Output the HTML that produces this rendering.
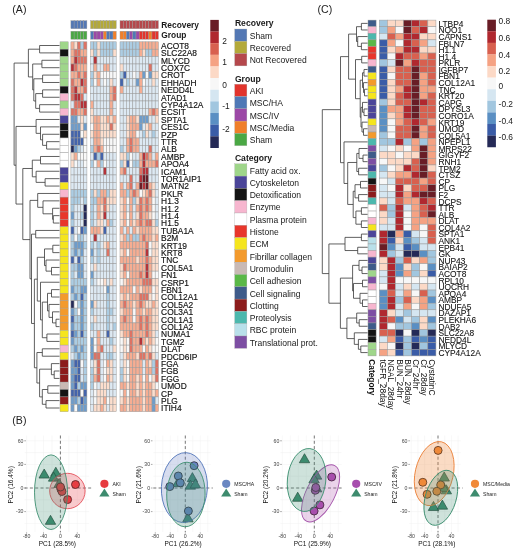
<!DOCTYPE html>
<html><head><meta charset="utf-8"><title>Figure</title>
<style>
html,body{margin:0;padding:0;background:#fff;}
body{width:517px;height:550px;overflow:hidden;}
svg{display:block;font-family:"Liberation Sans",sans-serif;filter:blur(0.5px);}
</style></head>
<body>
<svg width="517" height="550" viewBox="0 0 517 550" shape-rendering="auto">
<rect width="517" height="550" fill="#fff"/>
<rect x="70.90" y="20.7" width="3.2" height="8.0" fill="#5478b4" stroke="#9a9a9a" stroke-width="0.4"/>
<rect x="70.90" y="31.2" width="3.2" height="8.0" fill="#4aa844" stroke="#9a9a9a" stroke-width="0.4"/>
<rect x="74.10" y="20.7" width="3.2" height="8.0" fill="#5478b4" stroke="#9a9a9a" stroke-width="0.4"/>
<rect x="74.10" y="31.2" width="3.2" height="8.0" fill="#4aa844" stroke="#9a9a9a" stroke-width="0.4"/>
<rect x="77.30" y="20.7" width="3.2" height="8.0" fill="#5478b4" stroke="#9a9a9a" stroke-width="0.4"/>
<rect x="77.30" y="31.2" width="3.2" height="8.0" fill="#4aa844" stroke="#9a9a9a" stroke-width="0.4"/>
<rect x="80.50" y="20.7" width="3.2" height="8.0" fill="#5478b4" stroke="#9a9a9a" stroke-width="0.4"/>
<rect x="80.50" y="31.2" width="3.2" height="8.0" fill="#4aa844" stroke="#9a9a9a" stroke-width="0.4"/>
<rect x="83.70" y="20.7" width="3.2" height="8.0" fill="#5478b4" stroke="#9a9a9a" stroke-width="0.4"/>
<rect x="83.70" y="31.2" width="3.2" height="8.0" fill="#4aa844" stroke="#9a9a9a" stroke-width="0.4"/>
<rect x="90.60" y="20.7" width="3.2" height="8.0" fill="#b3a93a" stroke="#9a9a9a" stroke-width="0.4"/>
<rect x="90.60" y="31.2" width="3.2" height="8.0" fill="#4f78b6" stroke="#9a9a9a" stroke-width="0.4"/>
<rect x="93.80" y="20.7" width="3.2" height="8.0" fill="#b3a93a" stroke="#9a9a9a" stroke-width="0.4"/>
<rect x="93.80" y="31.2" width="3.2" height="8.0" fill="#9c48a6" stroke="#9a9a9a" stroke-width="0.4"/>
<rect x="97.00" y="20.7" width="3.2" height="8.0" fill="#b3a93a" stroke="#9a9a9a" stroke-width="0.4"/>
<rect x="97.00" y="31.2" width="3.2" height="8.0" fill="#9c48a6" stroke="#9a9a9a" stroke-width="0.4"/>
<rect x="100.20" y="20.7" width="3.2" height="8.0" fill="#b3a93a" stroke="#9a9a9a" stroke-width="0.4"/>
<rect x="100.20" y="31.2" width="3.2" height="8.0" fill="#9c48a6" stroke="#9a9a9a" stroke-width="0.4"/>
<rect x="103.40" y="20.7" width="3.2" height="8.0" fill="#b3a93a" stroke="#9a9a9a" stroke-width="0.4"/>
<rect x="103.40" y="31.2" width="3.2" height="8.0" fill="#f07f2a" stroke="#9a9a9a" stroke-width="0.4"/>
<rect x="106.60" y="20.7" width="3.2" height="8.0" fill="#b3a93a" stroke="#9a9a9a" stroke-width="0.4"/>
<rect x="106.60" y="31.2" width="3.2" height="8.0" fill="#4f78b6" stroke="#9a9a9a" stroke-width="0.4"/>
<rect x="109.80" y="20.7" width="3.2" height="8.0" fill="#b3a93a" stroke="#9a9a9a" stroke-width="0.4"/>
<rect x="109.80" y="31.2" width="3.2" height="8.0" fill="#4f78b6" stroke="#9a9a9a" stroke-width="0.4"/>
<rect x="113.00" y="20.7" width="3.2" height="8.0" fill="#b3a93a" stroke="#9a9a9a" stroke-width="0.4"/>
<rect x="113.00" y="31.2" width="3.2" height="8.0" fill="#f07f2a" stroke="#9a9a9a" stroke-width="0.4"/>
<rect x="120.00" y="20.7" width="3.2" height="8.0" fill="#b5484c" stroke="#9a9a9a" stroke-width="0.4"/>
<rect x="120.00" y="31.2" width="3.2" height="8.0" fill="#f07f2a" stroke="#9a9a9a" stroke-width="0.4"/>
<rect x="123.20" y="20.7" width="3.2" height="8.0" fill="#b5484c" stroke="#9a9a9a" stroke-width="0.4"/>
<rect x="123.20" y="31.2" width="3.2" height="8.0" fill="#f07f2a" stroke="#9a9a9a" stroke-width="0.4"/>
<rect x="126.40" y="20.7" width="3.2" height="8.0" fill="#b5484c" stroke="#9a9a9a" stroke-width="0.4"/>
<rect x="126.40" y="31.2" width="3.2" height="8.0" fill="#4f78b6" stroke="#9a9a9a" stroke-width="0.4"/>
<rect x="129.60" y="20.7" width="3.2" height="8.0" fill="#b5484c" stroke="#9a9a9a" stroke-width="0.4"/>
<rect x="129.60" y="31.2" width="3.2" height="8.0" fill="#9c48a6" stroke="#9a9a9a" stroke-width="0.4"/>
<rect x="132.80" y="20.7" width="3.2" height="8.0" fill="#b5484c" stroke="#9a9a9a" stroke-width="0.4"/>
<rect x="132.80" y="31.2" width="3.2" height="8.0" fill="#4f78b6" stroke="#9a9a9a" stroke-width="0.4"/>
<rect x="136.00" y="20.7" width="3.2" height="8.0" fill="#b5484c" stroke="#9a9a9a" stroke-width="0.4"/>
<rect x="136.00" y="31.2" width="3.2" height="8.0" fill="#9c48a6" stroke="#9a9a9a" stroke-width="0.4"/>
<rect x="139.20" y="20.7" width="3.2" height="8.0" fill="#b5484c" stroke="#9a9a9a" stroke-width="0.4"/>
<rect x="139.20" y="31.2" width="3.2" height="8.0" fill="#e2342c" stroke="#9a9a9a" stroke-width="0.4"/>
<rect x="142.40" y="20.7" width="3.2" height="8.0" fill="#b5484c" stroke="#9a9a9a" stroke-width="0.4"/>
<rect x="142.40" y="31.2" width="3.2" height="8.0" fill="#e2342c" stroke="#9a9a9a" stroke-width="0.4"/>
<rect x="145.60" y="20.7" width="3.2" height="8.0" fill="#b5484c" stroke="#9a9a9a" stroke-width="0.4"/>
<rect x="145.60" y="31.2" width="3.2" height="8.0" fill="#e2342c" stroke="#9a9a9a" stroke-width="0.4"/>
<rect x="148.80" y="20.7" width="3.2" height="8.0" fill="#b5484c" stroke="#9a9a9a" stroke-width="0.4"/>
<rect x="148.80" y="31.2" width="3.2" height="8.0" fill="#f07f2a" stroke="#9a9a9a" stroke-width="0.4"/>
<rect x="152.00" y="20.7" width="3.2" height="8.0" fill="#b5484c" stroke="#9a9a9a" stroke-width="0.4"/>
<rect x="152.00" y="31.2" width="3.2" height="8.0" fill="#e2342c" stroke="#9a9a9a" stroke-width="0.4"/>
<rect x="155.20" y="20.7" width="3.2" height="8.0" fill="#b5484c" stroke="#9a9a9a" stroke-width="0.4"/>
<rect x="155.20" y="31.2" width="3.2" height="8.0" fill="#e2342c" stroke="#9a9a9a" stroke-width="0.4"/>
<rect x="70.90" y="41.80" width="3.2" height="7.398" fill="#f6ad92" stroke="#9a9a9a" stroke-width="0.5"/>
<rect x="74.10" y="41.80" width="3.2" height="7.398" fill="#fcdecd" stroke="#9a9a9a" stroke-width="0.5"/>
<rect x="77.30" y="41.80" width="3.2" height="7.398" fill="#dd7364" stroke="#9a9a9a" stroke-width="0.5"/>
<rect x="80.50" y="41.80" width="3.2" height="7.398" fill="#accde3" stroke="#9a9a9a" stroke-width="0.5"/>
<rect x="83.70" y="41.80" width="3.2" height="7.398" fill="#dd7364" stroke="#9a9a9a" stroke-width="0.5"/>
<rect x="90.60" y="41.80" width="3.2" height="7.398" fill="#accde3" stroke="#9a9a9a" stroke-width="0.5"/>
<rect x="93.80" y="41.80" width="3.2" height="7.398" fill="#accde3" stroke="#9a9a9a" stroke-width="0.5"/>
<rect x="97.00" y="41.80" width="3.2" height="7.398" fill="#fcdecd" stroke="#9a9a9a" stroke-width="0.5"/>
<rect x="100.20" y="41.80" width="3.2" height="7.398" fill="#accde3" stroke="#9a9a9a" stroke-width="0.5"/>
<rect x="103.40" y="41.80" width="3.2" height="7.398" fill="#accde3" stroke="#9a9a9a" stroke-width="0.5"/>
<rect x="106.60" y="41.80" width="3.2" height="7.398" fill="#accde3" stroke="#9a9a9a" stroke-width="0.5"/>
<rect x="109.80" y="41.80" width="3.2" height="7.398" fill="#accde3" stroke="#9a9a9a" stroke-width="0.5"/>
<rect x="113.00" y="41.80" width="3.2" height="7.398" fill="#accde3" stroke="#9a9a9a" stroke-width="0.5"/>
<rect x="120.00" y="41.80" width="3.2" height="7.398" fill="#accde3" stroke="#9a9a9a" stroke-width="0.5"/>
<rect x="123.20" y="41.80" width="3.2" height="7.398" fill="#accde3" stroke="#9a9a9a" stroke-width="0.5"/>
<rect x="126.40" y="41.80" width="3.2" height="7.398" fill="#accde3" stroke="#9a9a9a" stroke-width="0.5"/>
<rect x="129.60" y="41.80" width="3.2" height="7.398" fill="#accde3" stroke="#9a9a9a" stroke-width="0.5"/>
<rect x="132.80" y="41.80" width="3.2" height="7.398" fill="#accde3" stroke="#9a9a9a" stroke-width="0.5"/>
<rect x="136.00" y="41.80" width="3.2" height="7.398" fill="#accde3" stroke="#9a9a9a" stroke-width="0.5"/>
<rect x="139.20" y="41.80" width="3.2" height="7.398" fill="#f6ad92" stroke="#9a9a9a" stroke-width="0.5"/>
<rect x="142.40" y="41.80" width="3.2" height="7.398" fill="#f6ad92" stroke="#9a9a9a" stroke-width="0.5"/>
<rect x="145.60" y="41.80" width="3.2" height="7.398" fill="#f6ad92" stroke="#9a9a9a" stroke-width="0.5"/>
<rect x="148.80" y="41.80" width="3.2" height="7.398" fill="#f6ad92" stroke="#9a9a9a" stroke-width="0.5"/>
<rect x="152.00" y="41.80" width="3.2" height="7.398" fill="#f6ad92" stroke="#9a9a9a" stroke-width="0.5"/>
<rect x="155.20" y="41.80" width="3.2" height="7.398" fill="#f6ad92" stroke="#9a9a9a" stroke-width="0.5"/>
<rect x="60.0" y="41.80" width="8.2" height="7.398" fill="#9fd68a" stroke="#9a9a9a" stroke-width="0.4"/>
<rect x="70.90" y="49.20" width="3.2" height="7.398" fill="#f6ad92" stroke="#9a9a9a" stroke-width="0.5"/>
<rect x="74.10" y="49.20" width="3.2" height="7.398" fill="#dd7364" stroke="#9a9a9a" stroke-width="0.5"/>
<rect x="77.30" y="49.20" width="3.2" height="7.398" fill="#dd7364" stroke="#9a9a9a" stroke-width="0.5"/>
<rect x="80.50" y="49.20" width="3.2" height="7.398" fill="#f6ad92" stroke="#9a9a9a" stroke-width="0.5"/>
<rect x="83.70" y="49.20" width="3.2" height="7.398" fill="#f6ad92" stroke="#9a9a9a" stroke-width="0.5"/>
<rect x="90.60" y="49.20" width="3.2" height="7.398" fill="#fcdecd" stroke="#9a9a9a" stroke-width="0.5"/>
<rect x="93.80" y="49.20" width="3.2" height="7.398" fill="#accde3" stroke="#9a9a9a" stroke-width="0.5"/>
<rect x="97.00" y="49.20" width="3.2" height="7.398" fill="#fcdecd" stroke="#9a9a9a" stroke-width="0.5"/>
<rect x="100.20" y="49.20" width="3.2" height="7.398" fill="#accde3" stroke="#9a9a9a" stroke-width="0.5"/>
<rect x="103.40" y="49.20" width="3.2" height="7.398" fill="#accde3" stroke="#9a9a9a" stroke-width="0.5"/>
<rect x="106.60" y="49.20" width="3.2" height="7.398" fill="#accde3" stroke="#9a9a9a" stroke-width="0.5"/>
<rect x="109.80" y="49.20" width="3.2" height="7.398" fill="#accde3" stroke="#9a9a9a" stroke-width="0.5"/>
<rect x="113.00" y="49.20" width="3.2" height="7.398" fill="#fcdecd" stroke="#9a9a9a" stroke-width="0.5"/>
<rect x="120.00" y="49.20" width="3.2" height="7.398" fill="#accde3" stroke="#9a9a9a" stroke-width="0.5"/>
<rect x="123.20" y="49.20" width="3.2" height="7.398" fill="#accde3" stroke="#9a9a9a" stroke-width="0.5"/>
<rect x="126.40" y="49.20" width="3.2" height="7.398" fill="#accde3" stroke="#9a9a9a" stroke-width="0.5"/>
<rect x="129.60" y="49.20" width="3.2" height="7.398" fill="#accde3" stroke="#9a9a9a" stroke-width="0.5"/>
<rect x="132.80" y="49.20" width="3.2" height="7.398" fill="#accde3" stroke="#9a9a9a" stroke-width="0.5"/>
<rect x="136.00" y="49.20" width="3.2" height="7.398" fill="#accde3" stroke="#9a9a9a" stroke-width="0.5"/>
<rect x="139.20" y="49.20" width="3.2" height="7.398" fill="#f6ad92" stroke="#9a9a9a" stroke-width="0.5"/>
<rect x="142.40" y="49.20" width="3.2" height="7.398" fill="#fcdecd" stroke="#9a9a9a" stroke-width="0.5"/>
<rect x="145.60" y="49.20" width="3.2" height="7.398" fill="#accde3" stroke="#9a9a9a" stroke-width="0.5"/>
<rect x="148.80" y="49.20" width="3.2" height="7.398" fill="#accde3" stroke="#9a9a9a" stroke-width="0.5"/>
<rect x="152.00" y="49.20" width="3.2" height="7.398" fill="#f6ad92" stroke="#9a9a9a" stroke-width="0.5"/>
<rect x="155.20" y="49.20" width="3.2" height="7.398" fill="#f6ad92" stroke="#9a9a9a" stroke-width="0.5"/>
<rect x="60.0" y="49.20" width="8.2" height="7.398" fill="#141414" stroke="#9a9a9a" stroke-width="0.4"/>
<rect x="70.90" y="56.60" width="3.2" height="7.398" fill="#f6ad92" stroke="#9a9a9a" stroke-width="0.5"/>
<rect x="74.10" y="56.60" width="3.2" height="7.398" fill="#b43339" stroke="#9a9a9a" stroke-width="0.5"/>
<rect x="77.30" y="56.60" width="3.2" height="7.398" fill="#dd7364" stroke="#9a9a9a" stroke-width="0.5"/>
<rect x="80.50" y="56.60" width="3.2" height="7.398" fill="#dd7364" stroke="#9a9a9a" stroke-width="0.5"/>
<rect x="83.70" y="56.60" width="3.2" height="7.398" fill="#dd7364" stroke="#9a9a9a" stroke-width="0.5"/>
<rect x="90.60" y="56.60" width="3.2" height="7.398" fill="#dde9f3" stroke="#9a9a9a" stroke-width="0.5"/>
<rect x="93.80" y="56.60" width="3.2" height="7.398" fill="#b43339" stroke="#9a9a9a" stroke-width="0.5"/>
<rect x="97.00" y="56.60" width="3.2" height="7.398" fill="#dde9f3" stroke="#9a9a9a" stroke-width="0.5"/>
<rect x="100.20" y="56.60" width="3.2" height="7.398" fill="#dde9f3" stroke="#9a9a9a" stroke-width="0.5"/>
<rect x="103.40" y="56.60" width="3.2" height="7.398" fill="#dde9f3" stroke="#9a9a9a" stroke-width="0.5"/>
<rect x="106.60" y="56.60" width="3.2" height="7.398" fill="#dde9f3" stroke="#9a9a9a" stroke-width="0.5"/>
<rect x="109.80" y="56.60" width="3.2" height="7.398" fill="#dde9f3" stroke="#9a9a9a" stroke-width="0.5"/>
<rect x="113.00" y="56.60" width="3.2" height="7.398" fill="#dde9f3" stroke="#9a9a9a" stroke-width="0.5"/>
<rect x="120.00" y="56.60" width="3.2" height="7.398" fill="#dde9f3" stroke="#9a9a9a" stroke-width="0.5"/>
<rect x="123.20" y="56.60" width="3.2" height="7.398" fill="#dde9f3" stroke="#9a9a9a" stroke-width="0.5"/>
<rect x="126.40" y="56.60" width="3.2" height="7.398" fill="#dde9f3" stroke="#9a9a9a" stroke-width="0.5"/>
<rect x="129.60" y="56.60" width="3.2" height="7.398" fill="#dde9f3" stroke="#9a9a9a" stroke-width="0.5"/>
<rect x="132.80" y="56.60" width="3.2" height="7.398" fill="#dde9f3" stroke="#9a9a9a" stroke-width="0.5"/>
<rect x="136.00" y="56.60" width="3.2" height="7.398" fill="#dde9f3" stroke="#9a9a9a" stroke-width="0.5"/>
<rect x="139.20" y="56.60" width="3.2" height="7.398" fill="#dde9f3" stroke="#9a9a9a" stroke-width="0.5"/>
<rect x="142.40" y="56.60" width="3.2" height="7.398" fill="#dde9f3" stroke="#9a9a9a" stroke-width="0.5"/>
<rect x="145.60" y="56.60" width="3.2" height="7.398" fill="#dde9f3" stroke="#9a9a9a" stroke-width="0.5"/>
<rect x="148.80" y="56.60" width="3.2" height="7.398" fill="#dde9f3" stroke="#9a9a9a" stroke-width="0.5"/>
<rect x="152.00" y="56.60" width="3.2" height="7.398" fill="#dde9f3" stroke="#9a9a9a" stroke-width="0.5"/>
<rect x="155.20" y="56.60" width="3.2" height="7.398" fill="#dde9f3" stroke="#9a9a9a" stroke-width="0.5"/>
<rect x="60.0" y="56.60" width="8.2" height="7.398" fill="#9fd68a" stroke="#9a9a9a" stroke-width="0.4"/>
<rect x="70.90" y="63.99" width="3.2" height="7.398" fill="#b43339" stroke="#9a9a9a" stroke-width="0.5"/>
<rect x="74.10" y="63.99" width="3.2" height="7.398" fill="#dd7364" stroke="#9a9a9a" stroke-width="0.5"/>
<rect x="77.30" y="63.99" width="3.2" height="7.398" fill="#f6ad92" stroke="#9a9a9a" stroke-width="0.5"/>
<rect x="80.50" y="63.99" width="3.2" height="7.398" fill="#f6ad92" stroke="#9a9a9a" stroke-width="0.5"/>
<rect x="83.70" y="63.99" width="3.2" height="7.398" fill="#f6ad92" stroke="#9a9a9a" stroke-width="0.5"/>
<rect x="90.60" y="63.99" width="3.2" height="7.398" fill="#dde9f3" stroke="#9a9a9a" stroke-width="0.5"/>
<rect x="93.80" y="63.99" width="3.2" height="7.398" fill="#f6ad92" stroke="#9a9a9a" stroke-width="0.5"/>
<rect x="97.00" y="63.99" width="3.2" height="7.398" fill="#dde9f3" stroke="#9a9a9a" stroke-width="0.5"/>
<rect x="100.20" y="63.99" width="3.2" height="7.398" fill="#dde9f3" stroke="#9a9a9a" stroke-width="0.5"/>
<rect x="103.40" y="63.99" width="3.2" height="7.398" fill="#f6ad92" stroke="#9a9a9a" stroke-width="0.5"/>
<rect x="106.60" y="63.99" width="3.2" height="7.398" fill="#f6ad92" stroke="#9a9a9a" stroke-width="0.5"/>
<rect x="109.80" y="63.99" width="3.2" height="7.398" fill="#dde9f3" stroke="#9a9a9a" stroke-width="0.5"/>
<rect x="113.00" y="63.99" width="3.2" height="7.398" fill="#dde9f3" stroke="#9a9a9a" stroke-width="0.5"/>
<rect x="120.00" y="63.99" width="3.2" height="7.398" fill="#fcdecd" stroke="#9a9a9a" stroke-width="0.5"/>
<rect x="123.20" y="63.99" width="3.2" height="7.398" fill="#dde9f3" stroke="#9a9a9a" stroke-width="0.5"/>
<rect x="126.40" y="63.99" width="3.2" height="7.398" fill="#dde9f3" stroke="#9a9a9a" stroke-width="0.5"/>
<rect x="129.60" y="63.99" width="3.2" height="7.398" fill="#dde9f3" stroke="#9a9a9a" stroke-width="0.5"/>
<rect x="132.80" y="63.99" width="3.2" height="7.398" fill="#dde9f3" stroke="#9a9a9a" stroke-width="0.5"/>
<rect x="136.00" y="63.99" width="3.2" height="7.398" fill="#dde9f3" stroke="#9a9a9a" stroke-width="0.5"/>
<rect x="139.20" y="63.99" width="3.2" height="7.398" fill="#dde9f3" stroke="#9a9a9a" stroke-width="0.5"/>
<rect x="142.40" y="63.99" width="3.2" height="7.398" fill="#dde9f3" stroke="#9a9a9a" stroke-width="0.5"/>
<rect x="145.60" y="63.99" width="3.2" height="7.398" fill="#dde9f3" stroke="#9a9a9a" stroke-width="0.5"/>
<rect x="148.80" y="63.99" width="3.2" height="7.398" fill="#dd7364" stroke="#9a9a9a" stroke-width="0.5"/>
<rect x="152.00" y="63.99" width="3.2" height="7.398" fill="#dde9f3" stroke="#9a9a9a" stroke-width="0.5"/>
<rect x="155.20" y="63.99" width="3.2" height="7.398" fill="#dde9f3" stroke="#9a9a9a" stroke-width="0.5"/>
<rect x="60.0" y="63.99" width="8.2" height="7.398" fill="#9fd68a" stroke="#9a9a9a" stroke-width="0.4"/>
<rect x="70.90" y="71.39" width="3.2" height="7.398" fill="#f6ad92" stroke="#9a9a9a" stroke-width="0.5"/>
<rect x="74.10" y="71.39" width="3.2" height="7.398" fill="#f6ad92" stroke="#9a9a9a" stroke-width="0.5"/>
<rect x="77.30" y="71.39" width="3.2" height="7.398" fill="#dd7364" stroke="#9a9a9a" stroke-width="0.5"/>
<rect x="80.50" y="71.39" width="3.2" height="7.398" fill="#f6ad92" stroke="#9a9a9a" stroke-width="0.5"/>
<rect x="83.70" y="71.39" width="3.2" height="7.398" fill="#dd7364" stroke="#9a9a9a" stroke-width="0.5"/>
<rect x="90.60" y="71.39" width="3.2" height="7.398" fill="#accde3" stroke="#9a9a9a" stroke-width="0.5"/>
<rect x="93.80" y="71.39" width="3.2" height="7.398" fill="#fcdecd" stroke="#9a9a9a" stroke-width="0.5"/>
<rect x="97.00" y="71.39" width="3.2" height="7.398" fill="#f6ad92" stroke="#9a9a9a" stroke-width="0.5"/>
<rect x="100.20" y="71.39" width="3.2" height="7.398" fill="#f8f8f8" stroke="#9a9a9a" stroke-width="0.5"/>
<rect x="103.40" y="71.39" width="3.2" height="7.398" fill="#f8f8f8" stroke="#9a9a9a" stroke-width="0.5"/>
<rect x="106.60" y="71.39" width="3.2" height="7.398" fill="#f8f8f8" stroke="#9a9a9a" stroke-width="0.5"/>
<rect x="109.80" y="71.39" width="3.2" height="7.398" fill="#f8f8f8" stroke="#9a9a9a" stroke-width="0.5"/>
<rect x="113.00" y="71.39" width="3.2" height="7.398" fill="#f8f8f8" stroke="#9a9a9a" stroke-width="0.5"/>
<rect x="120.00" y="71.39" width="3.2" height="7.398" fill="#accde3" stroke="#9a9a9a" stroke-width="0.5"/>
<rect x="123.20" y="71.39" width="3.2" height="7.398" fill="#4464ab" stroke="#9a9a9a" stroke-width="0.5"/>
<rect x="126.40" y="71.39" width="3.2" height="7.398" fill="#dde9f3" stroke="#9a9a9a" stroke-width="0.5"/>
<rect x="129.60" y="71.39" width="3.2" height="7.398" fill="#dde9f3" stroke="#9a9a9a" stroke-width="0.5"/>
<rect x="132.80" y="71.39" width="3.2" height="7.398" fill="#f8f8f8" stroke="#9a9a9a" stroke-width="0.5"/>
<rect x="136.00" y="71.39" width="3.2" height="7.398" fill="#dde9f3" stroke="#9a9a9a" stroke-width="0.5"/>
<rect x="139.20" y="71.39" width="3.2" height="7.398" fill="#f6ad92" stroke="#9a9a9a" stroke-width="0.5"/>
<rect x="142.40" y="71.39" width="3.2" height="7.398" fill="#6e9cca" stroke="#9a9a9a" stroke-width="0.5"/>
<rect x="145.60" y="71.39" width="3.2" height="7.398" fill="#f8f8f8" stroke="#9a9a9a" stroke-width="0.5"/>
<rect x="148.80" y="71.39" width="3.2" height="7.398" fill="#6e9cca" stroke="#9a9a9a" stroke-width="0.5"/>
<rect x="152.00" y="71.39" width="3.2" height="7.398" fill="#fcdecd" stroke="#9a9a9a" stroke-width="0.5"/>
<rect x="155.20" y="71.39" width="3.2" height="7.398" fill="#fcdecd" stroke="#9a9a9a" stroke-width="0.5"/>
<rect x="60.0" y="71.39" width="8.2" height="7.398" fill="#9fd68a" stroke="#9a9a9a" stroke-width="0.4"/>
<rect x="70.90" y="78.79" width="3.2" height="7.398" fill="#dd7364" stroke="#9a9a9a" stroke-width="0.5"/>
<rect x="74.10" y="78.79" width="3.2" height="7.398" fill="#f6ad92" stroke="#9a9a9a" stroke-width="0.5"/>
<rect x="77.30" y="78.79" width="3.2" height="7.398" fill="#f6ad92" stroke="#9a9a9a" stroke-width="0.5"/>
<rect x="80.50" y="78.79" width="3.2" height="7.398" fill="#b43339" stroke="#9a9a9a" stroke-width="0.5"/>
<rect x="83.70" y="78.79" width="3.2" height="7.398" fill="#dd7364" stroke="#9a9a9a" stroke-width="0.5"/>
<rect x="90.60" y="78.79" width="3.2" height="7.398" fill="#accde3" stroke="#9a9a9a" stroke-width="0.5"/>
<rect x="93.80" y="78.79" width="3.2" height="7.398" fill="#f8f8f8" stroke="#9a9a9a" stroke-width="0.5"/>
<rect x="97.00" y="78.79" width="3.2" height="7.398" fill="#f6ad92" stroke="#9a9a9a" stroke-width="0.5"/>
<rect x="100.20" y="78.79" width="3.2" height="7.398" fill="#dde9f3" stroke="#9a9a9a" stroke-width="0.5"/>
<rect x="103.40" y="78.79" width="3.2" height="7.398" fill="#f8f8f8" stroke="#9a9a9a" stroke-width="0.5"/>
<rect x="106.60" y="78.79" width="3.2" height="7.398" fill="#dde9f3" stroke="#9a9a9a" stroke-width="0.5"/>
<rect x="109.80" y="78.79" width="3.2" height="7.398" fill="#fcdecd" stroke="#9a9a9a" stroke-width="0.5"/>
<rect x="113.00" y="78.79" width="3.2" height="7.398" fill="#dde9f3" stroke="#9a9a9a" stroke-width="0.5"/>
<rect x="120.00" y="78.79" width="3.2" height="7.398" fill="#4464ab" stroke="#9a9a9a" stroke-width="0.5"/>
<rect x="123.20" y="78.79" width="3.2" height="7.398" fill="#dde9f3" stroke="#9a9a9a" stroke-width="0.5"/>
<rect x="126.40" y="78.79" width="3.2" height="7.398" fill="#accde3" stroke="#9a9a9a" stroke-width="0.5"/>
<rect x="129.60" y="78.79" width="3.2" height="7.398" fill="#dde9f3" stroke="#9a9a9a" stroke-width="0.5"/>
<rect x="132.80" y="78.79" width="3.2" height="7.398" fill="#dde9f3" stroke="#9a9a9a" stroke-width="0.5"/>
<rect x="136.00" y="78.79" width="3.2" height="7.398" fill="#6e9cca" stroke="#9a9a9a" stroke-width="0.5"/>
<rect x="139.20" y="78.79" width="3.2" height="7.398" fill="#f6ad92" stroke="#9a9a9a" stroke-width="0.5"/>
<rect x="142.40" y="78.79" width="3.2" height="7.398" fill="#f8f8f8" stroke="#9a9a9a" stroke-width="0.5"/>
<rect x="145.60" y="78.79" width="3.2" height="7.398" fill="#dde9f3" stroke="#9a9a9a" stroke-width="0.5"/>
<rect x="148.80" y="78.79" width="3.2" height="7.398" fill="#dde9f3" stroke="#9a9a9a" stroke-width="0.5"/>
<rect x="152.00" y="78.79" width="3.2" height="7.398" fill="#fcdecd" stroke="#9a9a9a" stroke-width="0.5"/>
<rect x="155.20" y="78.79" width="3.2" height="7.398" fill="#dde9f3" stroke="#9a9a9a" stroke-width="0.5"/>
<rect x="60.0" y="78.79" width="8.2" height="7.398" fill="#9fd68a" stroke="#9a9a9a" stroke-width="0.4"/>
<rect x="70.90" y="86.19" width="3.2" height="7.398" fill="#dd7364" stroke="#9a9a9a" stroke-width="0.5"/>
<rect x="74.10" y="86.19" width="3.2" height="7.398" fill="#b43339" stroke="#9a9a9a" stroke-width="0.5"/>
<rect x="77.30" y="86.19" width="3.2" height="7.398" fill="#f6ad92" stroke="#9a9a9a" stroke-width="0.5"/>
<rect x="80.50" y="86.19" width="3.2" height="7.398" fill="#f6ad92" stroke="#9a9a9a" stroke-width="0.5"/>
<rect x="83.70" y="86.19" width="3.2" height="7.398" fill="#dd7364" stroke="#9a9a9a" stroke-width="0.5"/>
<rect x="90.60" y="86.19" width="3.2" height="7.398" fill="#dde9f3" stroke="#9a9a9a" stroke-width="0.5"/>
<rect x="93.80" y="86.19" width="3.2" height="7.398" fill="#dde9f3" stroke="#9a9a9a" stroke-width="0.5"/>
<rect x="97.00" y="86.19" width="3.2" height="7.398" fill="#dde9f3" stroke="#9a9a9a" stroke-width="0.5"/>
<rect x="100.20" y="86.19" width="3.2" height="7.398" fill="#dde9f3" stroke="#9a9a9a" stroke-width="0.5"/>
<rect x="103.40" y="86.19" width="3.2" height="7.398" fill="#dde9f3" stroke="#9a9a9a" stroke-width="0.5"/>
<rect x="106.60" y="86.19" width="3.2" height="7.398" fill="#dde9f3" stroke="#9a9a9a" stroke-width="0.5"/>
<rect x="109.80" y="86.19" width="3.2" height="7.398" fill="#f6ad92" stroke="#9a9a9a" stroke-width="0.5"/>
<rect x="113.00" y="86.19" width="3.2" height="7.398" fill="#dd7364" stroke="#9a9a9a" stroke-width="0.5"/>
<rect x="120.00" y="86.19" width="3.2" height="7.398" fill="#f6ad92" stroke="#9a9a9a" stroke-width="0.5"/>
<rect x="123.20" y="86.19" width="3.2" height="7.398" fill="#dde9f3" stroke="#9a9a9a" stroke-width="0.5"/>
<rect x="126.40" y="86.19" width="3.2" height="7.398" fill="#dde9f3" stroke="#9a9a9a" stroke-width="0.5"/>
<rect x="129.60" y="86.19" width="3.2" height="7.398" fill="#dde9f3" stroke="#9a9a9a" stroke-width="0.5"/>
<rect x="132.80" y="86.19" width="3.2" height="7.398" fill="#dde9f3" stroke="#9a9a9a" stroke-width="0.5"/>
<rect x="136.00" y="86.19" width="3.2" height="7.398" fill="#dde9f3" stroke="#9a9a9a" stroke-width="0.5"/>
<rect x="139.20" y="86.19" width="3.2" height="7.398" fill="#f6ad92" stroke="#9a9a9a" stroke-width="0.5"/>
<rect x="142.40" y="86.19" width="3.2" height="7.398" fill="#dde9f3" stroke="#9a9a9a" stroke-width="0.5"/>
<rect x="145.60" y="86.19" width="3.2" height="7.398" fill="#dde9f3" stroke="#9a9a9a" stroke-width="0.5"/>
<rect x="148.80" y="86.19" width="3.2" height="7.398" fill="#dde9f3" stroke="#9a9a9a" stroke-width="0.5"/>
<rect x="152.00" y="86.19" width="3.2" height="7.398" fill="#dde9f3" stroke="#9a9a9a" stroke-width="0.5"/>
<rect x="155.20" y="86.19" width="3.2" height="7.398" fill="#dde9f3" stroke="#9a9a9a" stroke-width="0.5"/>
<rect x="60.0" y="86.19" width="8.2" height="7.398" fill="#141414" stroke="#9a9a9a" stroke-width="0.4"/>
<rect x="70.90" y="93.59" width="3.2" height="7.398" fill="#dd7364" stroke="#9a9a9a" stroke-width="0.5"/>
<rect x="74.10" y="93.59" width="3.2" height="7.398" fill="#b43339" stroke="#9a9a9a" stroke-width="0.5"/>
<rect x="77.30" y="93.59" width="3.2" height="7.398" fill="#b43339" stroke="#9a9a9a" stroke-width="0.5"/>
<rect x="80.50" y="93.59" width="3.2" height="7.398" fill="#dd7364" stroke="#9a9a9a" stroke-width="0.5"/>
<rect x="83.70" y="93.59" width="3.2" height="7.398" fill="#dde9f3" stroke="#9a9a9a" stroke-width="0.5"/>
<rect x="90.60" y="93.59" width="3.2" height="7.398" fill="#dde9f3" stroke="#9a9a9a" stroke-width="0.5"/>
<rect x="93.80" y="93.59" width="3.2" height="7.398" fill="#dde9f3" stroke="#9a9a9a" stroke-width="0.5"/>
<rect x="97.00" y="93.59" width="3.2" height="7.398" fill="#dde9f3" stroke="#9a9a9a" stroke-width="0.5"/>
<rect x="100.20" y="93.59" width="3.2" height="7.398" fill="#dde9f3" stroke="#9a9a9a" stroke-width="0.5"/>
<rect x="103.40" y="93.59" width="3.2" height="7.398" fill="#dde9f3" stroke="#9a9a9a" stroke-width="0.5"/>
<rect x="106.60" y="93.59" width="3.2" height="7.398" fill="#dde9f3" stroke="#9a9a9a" stroke-width="0.5"/>
<rect x="109.80" y="93.59" width="3.2" height="7.398" fill="#f6ad92" stroke="#9a9a9a" stroke-width="0.5"/>
<rect x="113.00" y="93.59" width="3.2" height="7.398" fill="#dd7364" stroke="#9a9a9a" stroke-width="0.5"/>
<rect x="120.00" y="93.59" width="3.2" height="7.398" fill="#dde9f3" stroke="#9a9a9a" stroke-width="0.5"/>
<rect x="123.20" y="93.59" width="3.2" height="7.398" fill="#dde9f3" stroke="#9a9a9a" stroke-width="0.5"/>
<rect x="126.40" y="93.59" width="3.2" height="7.398" fill="#dde9f3" stroke="#9a9a9a" stroke-width="0.5"/>
<rect x="129.60" y="93.59" width="3.2" height="7.398" fill="#dde9f3" stroke="#9a9a9a" stroke-width="0.5"/>
<rect x="132.80" y="93.59" width="3.2" height="7.398" fill="#dde9f3" stroke="#9a9a9a" stroke-width="0.5"/>
<rect x="136.00" y="93.59" width="3.2" height="7.398" fill="#dde9f3" stroke="#9a9a9a" stroke-width="0.5"/>
<rect x="139.20" y="93.59" width="3.2" height="7.398" fill="#dde9f3" stroke="#9a9a9a" stroke-width="0.5"/>
<rect x="142.40" y="93.59" width="3.2" height="7.398" fill="#dde9f3" stroke="#9a9a9a" stroke-width="0.5"/>
<rect x="145.60" y="93.59" width="3.2" height="7.398" fill="#dde9f3" stroke="#9a9a9a" stroke-width="0.5"/>
<rect x="148.80" y="93.59" width="3.2" height="7.398" fill="#dde9f3" stroke="#9a9a9a" stroke-width="0.5"/>
<rect x="152.00" y="93.59" width="3.2" height="7.398" fill="#dde9f3" stroke="#9a9a9a" stroke-width="0.5"/>
<rect x="155.20" y="93.59" width="3.2" height="7.398" fill="#dde9f3" stroke="#9a9a9a" stroke-width="0.5"/>
<rect x="60.0" y="93.59" width="8.2" height="7.398" fill="#f7b6cf" stroke="#9a9a9a" stroke-width="0.4"/>
<rect x="70.90" y="100.98" width="3.2" height="7.398" fill="#dde9f3" stroke="#9a9a9a" stroke-width="0.5"/>
<rect x="74.10" y="100.98" width="3.2" height="7.398" fill="#dd7364" stroke="#9a9a9a" stroke-width="0.5"/>
<rect x="77.30" y="100.98" width="3.2" height="7.398" fill="#dd7364" stroke="#9a9a9a" stroke-width="0.5"/>
<rect x="80.50" y="100.98" width="3.2" height="7.398" fill="#b43339" stroke="#9a9a9a" stroke-width="0.5"/>
<rect x="83.70" y="100.98" width="3.2" height="7.398" fill="#b43339" stroke="#9a9a9a" stroke-width="0.5"/>
<rect x="90.60" y="100.98" width="3.2" height="7.398" fill="#f6ad92" stroke="#9a9a9a" stroke-width="0.5"/>
<rect x="93.80" y="100.98" width="3.2" height="7.398" fill="#dde9f3" stroke="#9a9a9a" stroke-width="0.5"/>
<rect x="97.00" y="100.98" width="3.2" height="7.398" fill="#dde9f3" stroke="#9a9a9a" stroke-width="0.5"/>
<rect x="100.20" y="100.98" width="3.2" height="7.398" fill="#dde9f3" stroke="#9a9a9a" stroke-width="0.5"/>
<rect x="103.40" y="100.98" width="3.2" height="7.398" fill="#dde9f3" stroke="#9a9a9a" stroke-width="0.5"/>
<rect x="106.60" y="100.98" width="3.2" height="7.398" fill="#dde9f3" stroke="#9a9a9a" stroke-width="0.5"/>
<rect x="109.80" y="100.98" width="3.2" height="7.398" fill="#f6ad92" stroke="#9a9a9a" stroke-width="0.5"/>
<rect x="113.00" y="100.98" width="3.2" height="7.398" fill="#dde9f3" stroke="#9a9a9a" stroke-width="0.5"/>
<rect x="120.00" y="100.98" width="3.2" height="7.398" fill="#dde9f3" stroke="#9a9a9a" stroke-width="0.5"/>
<rect x="123.20" y="100.98" width="3.2" height="7.398" fill="#dde9f3" stroke="#9a9a9a" stroke-width="0.5"/>
<rect x="126.40" y="100.98" width="3.2" height="7.398" fill="#dde9f3" stroke="#9a9a9a" stroke-width="0.5"/>
<rect x="129.60" y="100.98" width="3.2" height="7.398" fill="#dde9f3" stroke="#9a9a9a" stroke-width="0.5"/>
<rect x="132.80" y="100.98" width="3.2" height="7.398" fill="#dde9f3" stroke="#9a9a9a" stroke-width="0.5"/>
<rect x="136.00" y="100.98" width="3.2" height="7.398" fill="#dde9f3" stroke="#9a9a9a" stroke-width="0.5"/>
<rect x="139.20" y="100.98" width="3.2" height="7.398" fill="#dde9f3" stroke="#9a9a9a" stroke-width="0.5"/>
<rect x="142.40" y="100.98" width="3.2" height="7.398" fill="#dde9f3" stroke="#9a9a9a" stroke-width="0.5"/>
<rect x="145.60" y="100.98" width="3.2" height="7.398" fill="#dde9f3" stroke="#9a9a9a" stroke-width="0.5"/>
<rect x="148.80" y="100.98" width="3.2" height="7.398" fill="#dde9f3" stroke="#9a9a9a" stroke-width="0.5"/>
<rect x="152.00" y="100.98" width="3.2" height="7.398" fill="#dde9f3" stroke="#9a9a9a" stroke-width="0.5"/>
<rect x="155.20" y="100.98" width="3.2" height="7.398" fill="#dde9f3" stroke="#9a9a9a" stroke-width="0.5"/>
<rect x="60.0" y="100.98" width="8.2" height="7.398" fill="#9fd68a" stroke="#9a9a9a" stroke-width="0.4"/>
<rect x="70.90" y="108.38" width="3.2" height="7.398" fill="#dd7364" stroke="#9a9a9a" stroke-width="0.5"/>
<rect x="74.10" y="108.38" width="3.2" height="7.398" fill="#dd7364" stroke="#9a9a9a" stroke-width="0.5"/>
<rect x="77.30" y="108.38" width="3.2" height="7.398" fill="#f6ad92" stroke="#9a9a9a" stroke-width="0.5"/>
<rect x="80.50" y="108.38" width="3.2" height="7.398" fill="#f6ad92" stroke="#9a9a9a" stroke-width="0.5"/>
<rect x="83.70" y="108.38" width="3.2" height="7.398" fill="#dd7364" stroke="#9a9a9a" stroke-width="0.5"/>
<rect x="90.60" y="108.38" width="3.2" height="7.398" fill="#fcdecd" stroke="#9a9a9a" stroke-width="0.5"/>
<rect x="93.80" y="108.38" width="3.2" height="7.398" fill="#dde9f3" stroke="#9a9a9a" stroke-width="0.5"/>
<rect x="97.00" y="108.38" width="3.2" height="7.398" fill="#dde9f3" stroke="#9a9a9a" stroke-width="0.5"/>
<rect x="100.20" y="108.38" width="3.2" height="7.398" fill="#dde9f3" stroke="#9a9a9a" stroke-width="0.5"/>
<rect x="103.40" y="108.38" width="3.2" height="7.398" fill="#dde9f3" stroke="#9a9a9a" stroke-width="0.5"/>
<rect x="106.60" y="108.38" width="3.2" height="7.398" fill="#dde9f3" stroke="#9a9a9a" stroke-width="0.5"/>
<rect x="109.80" y="108.38" width="3.2" height="7.398" fill="#f6ad92" stroke="#9a9a9a" stroke-width="0.5"/>
<rect x="113.00" y="108.38" width="3.2" height="7.398" fill="#dde9f3" stroke="#9a9a9a" stroke-width="0.5"/>
<rect x="120.00" y="108.38" width="3.2" height="7.398" fill="#dde9f3" stroke="#9a9a9a" stroke-width="0.5"/>
<rect x="123.20" y="108.38" width="3.2" height="7.398" fill="#dde9f3" stroke="#9a9a9a" stroke-width="0.5"/>
<rect x="126.40" y="108.38" width="3.2" height="7.398" fill="#dde9f3" stroke="#9a9a9a" stroke-width="0.5"/>
<rect x="129.60" y="108.38" width="3.2" height="7.398" fill="#dde9f3" stroke="#9a9a9a" stroke-width="0.5"/>
<rect x="132.80" y="108.38" width="3.2" height="7.398" fill="#dde9f3" stroke="#9a9a9a" stroke-width="0.5"/>
<rect x="136.00" y="108.38" width="3.2" height="7.398" fill="#dde9f3" stroke="#9a9a9a" stroke-width="0.5"/>
<rect x="139.20" y="108.38" width="3.2" height="7.398" fill="#dde9f3" stroke="#9a9a9a" stroke-width="0.5"/>
<rect x="142.40" y="108.38" width="3.2" height="7.398" fill="#dde9f3" stroke="#9a9a9a" stroke-width="0.5"/>
<rect x="145.60" y="108.38" width="3.2" height="7.398" fill="#dde9f3" stroke="#9a9a9a" stroke-width="0.5"/>
<rect x="148.80" y="108.38" width="3.2" height="7.398" fill="#f6ad92" stroke="#9a9a9a" stroke-width="0.5"/>
<rect x="152.00" y="108.38" width="3.2" height="7.398" fill="#dd7364" stroke="#9a9a9a" stroke-width="0.5"/>
<rect x="155.20" y="108.38" width="3.2" height="7.398" fill="#f6ad92" stroke="#9a9a9a" stroke-width="0.5"/>
<rect x="60.0" y="108.38" width="8.2" height="7.398" fill="#f7b6cf" stroke="#9a9a9a" stroke-width="0.4"/>
<rect x="70.90" y="115.78" width="3.2" height="7.398" fill="#6e9cca" stroke="#9a9a9a" stroke-width="0.5"/>
<rect x="74.10" y="115.78" width="3.2" height="7.398" fill="#6e9cca" stroke="#9a9a9a" stroke-width="0.5"/>
<rect x="77.30" y="115.78" width="3.2" height="7.398" fill="#dde9f3" stroke="#9a9a9a" stroke-width="0.5"/>
<rect x="80.50" y="115.78" width="3.2" height="7.398" fill="#fcdecd" stroke="#9a9a9a" stroke-width="0.5"/>
<rect x="83.70" y="115.78" width="3.2" height="7.398" fill="#dde9f3" stroke="#9a9a9a" stroke-width="0.5"/>
<rect x="90.60" y="115.78" width="3.2" height="7.398" fill="#fcdecd" stroke="#9a9a9a" stroke-width="0.5"/>
<rect x="93.80" y="115.78" width="3.2" height="7.398" fill="#f6ad92" stroke="#9a9a9a" stroke-width="0.5"/>
<rect x="97.00" y="115.78" width="3.2" height="7.398" fill="#f6ad92" stroke="#9a9a9a" stroke-width="0.5"/>
<rect x="100.20" y="115.78" width="3.2" height="7.398" fill="#fcdecd" stroke="#9a9a9a" stroke-width="0.5"/>
<rect x="103.40" y="115.78" width="3.2" height="7.398" fill="#fcdecd" stroke="#9a9a9a" stroke-width="0.5"/>
<rect x="106.60" y="115.78" width="3.2" height="7.398" fill="#f6ad92" stroke="#9a9a9a" stroke-width="0.5"/>
<rect x="109.80" y="115.78" width="3.2" height="7.398" fill="#fcdecd" stroke="#9a9a9a" stroke-width="0.5"/>
<rect x="113.00" y="115.78" width="3.2" height="7.398" fill="#f6ad92" stroke="#9a9a9a" stroke-width="0.5"/>
<rect x="120.00" y="115.78" width="3.2" height="7.398" fill="#dde9f3" stroke="#9a9a9a" stroke-width="0.5"/>
<rect x="123.20" y="115.78" width="3.2" height="7.398" fill="#dde9f3" stroke="#9a9a9a" stroke-width="0.5"/>
<rect x="126.40" y="115.78" width="3.2" height="7.398" fill="#fcdecd" stroke="#9a9a9a" stroke-width="0.5"/>
<rect x="129.60" y="115.78" width="3.2" height="7.398" fill="#f6ad92" stroke="#9a9a9a" stroke-width="0.5"/>
<rect x="132.80" y="115.78" width="3.2" height="7.398" fill="#f6ad92" stroke="#9a9a9a" stroke-width="0.5"/>
<rect x="136.00" y="115.78" width="3.2" height="7.398" fill="#fcdecd" stroke="#9a9a9a" stroke-width="0.5"/>
<rect x="139.20" y="115.78" width="3.2" height="7.398" fill="#6e9cca" stroke="#9a9a9a" stroke-width="0.5"/>
<rect x="142.40" y="115.78" width="3.2" height="7.398" fill="#6e9cca" stroke="#9a9a9a" stroke-width="0.5"/>
<rect x="145.60" y="115.78" width="3.2" height="7.398" fill="#6e9cca" stroke="#9a9a9a" stroke-width="0.5"/>
<rect x="148.80" y="115.78" width="3.2" height="7.398" fill="#dde9f3" stroke="#9a9a9a" stroke-width="0.5"/>
<rect x="152.00" y="115.78" width="3.2" height="7.398" fill="#dde9f3" stroke="#9a9a9a" stroke-width="0.5"/>
<rect x="155.20" y="115.78" width="3.2" height="7.398" fill="#fcdecd" stroke="#9a9a9a" stroke-width="0.5"/>
<rect x="60.0" y="115.78" width="8.2" height="7.398" fill="#4b4599" stroke="#9a9a9a" stroke-width="0.4"/>
<rect x="70.90" y="123.18" width="3.2" height="7.398" fill="#6e9cca" stroke="#9a9a9a" stroke-width="0.5"/>
<rect x="74.10" y="123.18" width="3.2" height="7.398" fill="#6e9cca" stroke="#9a9a9a" stroke-width="0.5"/>
<rect x="77.30" y="123.18" width="3.2" height="7.398" fill="#6e9cca" stroke="#9a9a9a" stroke-width="0.5"/>
<rect x="80.50" y="123.18" width="3.2" height="7.398" fill="#fcdecd" stroke="#9a9a9a" stroke-width="0.5"/>
<rect x="83.70" y="123.18" width="3.2" height="7.398" fill="#6e9cca" stroke="#9a9a9a" stroke-width="0.5"/>
<rect x="90.60" y="123.18" width="3.2" height="7.398" fill="#f8f8f8" stroke="#9a9a9a" stroke-width="0.5"/>
<rect x="93.80" y="123.18" width="3.2" height="7.398" fill="#f6ad92" stroke="#9a9a9a" stroke-width="0.5"/>
<rect x="97.00" y="123.18" width="3.2" height="7.398" fill="#f6ad92" stroke="#9a9a9a" stroke-width="0.5"/>
<rect x="100.20" y="123.18" width="3.2" height="7.398" fill="#fcdecd" stroke="#9a9a9a" stroke-width="0.5"/>
<rect x="103.40" y="123.18" width="3.2" height="7.398" fill="#fcdecd" stroke="#9a9a9a" stroke-width="0.5"/>
<rect x="106.60" y="123.18" width="3.2" height="7.398" fill="#fcdecd" stroke="#9a9a9a" stroke-width="0.5"/>
<rect x="109.80" y="123.18" width="3.2" height="7.398" fill="#dd7364" stroke="#9a9a9a" stroke-width="0.5"/>
<rect x="113.00" y="123.18" width="3.2" height="7.398" fill="#fcdecd" stroke="#9a9a9a" stroke-width="0.5"/>
<rect x="120.00" y="123.18" width="3.2" height="7.398" fill="#dde9f3" stroke="#9a9a9a" stroke-width="0.5"/>
<rect x="123.20" y="123.18" width="3.2" height="7.398" fill="#dde9f3" stroke="#9a9a9a" stroke-width="0.5"/>
<rect x="126.40" y="123.18" width="3.2" height="7.398" fill="#fcdecd" stroke="#9a9a9a" stroke-width="0.5"/>
<rect x="129.60" y="123.18" width="3.2" height="7.398" fill="#f6ad92" stroke="#9a9a9a" stroke-width="0.5"/>
<rect x="132.80" y="123.18" width="3.2" height="7.398" fill="#f6ad92" stroke="#9a9a9a" stroke-width="0.5"/>
<rect x="136.00" y="123.18" width="3.2" height="7.398" fill="#f6ad92" stroke="#9a9a9a" stroke-width="0.5"/>
<rect x="139.20" y="123.18" width="3.2" height="7.398" fill="#6e9cca" stroke="#9a9a9a" stroke-width="0.5"/>
<rect x="142.40" y="123.18" width="3.2" height="7.398" fill="#dde9f3" stroke="#9a9a9a" stroke-width="0.5"/>
<rect x="145.60" y="123.18" width="3.2" height="7.398" fill="#fcdecd" stroke="#9a9a9a" stroke-width="0.5"/>
<rect x="148.80" y="123.18" width="3.2" height="7.398" fill="#f6ad92" stroke="#9a9a9a" stroke-width="0.5"/>
<rect x="152.00" y="123.18" width="3.2" height="7.398" fill="#dde9f3" stroke="#9a9a9a" stroke-width="0.5"/>
<rect x="155.20" y="123.18" width="3.2" height="7.398" fill="#dde9f3" stroke="#9a9a9a" stroke-width="0.5"/>
<rect x="60.0" y="123.18" width="8.2" height="7.398" fill="#141414" stroke="#9a9a9a" stroke-width="0.4"/>
<rect x="70.90" y="130.58" width="3.2" height="7.398" fill="#4464ab" stroke="#9a9a9a" stroke-width="0.5"/>
<rect x="74.10" y="130.58" width="3.2" height="7.398" fill="#4464ab" stroke="#9a9a9a" stroke-width="0.5"/>
<rect x="77.30" y="130.58" width="3.2" height="7.398" fill="#4464ab" stroke="#9a9a9a" stroke-width="0.5"/>
<rect x="80.50" y="130.58" width="3.2" height="7.398" fill="#f8f8f8" stroke="#9a9a9a" stroke-width="0.5"/>
<rect x="83.70" y="130.58" width="3.2" height="7.398" fill="#fcdecd" stroke="#9a9a9a" stroke-width="0.5"/>
<rect x="90.60" y="130.58" width="3.2" height="7.398" fill="#fcdecd" stroke="#9a9a9a" stroke-width="0.5"/>
<rect x="93.80" y="130.58" width="3.2" height="7.398" fill="#f6ad92" stroke="#9a9a9a" stroke-width="0.5"/>
<rect x="97.00" y="130.58" width="3.2" height="7.398" fill="#f6ad92" stroke="#9a9a9a" stroke-width="0.5"/>
<rect x="100.20" y="130.58" width="3.2" height="7.398" fill="#fcdecd" stroke="#9a9a9a" stroke-width="0.5"/>
<rect x="103.40" y="130.58" width="3.2" height="7.398" fill="#fcdecd" stroke="#9a9a9a" stroke-width="0.5"/>
<rect x="106.60" y="130.58" width="3.2" height="7.398" fill="#fcdecd" stroke="#9a9a9a" stroke-width="0.5"/>
<rect x="109.80" y="130.58" width="3.2" height="7.398" fill="#fcdecd" stroke="#9a9a9a" stroke-width="0.5"/>
<rect x="113.00" y="130.58" width="3.2" height="7.398" fill="#fcdecd" stroke="#9a9a9a" stroke-width="0.5"/>
<rect x="120.00" y="130.58" width="3.2" height="7.398" fill="#dde9f3" stroke="#9a9a9a" stroke-width="0.5"/>
<rect x="123.20" y="130.58" width="3.2" height="7.398" fill="#dde9f3" stroke="#9a9a9a" stroke-width="0.5"/>
<rect x="126.40" y="130.58" width="3.2" height="7.398" fill="#fcdecd" stroke="#9a9a9a" stroke-width="0.5"/>
<rect x="129.60" y="130.58" width="3.2" height="7.398" fill="#f6ad92" stroke="#9a9a9a" stroke-width="0.5"/>
<rect x="132.80" y="130.58" width="3.2" height="7.398" fill="#f6ad92" stroke="#9a9a9a" stroke-width="0.5"/>
<rect x="136.00" y="130.58" width="3.2" height="7.398" fill="#f8f8f8" stroke="#9a9a9a" stroke-width="0.5"/>
<rect x="139.20" y="130.58" width="3.2" height="7.398" fill="#dde9f3" stroke="#9a9a9a" stroke-width="0.5"/>
<rect x="142.40" y="130.58" width="3.2" height="7.398" fill="#accde3" stroke="#9a9a9a" stroke-width="0.5"/>
<rect x="145.60" y="130.58" width="3.2" height="7.398" fill="#fcdecd" stroke="#9a9a9a" stroke-width="0.5"/>
<rect x="148.80" y="130.58" width="3.2" height="7.398" fill="#dde9f3" stroke="#9a9a9a" stroke-width="0.5"/>
<rect x="152.00" y="130.58" width="3.2" height="7.398" fill="#accde3" stroke="#9a9a9a" stroke-width="0.5"/>
<rect x="155.20" y="130.58" width="3.2" height="7.398" fill="#dde9f3" stroke="#9a9a9a" stroke-width="0.5"/>
<rect x="60.0" y="130.58" width="8.2" height="7.398" fill="#141414" stroke="#9a9a9a" stroke-width="0.4"/>
<rect x="70.90" y="137.97" width="3.2" height="7.398" fill="#4464ab" stroke="#9a9a9a" stroke-width="0.5"/>
<rect x="74.10" y="137.97" width="3.2" height="7.398" fill="#4464ab" stroke="#9a9a9a" stroke-width="0.5"/>
<rect x="77.30" y="137.97" width="3.2" height="7.398" fill="#4464ab" stroke="#9a9a9a" stroke-width="0.5"/>
<rect x="80.50" y="137.97" width="3.2" height="7.398" fill="#4464ab" stroke="#9a9a9a" stroke-width="0.5"/>
<rect x="83.70" y="137.97" width="3.2" height="7.398" fill="#f8f8f8" stroke="#9a9a9a" stroke-width="0.5"/>
<rect x="90.60" y="137.97" width="3.2" height="7.398" fill="#dde9f3" stroke="#9a9a9a" stroke-width="0.5"/>
<rect x="93.80" y="137.97" width="3.2" height="7.398" fill="#f6ad92" stroke="#9a9a9a" stroke-width="0.5"/>
<rect x="97.00" y="137.97" width="3.2" height="7.398" fill="#f6ad92" stroke="#9a9a9a" stroke-width="0.5"/>
<rect x="100.20" y="137.97" width="3.2" height="7.398" fill="#fcdecd" stroke="#9a9a9a" stroke-width="0.5"/>
<rect x="103.40" y="137.97" width="3.2" height="7.398" fill="#f8f8f8" stroke="#9a9a9a" stroke-width="0.5"/>
<rect x="106.60" y="137.97" width="3.2" height="7.398" fill="#f8f8f8" stroke="#9a9a9a" stroke-width="0.5"/>
<rect x="109.80" y="137.97" width="3.2" height="7.398" fill="#f8f8f8" stroke="#9a9a9a" stroke-width="0.5"/>
<rect x="113.00" y="137.97" width="3.2" height="7.398" fill="#f8f8f8" stroke="#9a9a9a" stroke-width="0.5"/>
<rect x="120.00" y="137.97" width="3.2" height="7.398" fill="#dde9f3" stroke="#9a9a9a" stroke-width="0.5"/>
<rect x="123.20" y="137.97" width="3.2" height="7.398" fill="#dde9f3" stroke="#9a9a9a" stroke-width="0.5"/>
<rect x="126.40" y="137.97" width="3.2" height="7.398" fill="#f6ad92" stroke="#9a9a9a" stroke-width="0.5"/>
<rect x="129.60" y="137.97" width="3.2" height="7.398" fill="#dd7364" stroke="#9a9a9a" stroke-width="0.5"/>
<rect x="132.80" y="137.97" width="3.2" height="7.398" fill="#f6ad92" stroke="#9a9a9a" stroke-width="0.5"/>
<rect x="136.00" y="137.97" width="3.2" height="7.398" fill="#f6ad92" stroke="#9a9a9a" stroke-width="0.5"/>
<rect x="139.20" y="137.97" width="3.2" height="7.398" fill="#dde9f3" stroke="#9a9a9a" stroke-width="0.5"/>
<rect x="142.40" y="137.97" width="3.2" height="7.398" fill="#dde9f3" stroke="#9a9a9a" stroke-width="0.5"/>
<rect x="145.60" y="137.97" width="3.2" height="7.398" fill="#dde9f3" stroke="#9a9a9a" stroke-width="0.5"/>
<rect x="148.80" y="137.97" width="3.2" height="7.398" fill="#dde9f3" stroke="#9a9a9a" stroke-width="0.5"/>
<rect x="152.00" y="137.97" width="3.2" height="7.398" fill="#dde9f3" stroke="#9a9a9a" stroke-width="0.5"/>
<rect x="155.20" y="137.97" width="3.2" height="7.398" fill="#dde9f3" stroke="#9a9a9a" stroke-width="0.5"/>
<rect x="60.0" y="137.97" width="8.2" height="7.398" fill="#ffffff" stroke="#9a9a9a" stroke-width="0.4"/>
<rect x="70.90" y="145.37" width="3.2" height="7.398" fill="#252a57" stroke="#9a9a9a" stroke-width="0.5"/>
<rect x="74.10" y="145.37" width="3.2" height="7.398" fill="#6e9cca" stroke="#9a9a9a" stroke-width="0.5"/>
<rect x="77.30" y="145.37" width="3.2" height="7.398" fill="#accde3" stroke="#9a9a9a" stroke-width="0.5"/>
<rect x="80.50" y="145.37" width="3.2" height="7.398" fill="#dde9f3" stroke="#9a9a9a" stroke-width="0.5"/>
<rect x="83.70" y="145.37" width="3.2" height="7.398" fill="#f8f8f8" stroke="#9a9a9a" stroke-width="0.5"/>
<rect x="90.60" y="145.37" width="3.2" height="7.398" fill="#accde3" stroke="#9a9a9a" stroke-width="0.5"/>
<rect x="93.80" y="145.37" width="3.2" height="7.398" fill="#f6ad92" stroke="#9a9a9a" stroke-width="0.5"/>
<rect x="97.00" y="145.37" width="3.2" height="7.398" fill="#dd7364" stroke="#9a9a9a" stroke-width="0.5"/>
<rect x="100.20" y="145.37" width="3.2" height="7.398" fill="#f6ad92" stroke="#9a9a9a" stroke-width="0.5"/>
<rect x="103.40" y="145.37" width="3.2" height="7.398" fill="#f8f8f8" stroke="#9a9a9a" stroke-width="0.5"/>
<rect x="106.60" y="145.37" width="3.2" height="7.398" fill="#f8f8f8" stroke="#9a9a9a" stroke-width="0.5"/>
<rect x="109.80" y="145.37" width="3.2" height="7.398" fill="#f8f8f8" stroke="#9a9a9a" stroke-width="0.5"/>
<rect x="113.00" y="145.37" width="3.2" height="7.398" fill="#f8f8f8" stroke="#9a9a9a" stroke-width="0.5"/>
<rect x="120.00" y="145.37" width="3.2" height="7.398" fill="#accde3" stroke="#9a9a9a" stroke-width="0.5"/>
<rect x="123.20" y="145.37" width="3.2" height="7.398" fill="#dde9f3" stroke="#9a9a9a" stroke-width="0.5"/>
<rect x="126.40" y="145.37" width="3.2" height="7.398" fill="#f6ad92" stroke="#9a9a9a" stroke-width="0.5"/>
<rect x="129.60" y="145.37" width="3.2" height="7.398" fill="#dd7364" stroke="#9a9a9a" stroke-width="0.5"/>
<rect x="132.80" y="145.37" width="3.2" height="7.398" fill="#f6ad92" stroke="#9a9a9a" stroke-width="0.5"/>
<rect x="136.00" y="145.37" width="3.2" height="7.398" fill="#f6ad92" stroke="#9a9a9a" stroke-width="0.5"/>
<rect x="139.20" y="145.37" width="3.2" height="7.398" fill="#dde9f3" stroke="#9a9a9a" stroke-width="0.5"/>
<rect x="142.40" y="145.37" width="3.2" height="7.398" fill="#dde9f3" stroke="#9a9a9a" stroke-width="0.5"/>
<rect x="145.60" y="145.37" width="3.2" height="7.398" fill="#dde9f3" stroke="#9a9a9a" stroke-width="0.5"/>
<rect x="148.80" y="145.37" width="3.2" height="7.398" fill="#dd7364" stroke="#9a9a9a" stroke-width="0.5"/>
<rect x="152.00" y="145.37" width="3.2" height="7.398" fill="#dde9f3" stroke="#9a9a9a" stroke-width="0.5"/>
<rect x="155.20" y="145.37" width="3.2" height="7.398" fill="#dde9f3" stroke="#9a9a9a" stroke-width="0.5"/>
<rect x="60.0" y="145.37" width="8.2" height="7.398" fill="#ffffff" stroke="#9a9a9a" stroke-width="0.4"/>
<rect x="70.90" y="152.77" width="3.2" height="7.398" fill="#fcdecd" stroke="#9a9a9a" stroke-width="0.5"/>
<rect x="74.10" y="152.77" width="3.2" height="7.398" fill="#f6ad92" stroke="#9a9a9a" stroke-width="0.5"/>
<rect x="77.30" y="152.77" width="3.2" height="7.398" fill="#f8f8f8" stroke="#9a9a9a" stroke-width="0.5"/>
<rect x="80.50" y="152.77" width="3.2" height="7.398" fill="#f8f8f8" stroke="#9a9a9a" stroke-width="0.5"/>
<rect x="83.70" y="152.77" width="3.2" height="7.398" fill="#f8f8f8" stroke="#9a9a9a" stroke-width="0.5"/>
<rect x="90.60" y="152.77" width="3.2" height="7.398" fill="#dde9f3" stroke="#9a9a9a" stroke-width="0.5"/>
<rect x="93.80" y="152.77" width="3.2" height="7.398" fill="#4464ab" stroke="#9a9a9a" stroke-width="0.5"/>
<rect x="97.00" y="152.77" width="3.2" height="7.398" fill="#accde3" stroke="#9a9a9a" stroke-width="0.5"/>
<rect x="100.20" y="152.77" width="3.2" height="7.398" fill="#4464ab" stroke="#9a9a9a" stroke-width="0.5"/>
<rect x="103.40" y="152.77" width="3.2" height="7.398" fill="#dde9f3" stroke="#9a9a9a" stroke-width="0.5"/>
<rect x="106.60" y="152.77" width="3.2" height="7.398" fill="#dde9f3" stroke="#9a9a9a" stroke-width="0.5"/>
<rect x="109.80" y="152.77" width="3.2" height="7.398" fill="#dde9f3" stroke="#9a9a9a" stroke-width="0.5"/>
<rect x="113.00" y="152.77" width="3.2" height="7.398" fill="#dde9f3" stroke="#9a9a9a" stroke-width="0.5"/>
<rect x="120.00" y="152.77" width="3.2" height="7.398" fill="#fcdecd" stroke="#9a9a9a" stroke-width="0.5"/>
<rect x="123.20" y="152.77" width="3.2" height="7.398" fill="#fcdecd" stroke="#9a9a9a" stroke-width="0.5"/>
<rect x="126.40" y="152.77" width="3.2" height="7.398" fill="#accde3" stroke="#9a9a9a" stroke-width="0.5"/>
<rect x="129.60" y="152.77" width="3.2" height="7.398" fill="#f8f8f8" stroke="#9a9a9a" stroke-width="0.5"/>
<rect x="132.80" y="152.77" width="3.2" height="7.398" fill="#dde9f3" stroke="#9a9a9a" stroke-width="0.5"/>
<rect x="136.00" y="152.77" width="3.2" height="7.398" fill="#dde9f3" stroke="#9a9a9a" stroke-width="0.5"/>
<rect x="139.20" y="152.77" width="3.2" height="7.398" fill="#f6ad92" stroke="#9a9a9a" stroke-width="0.5"/>
<rect x="142.40" y="152.77" width="3.2" height="7.398" fill="#b43339" stroke="#9a9a9a" stroke-width="0.5"/>
<rect x="145.60" y="152.77" width="3.2" height="7.398" fill="#dd7364" stroke="#9a9a9a" stroke-width="0.5"/>
<rect x="148.80" y="152.77" width="3.2" height="7.398" fill="#f6ad92" stroke="#9a9a9a" stroke-width="0.5"/>
<rect x="152.00" y="152.77" width="3.2" height="7.398" fill="#dde9f3" stroke="#9a9a9a" stroke-width="0.5"/>
<rect x="155.20" y="152.77" width="3.2" height="7.398" fill="#f6ad92" stroke="#9a9a9a" stroke-width="0.5"/>
<rect x="60.0" y="152.77" width="8.2" height="7.398" fill="#ffffff" stroke="#9a9a9a" stroke-width="0.4"/>
<rect x="70.90" y="160.17" width="3.2" height="7.398" fill="#fcdecd" stroke="#9a9a9a" stroke-width="0.5"/>
<rect x="74.10" y="160.17" width="3.2" height="7.398" fill="#f8f8f8" stroke="#9a9a9a" stroke-width="0.5"/>
<rect x="77.30" y="160.17" width="3.2" height="7.398" fill="#dde9f3" stroke="#9a9a9a" stroke-width="0.5"/>
<rect x="80.50" y="160.17" width="3.2" height="7.398" fill="#dde9f3" stroke="#9a9a9a" stroke-width="0.5"/>
<rect x="83.70" y="160.17" width="3.2" height="7.398" fill="#f8f8f8" stroke="#9a9a9a" stroke-width="0.5"/>
<rect x="90.60" y="160.17" width="3.2" height="7.398" fill="#accde3" stroke="#9a9a9a" stroke-width="0.5"/>
<rect x="93.80" y="160.17" width="3.2" height="7.398" fill="#f8f8f8" stroke="#9a9a9a" stroke-width="0.5"/>
<rect x="97.00" y="160.17" width="3.2" height="7.398" fill="#f6ad92" stroke="#9a9a9a" stroke-width="0.5"/>
<rect x="100.20" y="160.17" width="3.2" height="7.398" fill="#accde3" stroke="#9a9a9a" stroke-width="0.5"/>
<rect x="103.40" y="160.17" width="3.2" height="7.398" fill="#f8f8f8" stroke="#9a9a9a" stroke-width="0.5"/>
<rect x="106.60" y="160.17" width="3.2" height="7.398" fill="#dde9f3" stroke="#9a9a9a" stroke-width="0.5"/>
<rect x="109.80" y="160.17" width="3.2" height="7.398" fill="#dde9f3" stroke="#9a9a9a" stroke-width="0.5"/>
<rect x="113.00" y="160.17" width="3.2" height="7.398" fill="#dde9f3" stroke="#9a9a9a" stroke-width="0.5"/>
<rect x="120.00" y="160.17" width="3.2" height="7.398" fill="#accde3" stroke="#9a9a9a" stroke-width="0.5"/>
<rect x="123.20" y="160.17" width="3.2" height="7.398" fill="#fcdecd" stroke="#9a9a9a" stroke-width="0.5"/>
<rect x="126.40" y="160.17" width="3.2" height="7.398" fill="#4464ab" stroke="#9a9a9a" stroke-width="0.5"/>
<rect x="129.60" y="160.17" width="3.2" height="7.398" fill="#f8f8f8" stroke="#9a9a9a" stroke-width="0.5"/>
<rect x="132.80" y="160.17" width="3.2" height="7.398" fill="#accde3" stroke="#9a9a9a" stroke-width="0.5"/>
<rect x="136.00" y="160.17" width="3.2" height="7.398" fill="#accde3" stroke="#9a9a9a" stroke-width="0.5"/>
<rect x="139.20" y="160.17" width="3.2" height="7.398" fill="#f6ad92" stroke="#9a9a9a" stroke-width="0.5"/>
<rect x="142.40" y="160.17" width="3.2" height="7.398" fill="#b43339" stroke="#9a9a9a" stroke-width="0.5"/>
<rect x="145.60" y="160.17" width="3.2" height="7.398" fill="#f6ad92" stroke="#9a9a9a" stroke-width="0.5"/>
<rect x="148.80" y="160.17" width="3.2" height="7.398" fill="#f6ad92" stroke="#9a9a9a" stroke-width="0.5"/>
<rect x="152.00" y="160.17" width="3.2" height="7.398" fill="#f6ad92" stroke="#9a9a9a" stroke-width="0.5"/>
<rect x="155.20" y="160.17" width="3.2" height="7.398" fill="#dd7364" stroke="#9a9a9a" stroke-width="0.5"/>
<rect x="60.0" y="160.17" width="8.2" height="7.398" fill="#ffffff" stroke="#9a9a9a" stroke-width="0.4"/>
<rect x="70.90" y="167.57" width="3.2" height="7.398" fill="#dde9f3" stroke="#9a9a9a" stroke-width="0.5"/>
<rect x="74.10" y="167.57" width="3.2" height="7.398" fill="#dde9f3" stroke="#9a9a9a" stroke-width="0.5"/>
<rect x="77.30" y="167.57" width="3.2" height="7.398" fill="#dde9f3" stroke="#9a9a9a" stroke-width="0.5"/>
<rect x="80.50" y="167.57" width="3.2" height="7.398" fill="#dde9f3" stroke="#9a9a9a" stroke-width="0.5"/>
<rect x="83.70" y="167.57" width="3.2" height="7.398" fill="#dde9f3" stroke="#9a9a9a" stroke-width="0.5"/>
<rect x="90.60" y="167.57" width="3.2" height="7.398" fill="#dde9f3" stroke="#9a9a9a" stroke-width="0.5"/>
<rect x="93.80" y="167.57" width="3.2" height="7.398" fill="#dde9f3" stroke="#9a9a9a" stroke-width="0.5"/>
<rect x="97.00" y="167.57" width="3.2" height="7.398" fill="#dde9f3" stroke="#9a9a9a" stroke-width="0.5"/>
<rect x="100.20" y="167.57" width="3.2" height="7.398" fill="#dde9f3" stroke="#9a9a9a" stroke-width="0.5"/>
<rect x="103.40" y="167.57" width="3.2" height="7.398" fill="#b43339" stroke="#9a9a9a" stroke-width="0.5"/>
<rect x="106.60" y="167.57" width="3.2" height="7.398" fill="#dde9f3" stroke="#9a9a9a" stroke-width="0.5"/>
<rect x="109.80" y="167.57" width="3.2" height="7.398" fill="#dde9f3" stroke="#9a9a9a" stroke-width="0.5"/>
<rect x="113.00" y="167.57" width="3.2" height="7.398" fill="#dde9f3" stroke="#9a9a9a" stroke-width="0.5"/>
<rect x="120.00" y="167.57" width="3.2" height="7.398" fill="#f6ad92" stroke="#9a9a9a" stroke-width="0.5"/>
<rect x="123.20" y="167.57" width="3.2" height="7.398" fill="#dd7364" stroke="#9a9a9a" stroke-width="0.5"/>
<rect x="126.40" y="167.57" width="3.2" height="7.398" fill="#dde9f3" stroke="#9a9a9a" stroke-width="0.5"/>
<rect x="129.60" y="167.57" width="3.2" height="7.398" fill="#dde9f3" stroke="#9a9a9a" stroke-width="0.5"/>
<rect x="132.80" y="167.57" width="3.2" height="7.398" fill="#dde9f3" stroke="#9a9a9a" stroke-width="0.5"/>
<rect x="136.00" y="167.57" width="3.2" height="7.398" fill="#dde9f3" stroke="#9a9a9a" stroke-width="0.5"/>
<rect x="139.20" y="167.57" width="3.2" height="7.398" fill="#dd7364" stroke="#9a9a9a" stroke-width="0.5"/>
<rect x="142.40" y="167.57" width="3.2" height="7.398" fill="#b43339" stroke="#9a9a9a" stroke-width="0.5"/>
<rect x="145.60" y="167.57" width="3.2" height="7.398" fill="#b43339" stroke="#9a9a9a" stroke-width="0.5"/>
<rect x="148.80" y="167.57" width="3.2" height="7.398" fill="#dde9f3" stroke="#9a9a9a" stroke-width="0.5"/>
<rect x="152.00" y="167.57" width="3.2" height="7.398" fill="#dde9f3" stroke="#9a9a9a" stroke-width="0.5"/>
<rect x="155.20" y="167.57" width="3.2" height="7.398" fill="#dde9f3" stroke="#9a9a9a" stroke-width="0.5"/>
<rect x="60.0" y="167.57" width="8.2" height="7.398" fill="#4b4599" stroke="#9a9a9a" stroke-width="0.4"/>
<rect x="70.90" y="174.96" width="3.2" height="7.398" fill="#dde9f3" stroke="#9a9a9a" stroke-width="0.5"/>
<rect x="74.10" y="174.96" width="3.2" height="7.398" fill="#dde9f3" stroke="#9a9a9a" stroke-width="0.5"/>
<rect x="77.30" y="174.96" width="3.2" height="7.398" fill="#dde9f3" stroke="#9a9a9a" stroke-width="0.5"/>
<rect x="80.50" y="174.96" width="3.2" height="7.398" fill="#dde9f3" stroke="#9a9a9a" stroke-width="0.5"/>
<rect x="83.70" y="174.96" width="3.2" height="7.398" fill="#dde9f3" stroke="#9a9a9a" stroke-width="0.5"/>
<rect x="90.60" y="174.96" width="3.2" height="7.398" fill="#dde9f3" stroke="#9a9a9a" stroke-width="0.5"/>
<rect x="93.80" y="174.96" width="3.2" height="7.398" fill="#dde9f3" stroke="#9a9a9a" stroke-width="0.5"/>
<rect x="97.00" y="174.96" width="3.2" height="7.398" fill="#dde9f3" stroke="#9a9a9a" stroke-width="0.5"/>
<rect x="100.20" y="174.96" width="3.2" height="7.398" fill="#dde9f3" stroke="#9a9a9a" stroke-width="0.5"/>
<rect x="103.40" y="174.96" width="3.2" height="7.398" fill="#dde9f3" stroke="#9a9a9a" stroke-width="0.5"/>
<rect x="106.60" y="174.96" width="3.2" height="7.398" fill="#dde9f3" stroke="#9a9a9a" stroke-width="0.5"/>
<rect x="109.80" y="174.96" width="3.2" height="7.398" fill="#dde9f3" stroke="#9a9a9a" stroke-width="0.5"/>
<rect x="113.00" y="174.96" width="3.2" height="7.398" fill="#dde9f3" stroke="#9a9a9a" stroke-width="0.5"/>
<rect x="120.00" y="174.96" width="3.2" height="7.398" fill="#dde9f3" stroke="#9a9a9a" stroke-width="0.5"/>
<rect x="123.20" y="174.96" width="3.2" height="7.398" fill="#dde9f3" stroke="#9a9a9a" stroke-width="0.5"/>
<rect x="126.40" y="174.96" width="3.2" height="7.398" fill="#dde9f3" stroke="#9a9a9a" stroke-width="0.5"/>
<rect x="129.60" y="174.96" width="3.2" height="7.398" fill="#dd7364" stroke="#9a9a9a" stroke-width="0.5"/>
<rect x="132.80" y="174.96" width="3.2" height="7.398" fill="#dde9f3" stroke="#9a9a9a" stroke-width="0.5"/>
<rect x="136.00" y="174.96" width="3.2" height="7.398" fill="#dde9f3" stroke="#9a9a9a" stroke-width="0.5"/>
<rect x="139.20" y="174.96" width="3.2" height="7.398" fill="#b43339" stroke="#9a9a9a" stroke-width="0.5"/>
<rect x="142.40" y="174.96" width="3.2" height="7.398" fill="#691d26" stroke="#9a9a9a" stroke-width="0.5"/>
<rect x="145.60" y="174.96" width="3.2" height="7.398" fill="#691d26" stroke="#9a9a9a" stroke-width="0.5"/>
<rect x="148.80" y="174.96" width="3.2" height="7.398" fill="#dde9f3" stroke="#9a9a9a" stroke-width="0.5"/>
<rect x="152.00" y="174.96" width="3.2" height="7.398" fill="#dde9f3" stroke="#9a9a9a" stroke-width="0.5"/>
<rect x="155.20" y="174.96" width="3.2" height="7.398" fill="#dde9f3" stroke="#9a9a9a" stroke-width="0.5"/>
<rect x="60.0" y="174.96" width="8.2" height="7.398" fill="#4b4599" stroke="#9a9a9a" stroke-width="0.4"/>
<rect x="70.90" y="182.36" width="3.2" height="7.398" fill="#dde9f3" stroke="#9a9a9a" stroke-width="0.5"/>
<rect x="74.10" y="182.36" width="3.2" height="7.398" fill="#dde9f3" stroke="#9a9a9a" stroke-width="0.5"/>
<rect x="77.30" y="182.36" width="3.2" height="7.398" fill="#dde9f3" stroke="#9a9a9a" stroke-width="0.5"/>
<rect x="80.50" y="182.36" width="3.2" height="7.398" fill="#dde9f3" stroke="#9a9a9a" stroke-width="0.5"/>
<rect x="83.70" y="182.36" width="3.2" height="7.398" fill="#dde9f3" stroke="#9a9a9a" stroke-width="0.5"/>
<rect x="90.60" y="182.36" width="3.2" height="7.398" fill="#dde9f3" stroke="#9a9a9a" stroke-width="0.5"/>
<rect x="93.80" y="182.36" width="3.2" height="7.398" fill="#dde9f3" stroke="#9a9a9a" stroke-width="0.5"/>
<rect x="97.00" y="182.36" width="3.2" height="7.398" fill="#dde9f3" stroke="#9a9a9a" stroke-width="0.5"/>
<rect x="100.20" y="182.36" width="3.2" height="7.398" fill="#dde9f3" stroke="#9a9a9a" stroke-width="0.5"/>
<rect x="103.40" y="182.36" width="3.2" height="7.398" fill="#dde9f3" stroke="#9a9a9a" stroke-width="0.5"/>
<rect x="106.60" y="182.36" width="3.2" height="7.398" fill="#dde9f3" stroke="#9a9a9a" stroke-width="0.5"/>
<rect x="109.80" y="182.36" width="3.2" height="7.398" fill="#dde9f3" stroke="#9a9a9a" stroke-width="0.5"/>
<rect x="113.00" y="182.36" width="3.2" height="7.398" fill="#dde9f3" stroke="#9a9a9a" stroke-width="0.5"/>
<rect x="120.00" y="182.36" width="3.2" height="7.398" fill="#f6ad92" stroke="#9a9a9a" stroke-width="0.5"/>
<rect x="123.20" y="182.36" width="3.2" height="7.398" fill="#dde9f3" stroke="#9a9a9a" stroke-width="0.5"/>
<rect x="126.40" y="182.36" width="3.2" height="7.398" fill="#f6ad92" stroke="#9a9a9a" stroke-width="0.5"/>
<rect x="129.60" y="182.36" width="3.2" height="7.398" fill="#dd7364" stroke="#9a9a9a" stroke-width="0.5"/>
<rect x="132.80" y="182.36" width="3.2" height="7.398" fill="#dde9f3" stroke="#9a9a9a" stroke-width="0.5"/>
<rect x="136.00" y="182.36" width="3.2" height="7.398" fill="#f6ad92" stroke="#9a9a9a" stroke-width="0.5"/>
<rect x="139.20" y="182.36" width="3.2" height="7.398" fill="#691d26" stroke="#9a9a9a" stroke-width="0.5"/>
<rect x="142.40" y="182.36" width="3.2" height="7.398" fill="#b43339" stroke="#9a9a9a" stroke-width="0.5"/>
<rect x="145.60" y="182.36" width="3.2" height="7.398" fill="#691d26" stroke="#9a9a9a" stroke-width="0.5"/>
<rect x="148.80" y="182.36" width="3.2" height="7.398" fill="#f6ad92" stroke="#9a9a9a" stroke-width="0.5"/>
<rect x="152.00" y="182.36" width="3.2" height="7.398" fill="#fcdecd" stroke="#9a9a9a" stroke-width="0.5"/>
<rect x="155.20" y="182.36" width="3.2" height="7.398" fill="#dde9f3" stroke="#9a9a9a" stroke-width="0.5"/>
<rect x="60.0" y="182.36" width="8.2" height="7.398" fill="#f5e51d" stroke="#9a9a9a" stroke-width="0.4"/>
<rect x="70.90" y="189.76" width="3.2" height="7.398" fill="#accde3" stroke="#9a9a9a" stroke-width="0.5"/>
<rect x="74.10" y="189.76" width="3.2" height="7.398" fill="#accde3" stroke="#9a9a9a" stroke-width="0.5"/>
<rect x="77.30" y="189.76" width="3.2" height="7.398" fill="#accde3" stroke="#9a9a9a" stroke-width="0.5"/>
<rect x="80.50" y="189.76" width="3.2" height="7.398" fill="#accde3" stroke="#9a9a9a" stroke-width="0.5"/>
<rect x="83.70" y="189.76" width="3.2" height="7.398" fill="#accde3" stroke="#9a9a9a" stroke-width="0.5"/>
<rect x="90.60" y="189.76" width="3.2" height="7.398" fill="#accde3" stroke="#9a9a9a" stroke-width="0.5"/>
<rect x="93.80" y="189.76" width="3.2" height="7.398" fill="#fcdecd" stroke="#9a9a9a" stroke-width="0.5"/>
<rect x="97.00" y="189.76" width="3.2" height="7.398" fill="#accde3" stroke="#9a9a9a" stroke-width="0.5"/>
<rect x="100.20" y="189.76" width="3.2" height="7.398" fill="#f6ad92" stroke="#9a9a9a" stroke-width="0.5"/>
<rect x="103.40" y="189.76" width="3.2" height="7.398" fill="#f6ad92" stroke="#9a9a9a" stroke-width="0.5"/>
<rect x="106.60" y="189.76" width="3.2" height="7.398" fill="#accde3" stroke="#9a9a9a" stroke-width="0.5"/>
<rect x="109.80" y="189.76" width="3.2" height="7.398" fill="#fcdecd" stroke="#9a9a9a" stroke-width="0.5"/>
<rect x="113.00" y="189.76" width="3.2" height="7.398" fill="#fcdecd" stroke="#9a9a9a" stroke-width="0.5"/>
<rect x="120.00" y="189.76" width="3.2" height="7.398" fill="#f6ad92" stroke="#9a9a9a" stroke-width="0.5"/>
<rect x="123.20" y="189.76" width="3.2" height="7.398" fill="#f6ad92" stroke="#9a9a9a" stroke-width="0.5"/>
<rect x="126.40" y="189.76" width="3.2" height="7.398" fill="#accde3" stroke="#9a9a9a" stroke-width="0.5"/>
<rect x="129.60" y="189.76" width="3.2" height="7.398" fill="#f6ad92" stroke="#9a9a9a" stroke-width="0.5"/>
<rect x="132.80" y="189.76" width="3.2" height="7.398" fill="#dd7364" stroke="#9a9a9a" stroke-width="0.5"/>
<rect x="136.00" y="189.76" width="3.2" height="7.398" fill="#f6ad92" stroke="#9a9a9a" stroke-width="0.5"/>
<rect x="139.20" y="189.76" width="3.2" height="7.398" fill="#f8f8f8" stroke="#9a9a9a" stroke-width="0.5"/>
<rect x="142.40" y="189.76" width="3.2" height="7.398" fill="#fcdecd" stroke="#9a9a9a" stroke-width="0.5"/>
<rect x="145.60" y="189.76" width="3.2" height="7.398" fill="#f6ad92" stroke="#9a9a9a" stroke-width="0.5"/>
<rect x="148.80" y="189.76" width="3.2" height="7.398" fill="#dd7364" stroke="#9a9a9a" stroke-width="0.5"/>
<rect x="152.00" y="189.76" width="3.2" height="7.398" fill="#fcdecd" stroke="#9a9a9a" stroke-width="0.5"/>
<rect x="155.20" y="189.76" width="3.2" height="7.398" fill="#dde9f3" stroke="#9a9a9a" stroke-width="0.5"/>
<rect x="60.0" y="189.76" width="8.2" height="7.398" fill="#f7b6cf" stroke="#9a9a9a" stroke-width="0.4"/>
<rect x="70.90" y="197.16" width="3.2" height="7.398" fill="#accde3" stroke="#9a9a9a" stroke-width="0.5"/>
<rect x="74.10" y="197.16" width="3.2" height="7.398" fill="#accde3" stroke="#9a9a9a" stroke-width="0.5"/>
<rect x="77.30" y="197.16" width="3.2" height="7.398" fill="#accde3" stroke="#9a9a9a" stroke-width="0.5"/>
<rect x="80.50" y="197.16" width="3.2" height="7.398" fill="#dde9f3" stroke="#9a9a9a" stroke-width="0.5"/>
<rect x="83.70" y="197.16" width="3.2" height="7.398" fill="#accde3" stroke="#9a9a9a" stroke-width="0.5"/>
<rect x="90.60" y="197.16" width="3.2" height="7.398" fill="#accde3" stroke="#9a9a9a" stroke-width="0.5"/>
<rect x="93.80" y="197.16" width="3.2" height="7.398" fill="#accde3" stroke="#9a9a9a" stroke-width="0.5"/>
<rect x="97.00" y="197.16" width="3.2" height="7.398" fill="#f6ad92" stroke="#9a9a9a" stroke-width="0.5"/>
<rect x="100.20" y="197.16" width="3.2" height="7.398" fill="#f6ad92" stroke="#9a9a9a" stroke-width="0.5"/>
<rect x="103.40" y="197.16" width="3.2" height="7.398" fill="#dd7364" stroke="#9a9a9a" stroke-width="0.5"/>
<rect x="106.60" y="197.16" width="3.2" height="7.398" fill="#fcdecd" stroke="#9a9a9a" stroke-width="0.5"/>
<rect x="109.80" y="197.16" width="3.2" height="7.398" fill="#fcdecd" stroke="#9a9a9a" stroke-width="0.5"/>
<rect x="113.00" y="197.16" width="3.2" height="7.398" fill="#fcdecd" stroke="#9a9a9a" stroke-width="0.5"/>
<rect x="120.00" y="197.16" width="3.2" height="7.398" fill="#fcdecd" stroke="#9a9a9a" stroke-width="0.5"/>
<rect x="123.20" y="197.16" width="3.2" height="7.398" fill="#f6ad92" stroke="#9a9a9a" stroke-width="0.5"/>
<rect x="126.40" y="197.16" width="3.2" height="7.398" fill="#f8f8f8" stroke="#9a9a9a" stroke-width="0.5"/>
<rect x="129.60" y="197.16" width="3.2" height="7.398" fill="#f6ad92" stroke="#9a9a9a" stroke-width="0.5"/>
<rect x="132.80" y="197.16" width="3.2" height="7.398" fill="#accde3" stroke="#9a9a9a" stroke-width="0.5"/>
<rect x="136.00" y="197.16" width="3.2" height="7.398" fill="#fcdecd" stroke="#9a9a9a" stroke-width="0.5"/>
<rect x="139.20" y="197.16" width="3.2" height="7.398" fill="#dd7364" stroke="#9a9a9a" stroke-width="0.5"/>
<rect x="142.40" y="197.16" width="3.2" height="7.398" fill="#f6ad92" stroke="#9a9a9a" stroke-width="0.5"/>
<rect x="145.60" y="197.16" width="3.2" height="7.398" fill="#dd7364" stroke="#9a9a9a" stroke-width="0.5"/>
<rect x="148.80" y="197.16" width="3.2" height="7.398" fill="#f6ad92" stroke="#9a9a9a" stroke-width="0.5"/>
<rect x="152.00" y="197.16" width="3.2" height="7.398" fill="#f8f8f8" stroke="#9a9a9a" stroke-width="0.5"/>
<rect x="155.20" y="197.16" width="3.2" height="7.398" fill="#dde9f3" stroke="#9a9a9a" stroke-width="0.5"/>
<rect x="60.0" y="197.16" width="8.2" height="7.398" fill="#e8362b" stroke="#9a9a9a" stroke-width="0.4"/>
<rect x="70.90" y="204.56" width="3.2" height="7.398" fill="#accde3" stroke="#9a9a9a" stroke-width="0.5"/>
<rect x="74.10" y="204.56" width="3.2" height="7.398" fill="#dde9f3" stroke="#9a9a9a" stroke-width="0.5"/>
<rect x="77.30" y="204.56" width="3.2" height="7.398" fill="#dde9f3" stroke="#9a9a9a" stroke-width="0.5"/>
<rect x="80.50" y="204.56" width="3.2" height="7.398" fill="#dde9f3" stroke="#9a9a9a" stroke-width="0.5"/>
<rect x="83.70" y="204.56" width="3.2" height="7.398" fill="#252a57" stroke="#9a9a9a" stroke-width="0.5"/>
<rect x="90.60" y="204.56" width="3.2" height="7.398" fill="#accde3" stroke="#9a9a9a" stroke-width="0.5"/>
<rect x="93.80" y="204.56" width="3.2" height="7.398" fill="#dde9f3" stroke="#9a9a9a" stroke-width="0.5"/>
<rect x="97.00" y="204.56" width="3.2" height="7.398" fill="#f6ad92" stroke="#9a9a9a" stroke-width="0.5"/>
<rect x="100.20" y="204.56" width="3.2" height="7.398" fill="#fcdecd" stroke="#9a9a9a" stroke-width="0.5"/>
<rect x="103.40" y="204.56" width="3.2" height="7.398" fill="#dd7364" stroke="#9a9a9a" stroke-width="0.5"/>
<rect x="106.60" y="204.56" width="3.2" height="7.398" fill="#fcdecd" stroke="#9a9a9a" stroke-width="0.5"/>
<rect x="109.80" y="204.56" width="3.2" height="7.398" fill="#dde9f3" stroke="#9a9a9a" stroke-width="0.5"/>
<rect x="113.00" y="204.56" width="3.2" height="7.398" fill="#dde9f3" stroke="#9a9a9a" stroke-width="0.5"/>
<rect x="120.00" y="204.56" width="3.2" height="7.398" fill="#fcdecd" stroke="#9a9a9a" stroke-width="0.5"/>
<rect x="123.20" y="204.56" width="3.2" height="7.398" fill="#f6ad92" stroke="#9a9a9a" stroke-width="0.5"/>
<rect x="126.40" y="204.56" width="3.2" height="7.398" fill="#dde9f3" stroke="#9a9a9a" stroke-width="0.5"/>
<rect x="129.60" y="204.56" width="3.2" height="7.398" fill="#f6ad92" stroke="#9a9a9a" stroke-width="0.5"/>
<rect x="132.80" y="204.56" width="3.2" height="7.398" fill="#dde9f3" stroke="#9a9a9a" stroke-width="0.5"/>
<rect x="136.00" y="204.56" width="3.2" height="7.398" fill="#f6ad92" stroke="#9a9a9a" stroke-width="0.5"/>
<rect x="139.20" y="204.56" width="3.2" height="7.398" fill="#dd7364" stroke="#9a9a9a" stroke-width="0.5"/>
<rect x="142.40" y="204.56" width="3.2" height="7.398" fill="#f6ad92" stroke="#9a9a9a" stroke-width="0.5"/>
<rect x="145.60" y="204.56" width="3.2" height="7.398" fill="#dd7364" stroke="#9a9a9a" stroke-width="0.5"/>
<rect x="148.80" y="204.56" width="3.2" height="7.398" fill="#f6ad92" stroke="#9a9a9a" stroke-width="0.5"/>
<rect x="152.00" y="204.56" width="3.2" height="7.398" fill="#f8f8f8" stroke="#9a9a9a" stroke-width="0.5"/>
<rect x="155.20" y="204.56" width="3.2" height="7.398" fill="#dde9f3" stroke="#9a9a9a" stroke-width="0.5"/>
<rect x="60.0" y="204.56" width="8.2" height="7.398" fill="#e8362b" stroke="#9a9a9a" stroke-width="0.4"/>
<rect x="70.90" y="211.95" width="3.2" height="7.398" fill="#6e9cca" stroke="#9a9a9a" stroke-width="0.5"/>
<rect x="74.10" y="211.95" width="3.2" height="7.398" fill="#dde9f3" stroke="#9a9a9a" stroke-width="0.5"/>
<rect x="77.30" y="211.95" width="3.2" height="7.398" fill="#dde9f3" stroke="#9a9a9a" stroke-width="0.5"/>
<rect x="80.50" y="211.95" width="3.2" height="7.398" fill="#accde3" stroke="#9a9a9a" stroke-width="0.5"/>
<rect x="83.70" y="211.95" width="3.2" height="7.398" fill="#252a57" stroke="#9a9a9a" stroke-width="0.5"/>
<rect x="90.60" y="211.95" width="3.2" height="7.398" fill="#accde3" stroke="#9a9a9a" stroke-width="0.5"/>
<rect x="93.80" y="211.95" width="3.2" height="7.398" fill="#dde9f3" stroke="#9a9a9a" stroke-width="0.5"/>
<rect x="97.00" y="211.95" width="3.2" height="7.398" fill="#f6ad92" stroke="#9a9a9a" stroke-width="0.5"/>
<rect x="100.20" y="211.95" width="3.2" height="7.398" fill="#fcdecd" stroke="#9a9a9a" stroke-width="0.5"/>
<rect x="103.40" y="211.95" width="3.2" height="7.398" fill="#b43339" stroke="#9a9a9a" stroke-width="0.5"/>
<rect x="106.60" y="211.95" width="3.2" height="7.398" fill="#dde9f3" stroke="#9a9a9a" stroke-width="0.5"/>
<rect x="109.80" y="211.95" width="3.2" height="7.398" fill="#dde9f3" stroke="#9a9a9a" stroke-width="0.5"/>
<rect x="113.00" y="211.95" width="3.2" height="7.398" fill="#dde9f3" stroke="#9a9a9a" stroke-width="0.5"/>
<rect x="120.00" y="211.95" width="3.2" height="7.398" fill="#fcdecd" stroke="#9a9a9a" stroke-width="0.5"/>
<rect x="123.20" y="211.95" width="3.2" height="7.398" fill="#f6ad92" stroke="#9a9a9a" stroke-width="0.5"/>
<rect x="126.40" y="211.95" width="3.2" height="7.398" fill="#f8f8f8" stroke="#9a9a9a" stroke-width="0.5"/>
<rect x="129.60" y="211.95" width="3.2" height="7.398" fill="#f6ad92" stroke="#9a9a9a" stroke-width="0.5"/>
<rect x="132.80" y="211.95" width="3.2" height="7.398" fill="#dde9f3" stroke="#9a9a9a" stroke-width="0.5"/>
<rect x="136.00" y="211.95" width="3.2" height="7.398" fill="#fcdecd" stroke="#9a9a9a" stroke-width="0.5"/>
<rect x="139.20" y="211.95" width="3.2" height="7.398" fill="#dd7364" stroke="#9a9a9a" stroke-width="0.5"/>
<rect x="142.40" y="211.95" width="3.2" height="7.398" fill="#f6ad92" stroke="#9a9a9a" stroke-width="0.5"/>
<rect x="145.60" y="211.95" width="3.2" height="7.398" fill="#f6ad92" stroke="#9a9a9a" stroke-width="0.5"/>
<rect x="148.80" y="211.95" width="3.2" height="7.398" fill="#fcdecd" stroke="#9a9a9a" stroke-width="0.5"/>
<rect x="152.00" y="211.95" width="3.2" height="7.398" fill="#f8f8f8" stroke="#9a9a9a" stroke-width="0.5"/>
<rect x="155.20" y="211.95" width="3.2" height="7.398" fill="#dde9f3" stroke="#9a9a9a" stroke-width="0.5"/>
<rect x="60.0" y="211.95" width="8.2" height="7.398" fill="#e8362b" stroke="#9a9a9a" stroke-width="0.4"/>
<rect x="70.90" y="219.35" width="3.2" height="7.398" fill="#accde3" stroke="#9a9a9a" stroke-width="0.5"/>
<rect x="74.10" y="219.35" width="3.2" height="7.398" fill="#dde9f3" stroke="#9a9a9a" stroke-width="0.5"/>
<rect x="77.30" y="219.35" width="3.2" height="7.398" fill="#dde9f3" stroke="#9a9a9a" stroke-width="0.5"/>
<rect x="80.50" y="219.35" width="3.2" height="7.398" fill="#dde9f3" stroke="#9a9a9a" stroke-width="0.5"/>
<rect x="83.70" y="219.35" width="3.2" height="7.398" fill="#252a57" stroke="#9a9a9a" stroke-width="0.5"/>
<rect x="90.60" y="219.35" width="3.2" height="7.398" fill="#accde3" stroke="#9a9a9a" stroke-width="0.5"/>
<rect x="93.80" y="219.35" width="3.2" height="7.398" fill="#dde9f3" stroke="#9a9a9a" stroke-width="0.5"/>
<rect x="97.00" y="219.35" width="3.2" height="7.398" fill="#fcdecd" stroke="#9a9a9a" stroke-width="0.5"/>
<rect x="100.20" y="219.35" width="3.2" height="7.398" fill="#fcdecd" stroke="#9a9a9a" stroke-width="0.5"/>
<rect x="103.40" y="219.35" width="3.2" height="7.398" fill="#dde9f3" stroke="#9a9a9a" stroke-width="0.5"/>
<rect x="106.60" y="219.35" width="3.2" height="7.398" fill="#f6ad92" stroke="#9a9a9a" stroke-width="0.5"/>
<rect x="109.80" y="219.35" width="3.2" height="7.398" fill="#accde3" stroke="#9a9a9a" stroke-width="0.5"/>
<rect x="113.00" y="219.35" width="3.2" height="7.398" fill="#dde9f3" stroke="#9a9a9a" stroke-width="0.5"/>
<rect x="120.00" y="219.35" width="3.2" height="7.398" fill="#fcdecd" stroke="#9a9a9a" stroke-width="0.5"/>
<rect x="123.20" y="219.35" width="3.2" height="7.398" fill="#f6ad92" stroke="#9a9a9a" stroke-width="0.5"/>
<rect x="126.40" y="219.35" width="3.2" height="7.398" fill="#f8f8f8" stroke="#9a9a9a" stroke-width="0.5"/>
<rect x="129.60" y="219.35" width="3.2" height="7.398" fill="#f6ad92" stroke="#9a9a9a" stroke-width="0.5"/>
<rect x="132.80" y="219.35" width="3.2" height="7.398" fill="#fcdecd" stroke="#9a9a9a" stroke-width="0.5"/>
<rect x="136.00" y="219.35" width="3.2" height="7.398" fill="#f6ad92" stroke="#9a9a9a" stroke-width="0.5"/>
<rect x="139.20" y="219.35" width="3.2" height="7.398" fill="#dd7364" stroke="#9a9a9a" stroke-width="0.5"/>
<rect x="142.40" y="219.35" width="3.2" height="7.398" fill="#f6ad92" stroke="#9a9a9a" stroke-width="0.5"/>
<rect x="145.60" y="219.35" width="3.2" height="7.398" fill="#dd7364" stroke="#9a9a9a" stroke-width="0.5"/>
<rect x="148.80" y="219.35" width="3.2" height="7.398" fill="#dd7364" stroke="#9a9a9a" stroke-width="0.5"/>
<rect x="152.00" y="219.35" width="3.2" height="7.398" fill="#fcdecd" stroke="#9a9a9a" stroke-width="0.5"/>
<rect x="155.20" y="219.35" width="3.2" height="7.398" fill="#accde3" stroke="#9a9a9a" stroke-width="0.5"/>
<rect x="60.0" y="219.35" width="8.2" height="7.398" fill="#e8362b" stroke="#9a9a9a" stroke-width="0.4"/>
<rect x="70.90" y="226.75" width="3.2" height="7.398" fill="#4464ab" stroke="#9a9a9a" stroke-width="0.5"/>
<rect x="74.10" y="226.75" width="3.2" height="7.398" fill="#dde9f3" stroke="#9a9a9a" stroke-width="0.5"/>
<rect x="77.30" y="226.75" width="3.2" height="7.398" fill="#f8f8f8" stroke="#9a9a9a" stroke-width="0.5"/>
<rect x="80.50" y="226.75" width="3.2" height="7.398" fill="#4464ab" stroke="#9a9a9a" stroke-width="0.5"/>
<rect x="83.70" y="226.75" width="3.2" height="7.398" fill="#6e9cca" stroke="#9a9a9a" stroke-width="0.5"/>
<rect x="90.60" y="226.75" width="3.2" height="7.398" fill="#f6ad92" stroke="#9a9a9a" stroke-width="0.5"/>
<rect x="93.80" y="226.75" width="3.2" height="7.398" fill="#f6ad92" stroke="#9a9a9a" stroke-width="0.5"/>
<rect x="97.00" y="226.75" width="3.2" height="7.398" fill="#f6ad92" stroke="#9a9a9a" stroke-width="0.5"/>
<rect x="100.20" y="226.75" width="3.2" height="7.398" fill="#fcdecd" stroke="#9a9a9a" stroke-width="0.5"/>
<rect x="103.40" y="226.75" width="3.2" height="7.398" fill="#4464ab" stroke="#9a9a9a" stroke-width="0.5"/>
<rect x="106.60" y="226.75" width="3.2" height="7.398" fill="#dde9f3" stroke="#9a9a9a" stroke-width="0.5"/>
<rect x="109.80" y="226.75" width="3.2" height="7.398" fill="#dde9f3" stroke="#9a9a9a" stroke-width="0.5"/>
<rect x="113.00" y="226.75" width="3.2" height="7.398" fill="#dde9f3" stroke="#9a9a9a" stroke-width="0.5"/>
<rect x="120.00" y="226.75" width="3.2" height="7.398" fill="#f6ad92" stroke="#9a9a9a" stroke-width="0.5"/>
<rect x="123.20" y="226.75" width="3.2" height="7.398" fill="#dde9f3" stroke="#9a9a9a" stroke-width="0.5"/>
<rect x="126.40" y="226.75" width="3.2" height="7.398" fill="#f6ad92" stroke="#9a9a9a" stroke-width="0.5"/>
<rect x="129.60" y="226.75" width="3.2" height="7.398" fill="#dde9f3" stroke="#9a9a9a" stroke-width="0.5"/>
<rect x="132.80" y="226.75" width="3.2" height="7.398" fill="#f6ad92" stroke="#9a9a9a" stroke-width="0.5"/>
<rect x="136.00" y="226.75" width="3.2" height="7.398" fill="#fcdecd" stroke="#9a9a9a" stroke-width="0.5"/>
<rect x="139.20" y="226.75" width="3.2" height="7.398" fill="#f6ad92" stroke="#9a9a9a" stroke-width="0.5"/>
<rect x="142.40" y="226.75" width="3.2" height="7.398" fill="#f6ad92" stroke="#9a9a9a" stroke-width="0.5"/>
<rect x="145.60" y="226.75" width="3.2" height="7.398" fill="#f6ad92" stroke="#9a9a9a" stroke-width="0.5"/>
<rect x="148.80" y="226.75" width="3.2" height="7.398" fill="#f6ad92" stroke="#9a9a9a" stroke-width="0.5"/>
<rect x="152.00" y="226.75" width="3.2" height="7.398" fill="#fcdecd" stroke="#9a9a9a" stroke-width="0.5"/>
<rect x="155.20" y="226.75" width="3.2" height="7.398" fill="#fcdecd" stroke="#9a9a9a" stroke-width="0.5"/>
<rect x="60.0" y="226.75" width="8.2" height="7.398" fill="#f5e51d" stroke="#9a9a9a" stroke-width="0.4"/>
<rect x="70.90" y="234.15" width="3.2" height="7.398" fill="#accde3" stroke="#9a9a9a" stroke-width="0.5"/>
<rect x="74.10" y="234.15" width="3.2" height="7.398" fill="#f8f8f8" stroke="#9a9a9a" stroke-width="0.5"/>
<rect x="77.30" y="234.15" width="3.2" height="7.398" fill="#accde3" stroke="#9a9a9a" stroke-width="0.5"/>
<rect x="80.50" y="234.15" width="3.2" height="7.398" fill="#accde3" stroke="#9a9a9a" stroke-width="0.5"/>
<rect x="83.70" y="234.15" width="3.2" height="7.398" fill="#dde9f3" stroke="#9a9a9a" stroke-width="0.5"/>
<rect x="90.60" y="234.15" width="3.2" height="7.398" fill="#dde9f3" stroke="#9a9a9a" stroke-width="0.5"/>
<rect x="93.80" y="234.15" width="3.2" height="7.398" fill="#b43339" stroke="#9a9a9a" stroke-width="0.5"/>
<rect x="97.00" y="234.15" width="3.2" height="7.398" fill="#dde9f3" stroke="#9a9a9a" stroke-width="0.5"/>
<rect x="100.20" y="234.15" width="3.2" height="7.398" fill="#dde9f3" stroke="#9a9a9a" stroke-width="0.5"/>
<rect x="103.40" y="234.15" width="3.2" height="7.398" fill="#dde9f3" stroke="#9a9a9a" stroke-width="0.5"/>
<rect x="106.60" y="234.15" width="3.2" height="7.398" fill="#dde9f3" stroke="#9a9a9a" stroke-width="0.5"/>
<rect x="109.80" y="234.15" width="3.2" height="7.398" fill="#dde9f3" stroke="#9a9a9a" stroke-width="0.5"/>
<rect x="113.00" y="234.15" width="3.2" height="7.398" fill="#dde9f3" stroke="#9a9a9a" stroke-width="0.5"/>
<rect x="120.00" y="234.15" width="3.2" height="7.398" fill="#fcdecd" stroke="#9a9a9a" stroke-width="0.5"/>
<rect x="123.20" y="234.15" width="3.2" height="7.398" fill="#f6ad92" stroke="#9a9a9a" stroke-width="0.5"/>
<rect x="126.40" y="234.15" width="3.2" height="7.398" fill="#accde3" stroke="#9a9a9a" stroke-width="0.5"/>
<rect x="129.60" y="234.15" width="3.2" height="7.398" fill="#f6ad92" stroke="#9a9a9a" stroke-width="0.5"/>
<rect x="132.80" y="234.15" width="3.2" height="7.398" fill="#accde3" stroke="#9a9a9a" stroke-width="0.5"/>
<rect x="136.00" y="234.15" width="3.2" height="7.398" fill="#accde3" stroke="#9a9a9a" stroke-width="0.5"/>
<rect x="139.20" y="234.15" width="3.2" height="7.398" fill="#f6ad92" stroke="#9a9a9a" stroke-width="0.5"/>
<rect x="142.40" y="234.15" width="3.2" height="7.398" fill="#dd7364" stroke="#9a9a9a" stroke-width="0.5"/>
<rect x="145.60" y="234.15" width="3.2" height="7.398" fill="#f6ad92" stroke="#9a9a9a" stroke-width="0.5"/>
<rect x="148.80" y="234.15" width="3.2" height="7.398" fill="#f6ad92" stroke="#9a9a9a" stroke-width="0.5"/>
<rect x="152.00" y="234.15" width="3.2" height="7.398" fill="#fcdecd" stroke="#9a9a9a" stroke-width="0.5"/>
<rect x="155.20" y="234.15" width="3.2" height="7.398" fill="#f6ad92" stroke="#9a9a9a" stroke-width="0.5"/>
<rect x="60.0" y="234.15" width="8.2" height="7.398" fill="#f5e51d" stroke="#9a9a9a" stroke-width="0.4"/>
<rect x="70.90" y="241.55" width="3.2" height="7.398" fill="#accde3" stroke="#9a9a9a" stroke-width="0.5"/>
<rect x="74.10" y="241.55" width="3.2" height="7.398" fill="#6e9cca" stroke="#9a9a9a" stroke-width="0.5"/>
<rect x="77.30" y="241.55" width="3.2" height="7.398" fill="#6e9cca" stroke="#9a9a9a" stroke-width="0.5"/>
<rect x="80.50" y="241.55" width="3.2" height="7.398" fill="#6e9cca" stroke="#9a9a9a" stroke-width="0.5"/>
<rect x="83.70" y="241.55" width="3.2" height="7.398" fill="#accde3" stroke="#9a9a9a" stroke-width="0.5"/>
<rect x="90.60" y="241.55" width="3.2" height="7.398" fill="#accde3" stroke="#9a9a9a" stroke-width="0.5"/>
<rect x="93.80" y="241.55" width="3.2" height="7.398" fill="#dde9f3" stroke="#9a9a9a" stroke-width="0.5"/>
<rect x="97.00" y="241.55" width="3.2" height="7.398" fill="#accde3" stroke="#9a9a9a" stroke-width="0.5"/>
<rect x="100.20" y="241.55" width="3.2" height="7.398" fill="#dde9f3" stroke="#9a9a9a" stroke-width="0.5"/>
<rect x="103.40" y="241.55" width="3.2" height="7.398" fill="#fcdecd" stroke="#9a9a9a" stroke-width="0.5"/>
<rect x="106.60" y="241.55" width="3.2" height="7.398" fill="#f6ad92" stroke="#9a9a9a" stroke-width="0.5"/>
<rect x="109.80" y="241.55" width="3.2" height="7.398" fill="#dde9f3" stroke="#9a9a9a" stroke-width="0.5"/>
<rect x="113.00" y="241.55" width="3.2" height="7.398" fill="#dde9f3" stroke="#9a9a9a" stroke-width="0.5"/>
<rect x="120.00" y="241.55" width="3.2" height="7.398" fill="#f6ad92" stroke="#9a9a9a" stroke-width="0.5"/>
<rect x="123.20" y="241.55" width="3.2" height="7.398" fill="#f6ad92" stroke="#9a9a9a" stroke-width="0.5"/>
<rect x="126.40" y="241.55" width="3.2" height="7.398" fill="#f6ad92" stroke="#9a9a9a" stroke-width="0.5"/>
<rect x="129.60" y="241.55" width="3.2" height="7.398" fill="#f6ad92" stroke="#9a9a9a" stroke-width="0.5"/>
<rect x="132.80" y="241.55" width="3.2" height="7.398" fill="#f6ad92" stroke="#9a9a9a" stroke-width="0.5"/>
<rect x="136.00" y="241.55" width="3.2" height="7.398" fill="#f6ad92" stroke="#9a9a9a" stroke-width="0.5"/>
<rect x="139.20" y="241.55" width="3.2" height="7.398" fill="#f6ad92" stroke="#9a9a9a" stroke-width="0.5"/>
<rect x="142.40" y="241.55" width="3.2" height="7.398" fill="#f6ad92" stroke="#9a9a9a" stroke-width="0.5"/>
<rect x="145.60" y="241.55" width="3.2" height="7.398" fill="#dd7364" stroke="#9a9a9a" stroke-width="0.5"/>
<rect x="148.80" y="241.55" width="3.2" height="7.398" fill="#f8f8f8" stroke="#9a9a9a" stroke-width="0.5"/>
<rect x="152.00" y="241.55" width="3.2" height="7.398" fill="#fcdecd" stroke="#9a9a9a" stroke-width="0.5"/>
<rect x="155.20" y="241.55" width="3.2" height="7.398" fill="#fcdecd" stroke="#9a9a9a" stroke-width="0.5"/>
<rect x="60.0" y="241.55" width="8.2" height="7.398" fill="#f5e51d" stroke="#9a9a9a" stroke-width="0.4"/>
<rect x="70.90" y="248.94" width="3.2" height="7.398" fill="#accde3" stroke="#9a9a9a" stroke-width="0.5"/>
<rect x="74.10" y="248.94" width="3.2" height="7.398" fill="#6e9cca" stroke="#9a9a9a" stroke-width="0.5"/>
<rect x="77.30" y="248.94" width="3.2" height="7.398" fill="#accde3" stroke="#9a9a9a" stroke-width="0.5"/>
<rect x="80.50" y="248.94" width="3.2" height="7.398" fill="#6e9cca" stroke="#9a9a9a" stroke-width="0.5"/>
<rect x="83.70" y="248.94" width="3.2" height="7.398" fill="#dde9f3" stroke="#9a9a9a" stroke-width="0.5"/>
<rect x="90.60" y="248.94" width="3.2" height="7.398" fill="#6e9cca" stroke="#9a9a9a" stroke-width="0.5"/>
<rect x="93.80" y="248.94" width="3.2" height="7.398" fill="#dde9f3" stroke="#9a9a9a" stroke-width="0.5"/>
<rect x="97.00" y="248.94" width="3.2" height="7.398" fill="#accde3" stroke="#9a9a9a" stroke-width="0.5"/>
<rect x="100.20" y="248.94" width="3.2" height="7.398" fill="#dde9f3" stroke="#9a9a9a" stroke-width="0.5"/>
<rect x="103.40" y="248.94" width="3.2" height="7.398" fill="#dde9f3" stroke="#9a9a9a" stroke-width="0.5"/>
<rect x="106.60" y="248.94" width="3.2" height="7.398" fill="#dd7364" stroke="#9a9a9a" stroke-width="0.5"/>
<rect x="109.80" y="248.94" width="3.2" height="7.398" fill="#dde9f3" stroke="#9a9a9a" stroke-width="0.5"/>
<rect x="113.00" y="248.94" width="3.2" height="7.398" fill="#dde9f3" stroke="#9a9a9a" stroke-width="0.5"/>
<rect x="120.00" y="248.94" width="3.2" height="7.398" fill="#fcdecd" stroke="#9a9a9a" stroke-width="0.5"/>
<rect x="123.20" y="248.94" width="3.2" height="7.398" fill="#f6ad92" stroke="#9a9a9a" stroke-width="0.5"/>
<rect x="126.40" y="248.94" width="3.2" height="7.398" fill="#f8f8f8" stroke="#9a9a9a" stroke-width="0.5"/>
<rect x="129.60" y="248.94" width="3.2" height="7.398" fill="#f6ad92" stroke="#9a9a9a" stroke-width="0.5"/>
<rect x="132.80" y="248.94" width="3.2" height="7.398" fill="#f6ad92" stroke="#9a9a9a" stroke-width="0.5"/>
<rect x="136.00" y="248.94" width="3.2" height="7.398" fill="#f6ad92" stroke="#9a9a9a" stroke-width="0.5"/>
<rect x="139.20" y="248.94" width="3.2" height="7.398" fill="#f6ad92" stroke="#9a9a9a" stroke-width="0.5"/>
<rect x="142.40" y="248.94" width="3.2" height="7.398" fill="#f6ad92" stroke="#9a9a9a" stroke-width="0.5"/>
<rect x="145.60" y="248.94" width="3.2" height="7.398" fill="#b43339" stroke="#9a9a9a" stroke-width="0.5"/>
<rect x="148.80" y="248.94" width="3.2" height="7.398" fill="#f8f8f8" stroke="#9a9a9a" stroke-width="0.5"/>
<rect x="152.00" y="248.94" width="3.2" height="7.398" fill="#fcdecd" stroke="#9a9a9a" stroke-width="0.5"/>
<rect x="155.20" y="248.94" width="3.2" height="7.398" fill="#fcdecd" stroke="#9a9a9a" stroke-width="0.5"/>
<rect x="60.0" y="248.94" width="8.2" height="7.398" fill="#f5e51d" stroke="#9a9a9a" stroke-width="0.4"/>
<rect x="70.90" y="256.34" width="3.2" height="7.398" fill="#4464ab" stroke="#9a9a9a" stroke-width="0.5"/>
<rect x="74.10" y="256.34" width="3.2" height="7.398" fill="#dde9f3" stroke="#9a9a9a" stroke-width="0.5"/>
<rect x="77.30" y="256.34" width="3.2" height="7.398" fill="#4464ab" stroke="#9a9a9a" stroke-width="0.5"/>
<rect x="80.50" y="256.34" width="3.2" height="7.398" fill="#accde3" stroke="#9a9a9a" stroke-width="0.5"/>
<rect x="83.70" y="256.34" width="3.2" height="7.398" fill="#dde9f3" stroke="#9a9a9a" stroke-width="0.5"/>
<rect x="90.60" y="256.34" width="3.2" height="7.398" fill="#accde3" stroke="#9a9a9a" stroke-width="0.5"/>
<rect x="93.80" y="256.34" width="3.2" height="7.398" fill="#dde9f3" stroke="#9a9a9a" stroke-width="0.5"/>
<rect x="97.00" y="256.34" width="3.2" height="7.398" fill="#accde3" stroke="#9a9a9a" stroke-width="0.5"/>
<rect x="100.20" y="256.34" width="3.2" height="7.398" fill="#dde9f3" stroke="#9a9a9a" stroke-width="0.5"/>
<rect x="103.40" y="256.34" width="3.2" height="7.398" fill="#dde9f3" stroke="#9a9a9a" stroke-width="0.5"/>
<rect x="106.60" y="256.34" width="3.2" height="7.398" fill="#dde9f3" stroke="#9a9a9a" stroke-width="0.5"/>
<rect x="109.80" y="256.34" width="3.2" height="7.398" fill="#dde9f3" stroke="#9a9a9a" stroke-width="0.5"/>
<rect x="113.00" y="256.34" width="3.2" height="7.398" fill="#dde9f3" stroke="#9a9a9a" stroke-width="0.5"/>
<rect x="120.00" y="256.34" width="3.2" height="7.398" fill="#f6ad92" stroke="#9a9a9a" stroke-width="0.5"/>
<rect x="123.20" y="256.34" width="3.2" height="7.398" fill="#f6ad92" stroke="#9a9a9a" stroke-width="0.5"/>
<rect x="126.40" y="256.34" width="3.2" height="7.398" fill="#f6ad92" stroke="#9a9a9a" stroke-width="0.5"/>
<rect x="129.60" y="256.34" width="3.2" height="7.398" fill="#f6ad92" stroke="#9a9a9a" stroke-width="0.5"/>
<rect x="132.80" y="256.34" width="3.2" height="7.398" fill="#f6ad92" stroke="#9a9a9a" stroke-width="0.5"/>
<rect x="136.00" y="256.34" width="3.2" height="7.398" fill="#fcdecd" stroke="#9a9a9a" stroke-width="0.5"/>
<rect x="139.20" y="256.34" width="3.2" height="7.398" fill="#f6ad92" stroke="#9a9a9a" stroke-width="0.5"/>
<rect x="142.40" y="256.34" width="3.2" height="7.398" fill="#f6ad92" stroke="#9a9a9a" stroke-width="0.5"/>
<rect x="145.60" y="256.34" width="3.2" height="7.398" fill="#dd7364" stroke="#9a9a9a" stroke-width="0.5"/>
<rect x="148.80" y="256.34" width="3.2" height="7.398" fill="#f6ad92" stroke="#9a9a9a" stroke-width="0.5"/>
<rect x="152.00" y="256.34" width="3.2" height="7.398" fill="#fcdecd" stroke="#9a9a9a" stroke-width="0.5"/>
<rect x="155.20" y="256.34" width="3.2" height="7.398" fill="#fcdecd" stroke="#9a9a9a" stroke-width="0.5"/>
<rect x="60.0" y="256.34" width="8.2" height="7.398" fill="#f5e51d" stroke="#9a9a9a" stroke-width="0.4"/>
<rect x="70.90" y="263.74" width="3.2" height="7.398" fill="#accde3" stroke="#9a9a9a" stroke-width="0.5"/>
<rect x="74.10" y="263.74" width="3.2" height="7.398" fill="#accde3" stroke="#9a9a9a" stroke-width="0.5"/>
<rect x="77.30" y="263.74" width="3.2" height="7.398" fill="#6e9cca" stroke="#9a9a9a" stroke-width="0.5"/>
<rect x="80.50" y="263.74" width="3.2" height="7.398" fill="#6e9cca" stroke="#9a9a9a" stroke-width="0.5"/>
<rect x="83.70" y="263.74" width="3.2" height="7.398" fill="#dde9f3" stroke="#9a9a9a" stroke-width="0.5"/>
<rect x="90.60" y="263.74" width="3.2" height="7.398" fill="#dde9f3" stroke="#9a9a9a" stroke-width="0.5"/>
<rect x="93.80" y="263.74" width="3.2" height="7.398" fill="#fcdecd" stroke="#9a9a9a" stroke-width="0.5"/>
<rect x="97.00" y="263.74" width="3.2" height="7.398" fill="#dde9f3" stroke="#9a9a9a" stroke-width="0.5"/>
<rect x="100.20" y="263.74" width="3.2" height="7.398" fill="#dde9f3" stroke="#9a9a9a" stroke-width="0.5"/>
<rect x="103.40" y="263.74" width="3.2" height="7.398" fill="#dde9f3" stroke="#9a9a9a" stroke-width="0.5"/>
<rect x="106.60" y="263.74" width="3.2" height="7.398" fill="#dde9f3" stroke="#9a9a9a" stroke-width="0.5"/>
<rect x="109.80" y="263.74" width="3.2" height="7.398" fill="#dde9f3" stroke="#9a9a9a" stroke-width="0.5"/>
<rect x="113.00" y="263.74" width="3.2" height="7.398" fill="#dde9f3" stroke="#9a9a9a" stroke-width="0.5"/>
<rect x="120.00" y="263.74" width="3.2" height="7.398" fill="#fcdecd" stroke="#9a9a9a" stroke-width="0.5"/>
<rect x="123.20" y="263.74" width="3.2" height="7.398" fill="#dd7364" stroke="#9a9a9a" stroke-width="0.5"/>
<rect x="126.40" y="263.74" width="3.2" height="7.398" fill="#f6ad92" stroke="#9a9a9a" stroke-width="0.5"/>
<rect x="129.60" y="263.74" width="3.2" height="7.398" fill="#f6ad92" stroke="#9a9a9a" stroke-width="0.5"/>
<rect x="132.80" y="263.74" width="3.2" height="7.398" fill="#f6ad92" stroke="#9a9a9a" stroke-width="0.5"/>
<rect x="136.00" y="263.74" width="3.2" height="7.398" fill="#f6ad92" stroke="#9a9a9a" stroke-width="0.5"/>
<rect x="139.20" y="263.74" width="3.2" height="7.398" fill="#f6ad92" stroke="#9a9a9a" stroke-width="0.5"/>
<rect x="142.40" y="263.74" width="3.2" height="7.398" fill="#f6ad92" stroke="#9a9a9a" stroke-width="0.5"/>
<rect x="145.60" y="263.74" width="3.2" height="7.398" fill="#b43339" stroke="#9a9a9a" stroke-width="0.5"/>
<rect x="148.80" y="263.74" width="3.2" height="7.398" fill="#f6ad92" stroke="#9a9a9a" stroke-width="0.5"/>
<rect x="152.00" y="263.74" width="3.2" height="7.398" fill="#fcdecd" stroke="#9a9a9a" stroke-width="0.5"/>
<rect x="155.20" y="263.74" width="3.2" height="7.398" fill="#fcdecd" stroke="#9a9a9a" stroke-width="0.5"/>
<rect x="60.0" y="263.74" width="8.2" height="7.398" fill="#f5e51d" stroke="#9a9a9a" stroke-width="0.4"/>
<rect x="70.90" y="271.14" width="3.2" height="7.398" fill="#accde3" stroke="#9a9a9a" stroke-width="0.5"/>
<rect x="74.10" y="271.14" width="3.2" height="7.398" fill="#dde9f3" stroke="#9a9a9a" stroke-width="0.5"/>
<rect x="77.30" y="271.14" width="3.2" height="7.398" fill="#6e9cca" stroke="#9a9a9a" stroke-width="0.5"/>
<rect x="80.50" y="271.14" width="3.2" height="7.398" fill="#6e9cca" stroke="#9a9a9a" stroke-width="0.5"/>
<rect x="83.70" y="271.14" width="3.2" height="7.398" fill="#dde9f3" stroke="#9a9a9a" stroke-width="0.5"/>
<rect x="90.60" y="271.14" width="3.2" height="7.398" fill="#6e9cca" stroke="#9a9a9a" stroke-width="0.5"/>
<rect x="93.80" y="271.14" width="3.2" height="7.398" fill="#dde9f3" stroke="#9a9a9a" stroke-width="0.5"/>
<rect x="97.00" y="271.14" width="3.2" height="7.398" fill="#dde9f3" stroke="#9a9a9a" stroke-width="0.5"/>
<rect x="100.20" y="271.14" width="3.2" height="7.398" fill="#dde9f3" stroke="#9a9a9a" stroke-width="0.5"/>
<rect x="103.40" y="271.14" width="3.2" height="7.398" fill="#dde9f3" stroke="#9a9a9a" stroke-width="0.5"/>
<rect x="106.60" y="271.14" width="3.2" height="7.398" fill="#dde9f3" stroke="#9a9a9a" stroke-width="0.5"/>
<rect x="109.80" y="271.14" width="3.2" height="7.398" fill="#dde9f3" stroke="#9a9a9a" stroke-width="0.5"/>
<rect x="113.00" y="271.14" width="3.2" height="7.398" fill="#dde9f3" stroke="#9a9a9a" stroke-width="0.5"/>
<rect x="120.00" y="271.14" width="3.2" height="7.398" fill="#fcdecd" stroke="#9a9a9a" stroke-width="0.5"/>
<rect x="123.20" y="271.14" width="3.2" height="7.398" fill="#f6ad92" stroke="#9a9a9a" stroke-width="0.5"/>
<rect x="126.40" y="271.14" width="3.2" height="7.398" fill="#f8f8f8" stroke="#9a9a9a" stroke-width="0.5"/>
<rect x="129.60" y="271.14" width="3.2" height="7.398" fill="#f6ad92" stroke="#9a9a9a" stroke-width="0.5"/>
<rect x="132.80" y="271.14" width="3.2" height="7.398" fill="#f6ad92" stroke="#9a9a9a" stroke-width="0.5"/>
<rect x="136.00" y="271.14" width="3.2" height="7.398" fill="#f6ad92" stroke="#9a9a9a" stroke-width="0.5"/>
<rect x="139.20" y="271.14" width="3.2" height="7.398" fill="#dd7364" stroke="#9a9a9a" stroke-width="0.5"/>
<rect x="142.40" y="271.14" width="3.2" height="7.398" fill="#f6ad92" stroke="#9a9a9a" stroke-width="0.5"/>
<rect x="145.60" y="271.14" width="3.2" height="7.398" fill="#b43339" stroke="#9a9a9a" stroke-width="0.5"/>
<rect x="148.80" y="271.14" width="3.2" height="7.398" fill="#f6ad92" stroke="#9a9a9a" stroke-width="0.5"/>
<rect x="152.00" y="271.14" width="3.2" height="7.398" fill="#f8f8f8" stroke="#9a9a9a" stroke-width="0.5"/>
<rect x="155.20" y="271.14" width="3.2" height="7.398" fill="#f8f8f8" stroke="#9a9a9a" stroke-width="0.5"/>
<rect x="60.0" y="271.14" width="8.2" height="7.398" fill="#f5e51d" stroke="#9a9a9a" stroke-width="0.4"/>
<rect x="70.90" y="278.54" width="3.2" height="7.398" fill="#accde3" stroke="#9a9a9a" stroke-width="0.5"/>
<rect x="74.10" y="278.54" width="3.2" height="7.398" fill="#accde3" stroke="#9a9a9a" stroke-width="0.5"/>
<rect x="77.30" y="278.54" width="3.2" height="7.398" fill="#accde3" stroke="#9a9a9a" stroke-width="0.5"/>
<rect x="80.50" y="278.54" width="3.2" height="7.398" fill="#accde3" stroke="#9a9a9a" stroke-width="0.5"/>
<rect x="83.70" y="278.54" width="3.2" height="7.398" fill="#accde3" stroke="#9a9a9a" stroke-width="0.5"/>
<rect x="90.60" y="278.54" width="3.2" height="7.398" fill="#accde3" stroke="#9a9a9a" stroke-width="0.5"/>
<rect x="93.80" y="278.54" width="3.2" height="7.398" fill="#dde9f3" stroke="#9a9a9a" stroke-width="0.5"/>
<rect x="97.00" y="278.54" width="3.2" height="7.398" fill="#f8f8f8" stroke="#9a9a9a" stroke-width="0.5"/>
<rect x="100.20" y="278.54" width="3.2" height="7.398" fill="#f8f8f8" stroke="#9a9a9a" stroke-width="0.5"/>
<rect x="103.40" y="278.54" width="3.2" height="7.398" fill="#fcdecd" stroke="#9a9a9a" stroke-width="0.5"/>
<rect x="106.60" y="278.54" width="3.2" height="7.398" fill="#dde9f3" stroke="#9a9a9a" stroke-width="0.5"/>
<rect x="109.80" y="278.54" width="3.2" height="7.398" fill="#fcdecd" stroke="#9a9a9a" stroke-width="0.5"/>
<rect x="113.00" y="278.54" width="3.2" height="7.398" fill="#dde9f3" stroke="#9a9a9a" stroke-width="0.5"/>
<rect x="120.00" y="278.54" width="3.2" height="7.398" fill="#f8f8f8" stroke="#9a9a9a" stroke-width="0.5"/>
<rect x="123.20" y="278.54" width="3.2" height="7.398" fill="#fcdecd" stroke="#9a9a9a" stroke-width="0.5"/>
<rect x="126.40" y="278.54" width="3.2" height="7.398" fill="#f6ad92" stroke="#9a9a9a" stroke-width="0.5"/>
<rect x="129.60" y="278.54" width="3.2" height="7.398" fill="#f6ad92" stroke="#9a9a9a" stroke-width="0.5"/>
<rect x="132.80" y="278.54" width="3.2" height="7.398" fill="#f6ad92" stroke="#9a9a9a" stroke-width="0.5"/>
<rect x="136.00" y="278.54" width="3.2" height="7.398" fill="#f6ad92" stroke="#9a9a9a" stroke-width="0.5"/>
<rect x="139.20" y="278.54" width="3.2" height="7.398" fill="#f6ad92" stroke="#9a9a9a" stroke-width="0.5"/>
<rect x="142.40" y="278.54" width="3.2" height="7.398" fill="#dd7364" stroke="#9a9a9a" stroke-width="0.5"/>
<rect x="145.60" y="278.54" width="3.2" height="7.398" fill="#dd7364" stroke="#9a9a9a" stroke-width="0.5"/>
<rect x="148.80" y="278.54" width="3.2" height="7.398" fill="#dd7364" stroke="#9a9a9a" stroke-width="0.5"/>
<rect x="152.00" y="278.54" width="3.2" height="7.398" fill="#fcdecd" stroke="#9a9a9a" stroke-width="0.5"/>
<rect x="155.20" y="278.54" width="3.2" height="7.398" fill="#fcdecd" stroke="#9a9a9a" stroke-width="0.5"/>
<rect x="60.0" y="278.54" width="8.2" height="7.398" fill="#f5e51d" stroke="#9a9a9a" stroke-width="0.4"/>
<rect x="70.90" y="285.93" width="3.2" height="7.398" fill="#6e9cca" stroke="#9a9a9a" stroke-width="0.5"/>
<rect x="74.10" y="285.93" width="3.2" height="7.398" fill="#accde3" stroke="#9a9a9a" stroke-width="0.5"/>
<rect x="77.30" y="285.93" width="3.2" height="7.398" fill="#accde3" stroke="#9a9a9a" stroke-width="0.5"/>
<rect x="80.50" y="285.93" width="3.2" height="7.398" fill="#6e9cca" stroke="#9a9a9a" stroke-width="0.5"/>
<rect x="83.70" y="285.93" width="3.2" height="7.398" fill="#6e9cca" stroke="#9a9a9a" stroke-width="0.5"/>
<rect x="90.60" y="285.93" width="3.2" height="7.398" fill="#dde9f3" stroke="#9a9a9a" stroke-width="0.5"/>
<rect x="93.80" y="285.93" width="3.2" height="7.398" fill="#dde9f3" stroke="#9a9a9a" stroke-width="0.5"/>
<rect x="97.00" y="285.93" width="3.2" height="7.398" fill="#dde9f3" stroke="#9a9a9a" stroke-width="0.5"/>
<rect x="100.20" y="285.93" width="3.2" height="7.398" fill="#dde9f3" stroke="#9a9a9a" stroke-width="0.5"/>
<rect x="103.40" y="285.93" width="3.2" height="7.398" fill="#f8f8f8" stroke="#9a9a9a" stroke-width="0.5"/>
<rect x="106.60" y="285.93" width="3.2" height="7.398" fill="#6e9cca" stroke="#9a9a9a" stroke-width="0.5"/>
<rect x="109.80" y="285.93" width="3.2" height="7.398" fill="#dde9f3" stroke="#9a9a9a" stroke-width="0.5"/>
<rect x="113.00" y="285.93" width="3.2" height="7.398" fill="#dde9f3" stroke="#9a9a9a" stroke-width="0.5"/>
<rect x="120.00" y="285.93" width="3.2" height="7.398" fill="#f6ad92" stroke="#9a9a9a" stroke-width="0.5"/>
<rect x="123.20" y="285.93" width="3.2" height="7.398" fill="#f6ad92" stroke="#9a9a9a" stroke-width="0.5"/>
<rect x="126.40" y="285.93" width="3.2" height="7.398" fill="#f6ad92" stroke="#9a9a9a" stroke-width="0.5"/>
<rect x="129.60" y="285.93" width="3.2" height="7.398" fill="#f6ad92" stroke="#9a9a9a" stroke-width="0.5"/>
<rect x="132.80" y="285.93" width="3.2" height="7.398" fill="#f8f8f8" stroke="#9a9a9a" stroke-width="0.5"/>
<rect x="136.00" y="285.93" width="3.2" height="7.398" fill="#f6ad92" stroke="#9a9a9a" stroke-width="0.5"/>
<rect x="139.20" y="285.93" width="3.2" height="7.398" fill="#fcdecd" stroke="#9a9a9a" stroke-width="0.5"/>
<rect x="142.40" y="285.93" width="3.2" height="7.398" fill="#f6ad92" stroke="#9a9a9a" stroke-width="0.5"/>
<rect x="145.60" y="285.93" width="3.2" height="7.398" fill="#f6ad92" stroke="#9a9a9a" stroke-width="0.5"/>
<rect x="148.80" y="285.93" width="3.2" height="7.398" fill="#f6ad92" stroke="#9a9a9a" stroke-width="0.5"/>
<rect x="152.00" y="285.93" width="3.2" height="7.398" fill="#f8f8f8" stroke="#9a9a9a" stroke-width="0.5"/>
<rect x="155.20" y="285.93" width="3.2" height="7.398" fill="#fcdecd" stroke="#9a9a9a" stroke-width="0.5"/>
<rect x="60.0" y="285.93" width="8.2" height="7.398" fill="#f5e51d" stroke="#9a9a9a" stroke-width="0.4"/>
<rect x="70.90" y="293.33" width="3.2" height="7.398" fill="#accde3" stroke="#9a9a9a" stroke-width="0.5"/>
<rect x="74.10" y="293.33" width="3.2" height="7.398" fill="#6e9cca" stroke="#9a9a9a" stroke-width="0.5"/>
<rect x="77.30" y="293.33" width="3.2" height="7.398" fill="#accde3" stroke="#9a9a9a" stroke-width="0.5"/>
<rect x="80.50" y="293.33" width="3.2" height="7.398" fill="#4464ab" stroke="#9a9a9a" stroke-width="0.5"/>
<rect x="83.70" y="293.33" width="3.2" height="7.398" fill="#accde3" stroke="#9a9a9a" stroke-width="0.5"/>
<rect x="90.60" y="293.33" width="3.2" height="7.398" fill="#dde9f3" stroke="#9a9a9a" stroke-width="0.5"/>
<rect x="93.80" y="293.33" width="3.2" height="7.398" fill="#dde9f3" stroke="#9a9a9a" stroke-width="0.5"/>
<rect x="97.00" y="293.33" width="3.2" height="7.398" fill="#dde9f3" stroke="#9a9a9a" stroke-width="0.5"/>
<rect x="100.20" y="293.33" width="3.2" height="7.398" fill="#dde9f3" stroke="#9a9a9a" stroke-width="0.5"/>
<rect x="103.40" y="293.33" width="3.2" height="7.398" fill="#dde9f3" stroke="#9a9a9a" stroke-width="0.5"/>
<rect x="106.60" y="293.33" width="3.2" height="7.398" fill="#accde3" stroke="#9a9a9a" stroke-width="0.5"/>
<rect x="109.80" y="293.33" width="3.2" height="7.398" fill="#dde9f3" stroke="#9a9a9a" stroke-width="0.5"/>
<rect x="113.00" y="293.33" width="3.2" height="7.398" fill="#dde9f3" stroke="#9a9a9a" stroke-width="0.5"/>
<rect x="120.00" y="293.33" width="3.2" height="7.398" fill="#fcdecd" stroke="#9a9a9a" stroke-width="0.5"/>
<rect x="123.20" y="293.33" width="3.2" height="7.398" fill="#f6ad92" stroke="#9a9a9a" stroke-width="0.5"/>
<rect x="126.40" y="293.33" width="3.2" height="7.398" fill="#fcdecd" stroke="#9a9a9a" stroke-width="0.5"/>
<rect x="129.60" y="293.33" width="3.2" height="7.398" fill="#f6ad92" stroke="#9a9a9a" stroke-width="0.5"/>
<rect x="132.80" y="293.33" width="3.2" height="7.398" fill="#f6ad92" stroke="#9a9a9a" stroke-width="0.5"/>
<rect x="136.00" y="293.33" width="3.2" height="7.398" fill="#f6ad92" stroke="#9a9a9a" stroke-width="0.5"/>
<rect x="139.20" y="293.33" width="3.2" height="7.398" fill="#dd7364" stroke="#9a9a9a" stroke-width="0.5"/>
<rect x="142.40" y="293.33" width="3.2" height="7.398" fill="#dd7364" stroke="#9a9a9a" stroke-width="0.5"/>
<rect x="145.60" y="293.33" width="3.2" height="7.398" fill="#dd7364" stroke="#9a9a9a" stroke-width="0.5"/>
<rect x="148.80" y="293.33" width="3.2" height="7.398" fill="#fcdecd" stroke="#9a9a9a" stroke-width="0.5"/>
<rect x="152.00" y="293.33" width="3.2" height="7.398" fill="#f8f8f8" stroke="#9a9a9a" stroke-width="0.5"/>
<rect x="155.20" y="293.33" width="3.2" height="7.398" fill="#fcdecd" stroke="#9a9a9a" stroke-width="0.5"/>
<rect x="60.0" y="293.33" width="8.2" height="7.398" fill="#f39a2c" stroke="#9a9a9a" stroke-width="0.4"/>
<rect x="70.90" y="300.73" width="3.2" height="7.398" fill="#252a57" stroke="#9a9a9a" stroke-width="0.5"/>
<rect x="74.10" y="300.73" width="3.2" height="7.398" fill="#f8f8f8" stroke="#9a9a9a" stroke-width="0.5"/>
<rect x="77.30" y="300.73" width="3.2" height="7.398" fill="#accde3" stroke="#9a9a9a" stroke-width="0.5"/>
<rect x="80.50" y="300.73" width="3.2" height="7.398" fill="#6e9cca" stroke="#9a9a9a" stroke-width="0.5"/>
<rect x="83.70" y="300.73" width="3.2" height="7.398" fill="#accde3" stroke="#9a9a9a" stroke-width="0.5"/>
<rect x="90.60" y="300.73" width="3.2" height="7.398" fill="#6e9cca" stroke="#9a9a9a" stroke-width="0.5"/>
<rect x="93.80" y="300.73" width="3.2" height="7.398" fill="#fcdecd" stroke="#9a9a9a" stroke-width="0.5"/>
<rect x="97.00" y="300.73" width="3.2" height="7.398" fill="#dde9f3" stroke="#9a9a9a" stroke-width="0.5"/>
<rect x="100.20" y="300.73" width="3.2" height="7.398" fill="#dde9f3" stroke="#9a9a9a" stroke-width="0.5"/>
<rect x="103.40" y="300.73" width="3.2" height="7.398" fill="#dde9f3" stroke="#9a9a9a" stroke-width="0.5"/>
<rect x="106.60" y="300.73" width="3.2" height="7.398" fill="#accde3" stroke="#9a9a9a" stroke-width="0.5"/>
<rect x="109.80" y="300.73" width="3.2" height="7.398" fill="#dde9f3" stroke="#9a9a9a" stroke-width="0.5"/>
<rect x="113.00" y="300.73" width="3.2" height="7.398" fill="#dde9f3" stroke="#9a9a9a" stroke-width="0.5"/>
<rect x="120.00" y="300.73" width="3.2" height="7.398" fill="#f6ad92" stroke="#9a9a9a" stroke-width="0.5"/>
<rect x="123.20" y="300.73" width="3.2" height="7.398" fill="#dd7364" stroke="#9a9a9a" stroke-width="0.5"/>
<rect x="126.40" y="300.73" width="3.2" height="7.398" fill="#f6ad92" stroke="#9a9a9a" stroke-width="0.5"/>
<rect x="129.60" y="300.73" width="3.2" height="7.398" fill="#f6ad92" stroke="#9a9a9a" stroke-width="0.5"/>
<rect x="132.80" y="300.73" width="3.2" height="7.398" fill="#fcdecd" stroke="#9a9a9a" stroke-width="0.5"/>
<rect x="136.00" y="300.73" width="3.2" height="7.398" fill="#f6ad92" stroke="#9a9a9a" stroke-width="0.5"/>
<rect x="139.20" y="300.73" width="3.2" height="7.398" fill="#dd7364" stroke="#9a9a9a" stroke-width="0.5"/>
<rect x="142.40" y="300.73" width="3.2" height="7.398" fill="#f6ad92" stroke="#9a9a9a" stroke-width="0.5"/>
<rect x="145.60" y="300.73" width="3.2" height="7.398" fill="#fcdecd" stroke="#9a9a9a" stroke-width="0.5"/>
<rect x="148.80" y="300.73" width="3.2" height="7.398" fill="#fcdecd" stroke="#9a9a9a" stroke-width="0.5"/>
<rect x="152.00" y="300.73" width="3.2" height="7.398" fill="#f6ad92" stroke="#9a9a9a" stroke-width="0.5"/>
<rect x="155.20" y="300.73" width="3.2" height="7.398" fill="#fcdecd" stroke="#9a9a9a" stroke-width="0.5"/>
<rect x="60.0" y="300.73" width="8.2" height="7.398" fill="#f39a2c" stroke="#9a9a9a" stroke-width="0.4"/>
<rect x="70.90" y="308.13" width="3.2" height="7.398" fill="#6e9cca" stroke="#9a9a9a" stroke-width="0.5"/>
<rect x="74.10" y="308.13" width="3.2" height="7.398" fill="#accde3" stroke="#9a9a9a" stroke-width="0.5"/>
<rect x="77.30" y="308.13" width="3.2" height="7.398" fill="#f8f8f8" stroke="#9a9a9a" stroke-width="0.5"/>
<rect x="80.50" y="308.13" width="3.2" height="7.398" fill="#6e9cca" stroke="#9a9a9a" stroke-width="0.5"/>
<rect x="83.70" y="308.13" width="3.2" height="7.398" fill="#accde3" stroke="#9a9a9a" stroke-width="0.5"/>
<rect x="90.60" y="308.13" width="3.2" height="7.398" fill="#accde3" stroke="#9a9a9a" stroke-width="0.5"/>
<rect x="93.80" y="308.13" width="3.2" height="7.398" fill="#dde9f3" stroke="#9a9a9a" stroke-width="0.5"/>
<rect x="97.00" y="308.13" width="3.2" height="7.398" fill="#dde9f3" stroke="#9a9a9a" stroke-width="0.5"/>
<rect x="100.20" y="308.13" width="3.2" height="7.398" fill="#dde9f3" stroke="#9a9a9a" stroke-width="0.5"/>
<rect x="103.40" y="308.13" width="3.2" height="7.398" fill="#dde9f3" stroke="#9a9a9a" stroke-width="0.5"/>
<rect x="106.60" y="308.13" width="3.2" height="7.398" fill="#accde3" stroke="#9a9a9a" stroke-width="0.5"/>
<rect x="109.80" y="308.13" width="3.2" height="7.398" fill="#accde3" stroke="#9a9a9a" stroke-width="0.5"/>
<rect x="113.00" y="308.13" width="3.2" height="7.398" fill="#dde9f3" stroke="#9a9a9a" stroke-width="0.5"/>
<rect x="120.00" y="308.13" width="3.2" height="7.398" fill="#fcdecd" stroke="#9a9a9a" stroke-width="0.5"/>
<rect x="123.20" y="308.13" width="3.2" height="7.398" fill="#f6ad92" stroke="#9a9a9a" stroke-width="0.5"/>
<rect x="126.40" y="308.13" width="3.2" height="7.398" fill="#f6ad92" stroke="#9a9a9a" stroke-width="0.5"/>
<rect x="129.60" y="308.13" width="3.2" height="7.398" fill="#f6ad92" stroke="#9a9a9a" stroke-width="0.5"/>
<rect x="132.80" y="308.13" width="3.2" height="7.398" fill="#f8f8f8" stroke="#9a9a9a" stroke-width="0.5"/>
<rect x="136.00" y="308.13" width="3.2" height="7.398" fill="#f6ad92" stroke="#9a9a9a" stroke-width="0.5"/>
<rect x="139.20" y="308.13" width="3.2" height="7.398" fill="#f6ad92" stroke="#9a9a9a" stroke-width="0.5"/>
<rect x="142.40" y="308.13" width="3.2" height="7.398" fill="#fcdecd" stroke="#9a9a9a" stroke-width="0.5"/>
<rect x="145.60" y="308.13" width="3.2" height="7.398" fill="#f6ad92" stroke="#9a9a9a" stroke-width="0.5"/>
<rect x="148.80" y="308.13" width="3.2" height="7.398" fill="#f6ad92" stroke="#9a9a9a" stroke-width="0.5"/>
<rect x="152.00" y="308.13" width="3.2" height="7.398" fill="#fcdecd" stroke="#9a9a9a" stroke-width="0.5"/>
<rect x="155.20" y="308.13" width="3.2" height="7.398" fill="#fcdecd" stroke="#9a9a9a" stroke-width="0.5"/>
<rect x="60.0" y="308.13" width="8.2" height="7.398" fill="#f39a2c" stroke="#9a9a9a" stroke-width="0.4"/>
<rect x="70.90" y="315.53" width="3.2" height="7.398" fill="#4464ab" stroke="#9a9a9a" stroke-width="0.5"/>
<rect x="74.10" y="315.53" width="3.2" height="7.398" fill="#accde3" stroke="#9a9a9a" stroke-width="0.5"/>
<rect x="77.30" y="315.53" width="3.2" height="7.398" fill="#accde3" stroke="#9a9a9a" stroke-width="0.5"/>
<rect x="80.50" y="315.53" width="3.2" height="7.398" fill="#6e9cca" stroke="#9a9a9a" stroke-width="0.5"/>
<rect x="83.70" y="315.53" width="3.2" height="7.398" fill="#accde3" stroke="#9a9a9a" stroke-width="0.5"/>
<rect x="90.60" y="315.53" width="3.2" height="7.398" fill="#dde9f3" stroke="#9a9a9a" stroke-width="0.5"/>
<rect x="93.80" y="315.53" width="3.2" height="7.398" fill="#fcdecd" stroke="#9a9a9a" stroke-width="0.5"/>
<rect x="97.00" y="315.53" width="3.2" height="7.398" fill="#dde9f3" stroke="#9a9a9a" stroke-width="0.5"/>
<rect x="100.20" y="315.53" width="3.2" height="7.398" fill="#dde9f3" stroke="#9a9a9a" stroke-width="0.5"/>
<rect x="103.40" y="315.53" width="3.2" height="7.398" fill="#dde9f3" stroke="#9a9a9a" stroke-width="0.5"/>
<rect x="106.60" y="315.53" width="3.2" height="7.398" fill="#accde3" stroke="#9a9a9a" stroke-width="0.5"/>
<rect x="109.80" y="315.53" width="3.2" height="7.398" fill="#dde9f3" stroke="#9a9a9a" stroke-width="0.5"/>
<rect x="113.00" y="315.53" width="3.2" height="7.398" fill="#dde9f3" stroke="#9a9a9a" stroke-width="0.5"/>
<rect x="120.00" y="315.53" width="3.2" height="7.398" fill="#f6ad92" stroke="#9a9a9a" stroke-width="0.5"/>
<rect x="123.20" y="315.53" width="3.2" height="7.398" fill="#dd7364" stroke="#9a9a9a" stroke-width="0.5"/>
<rect x="126.40" y="315.53" width="3.2" height="7.398" fill="#f6ad92" stroke="#9a9a9a" stroke-width="0.5"/>
<rect x="129.60" y="315.53" width="3.2" height="7.398" fill="#f6ad92" stroke="#9a9a9a" stroke-width="0.5"/>
<rect x="132.80" y="315.53" width="3.2" height="7.398" fill="#f8f8f8" stroke="#9a9a9a" stroke-width="0.5"/>
<rect x="136.00" y="315.53" width="3.2" height="7.398" fill="#f6ad92" stroke="#9a9a9a" stroke-width="0.5"/>
<rect x="139.20" y="315.53" width="3.2" height="7.398" fill="#dd7364" stroke="#9a9a9a" stroke-width="0.5"/>
<rect x="142.40" y="315.53" width="3.2" height="7.398" fill="#f6ad92" stroke="#9a9a9a" stroke-width="0.5"/>
<rect x="145.60" y="315.53" width="3.2" height="7.398" fill="#dd7364" stroke="#9a9a9a" stroke-width="0.5"/>
<rect x="148.80" y="315.53" width="3.2" height="7.398" fill="#f6ad92" stroke="#9a9a9a" stroke-width="0.5"/>
<rect x="152.00" y="315.53" width="3.2" height="7.398" fill="#fcdecd" stroke="#9a9a9a" stroke-width="0.5"/>
<rect x="155.20" y="315.53" width="3.2" height="7.398" fill="#fcdecd" stroke="#9a9a9a" stroke-width="0.5"/>
<rect x="60.0" y="315.53" width="8.2" height="7.398" fill="#f39a2c" stroke="#9a9a9a" stroke-width="0.4"/>
<rect x="70.90" y="322.92" width="3.2" height="7.398" fill="#6e9cca" stroke="#9a9a9a" stroke-width="0.5"/>
<rect x="74.10" y="322.92" width="3.2" height="7.398" fill="#accde3" stroke="#9a9a9a" stroke-width="0.5"/>
<rect x="77.30" y="322.92" width="3.2" height="7.398" fill="#accde3" stroke="#9a9a9a" stroke-width="0.5"/>
<rect x="80.50" y="322.92" width="3.2" height="7.398" fill="#6e9cca" stroke="#9a9a9a" stroke-width="0.5"/>
<rect x="83.70" y="322.92" width="3.2" height="7.398" fill="#accde3" stroke="#9a9a9a" stroke-width="0.5"/>
<rect x="90.60" y="322.92" width="3.2" height="7.398" fill="#accde3" stroke="#9a9a9a" stroke-width="0.5"/>
<rect x="93.80" y="322.92" width="3.2" height="7.398" fill="#dde9f3" stroke="#9a9a9a" stroke-width="0.5"/>
<rect x="97.00" y="322.92" width="3.2" height="7.398" fill="#dde9f3" stroke="#9a9a9a" stroke-width="0.5"/>
<rect x="100.20" y="322.92" width="3.2" height="7.398" fill="#dde9f3" stroke="#9a9a9a" stroke-width="0.5"/>
<rect x="103.40" y="322.92" width="3.2" height="7.398" fill="#dde9f3" stroke="#9a9a9a" stroke-width="0.5"/>
<rect x="106.60" y="322.92" width="3.2" height="7.398" fill="#accde3" stroke="#9a9a9a" stroke-width="0.5"/>
<rect x="109.80" y="322.92" width="3.2" height="7.398" fill="#dde9f3" stroke="#9a9a9a" stroke-width="0.5"/>
<rect x="113.00" y="322.92" width="3.2" height="7.398" fill="#accde3" stroke="#9a9a9a" stroke-width="0.5"/>
<rect x="120.00" y="322.92" width="3.2" height="7.398" fill="#f6ad92" stroke="#9a9a9a" stroke-width="0.5"/>
<rect x="123.20" y="322.92" width="3.2" height="7.398" fill="#f6ad92" stroke="#9a9a9a" stroke-width="0.5"/>
<rect x="126.40" y="322.92" width="3.2" height="7.398" fill="#f6ad92" stroke="#9a9a9a" stroke-width="0.5"/>
<rect x="129.60" y="322.92" width="3.2" height="7.398" fill="#f6ad92" stroke="#9a9a9a" stroke-width="0.5"/>
<rect x="132.80" y="322.92" width="3.2" height="7.398" fill="#f6ad92" stroke="#9a9a9a" stroke-width="0.5"/>
<rect x="136.00" y="322.92" width="3.2" height="7.398" fill="#f6ad92" stroke="#9a9a9a" stroke-width="0.5"/>
<rect x="139.20" y="322.92" width="3.2" height="7.398" fill="#dd7364" stroke="#9a9a9a" stroke-width="0.5"/>
<rect x="142.40" y="322.92" width="3.2" height="7.398" fill="#f6ad92" stroke="#9a9a9a" stroke-width="0.5"/>
<rect x="145.60" y="322.92" width="3.2" height="7.398" fill="#dd7364" stroke="#9a9a9a" stroke-width="0.5"/>
<rect x="148.80" y="322.92" width="3.2" height="7.398" fill="#f6ad92" stroke="#9a9a9a" stroke-width="0.5"/>
<rect x="152.00" y="322.92" width="3.2" height="7.398" fill="#fcdecd" stroke="#9a9a9a" stroke-width="0.5"/>
<rect x="155.20" y="322.92" width="3.2" height="7.398" fill="#fcdecd" stroke="#9a9a9a" stroke-width="0.5"/>
<rect x="60.0" y="322.92" width="8.2" height="7.398" fill="#f39a2c" stroke="#9a9a9a" stroke-width="0.4"/>
<rect x="70.90" y="330.32" width="3.2" height="7.398" fill="#4464ab" stroke="#9a9a9a" stroke-width="0.5"/>
<rect x="74.10" y="330.32" width="3.2" height="7.398" fill="#6e9cca" stroke="#9a9a9a" stroke-width="0.5"/>
<rect x="77.30" y="330.32" width="3.2" height="7.398" fill="#accde3" stroke="#9a9a9a" stroke-width="0.5"/>
<rect x="80.50" y="330.32" width="3.2" height="7.398" fill="#4464ab" stroke="#9a9a9a" stroke-width="0.5"/>
<rect x="83.70" y="330.32" width="3.2" height="7.398" fill="#accde3" stroke="#9a9a9a" stroke-width="0.5"/>
<rect x="90.60" y="330.32" width="3.2" height="7.398" fill="#dde9f3" stroke="#9a9a9a" stroke-width="0.5"/>
<rect x="93.80" y="330.32" width="3.2" height="7.398" fill="#dde9f3" stroke="#9a9a9a" stroke-width="0.5"/>
<rect x="97.00" y="330.32" width="3.2" height="7.398" fill="#f6ad92" stroke="#9a9a9a" stroke-width="0.5"/>
<rect x="100.20" y="330.32" width="3.2" height="7.398" fill="#dde9f3" stroke="#9a9a9a" stroke-width="0.5"/>
<rect x="103.40" y="330.32" width="3.2" height="7.398" fill="#dde9f3" stroke="#9a9a9a" stroke-width="0.5"/>
<rect x="106.60" y="330.32" width="3.2" height="7.398" fill="#4464ab" stroke="#9a9a9a" stroke-width="0.5"/>
<rect x="109.80" y="330.32" width="3.2" height="7.398" fill="#dde9f3" stroke="#9a9a9a" stroke-width="0.5"/>
<rect x="113.00" y="330.32" width="3.2" height="7.398" fill="#dde9f3" stroke="#9a9a9a" stroke-width="0.5"/>
<rect x="120.00" y="330.32" width="3.2" height="7.398" fill="#fcdecd" stroke="#9a9a9a" stroke-width="0.5"/>
<rect x="123.20" y="330.32" width="3.2" height="7.398" fill="#f6ad92" stroke="#9a9a9a" stroke-width="0.5"/>
<rect x="126.40" y="330.32" width="3.2" height="7.398" fill="#f6ad92" stroke="#9a9a9a" stroke-width="0.5"/>
<rect x="129.60" y="330.32" width="3.2" height="7.398" fill="#dd7364" stroke="#9a9a9a" stroke-width="0.5"/>
<rect x="132.80" y="330.32" width="3.2" height="7.398" fill="#f6ad92" stroke="#9a9a9a" stroke-width="0.5"/>
<rect x="136.00" y="330.32" width="3.2" height="7.398" fill="#f6ad92" stroke="#9a9a9a" stroke-width="0.5"/>
<rect x="139.20" y="330.32" width="3.2" height="7.398" fill="#f6ad92" stroke="#9a9a9a" stroke-width="0.5"/>
<rect x="142.40" y="330.32" width="3.2" height="7.398" fill="#f6ad92" stroke="#9a9a9a" stroke-width="0.5"/>
<rect x="145.60" y="330.32" width="3.2" height="7.398" fill="#dd7364" stroke="#9a9a9a" stroke-width="0.5"/>
<rect x="148.80" y="330.32" width="3.2" height="7.398" fill="#f6ad92" stroke="#9a9a9a" stroke-width="0.5"/>
<rect x="152.00" y="330.32" width="3.2" height="7.398" fill="#fcdecd" stroke="#9a9a9a" stroke-width="0.5"/>
<rect x="155.20" y="330.32" width="3.2" height="7.398" fill="#dde9f3" stroke="#9a9a9a" stroke-width="0.5"/>
<rect x="60.0" y="330.32" width="8.2" height="7.398" fill="#f5e51d" stroke="#9a9a9a" stroke-width="0.4"/>
<rect x="70.90" y="337.72" width="3.2" height="7.398" fill="#6e9cca" stroke="#9a9a9a" stroke-width="0.5"/>
<rect x="74.10" y="337.72" width="3.2" height="7.398" fill="#accde3" stroke="#9a9a9a" stroke-width="0.5"/>
<rect x="77.30" y="337.72" width="3.2" height="7.398" fill="#accde3" stroke="#9a9a9a" stroke-width="0.5"/>
<rect x="80.50" y="337.72" width="3.2" height="7.398" fill="#accde3" stroke="#9a9a9a" stroke-width="0.5"/>
<rect x="83.70" y="337.72" width="3.2" height="7.398" fill="#accde3" stroke="#9a9a9a" stroke-width="0.5"/>
<rect x="90.60" y="337.72" width="3.2" height="7.398" fill="#6e9cca" stroke="#9a9a9a" stroke-width="0.5"/>
<rect x="93.80" y="337.72" width="3.2" height="7.398" fill="#f8f8f8" stroke="#9a9a9a" stroke-width="0.5"/>
<rect x="97.00" y="337.72" width="3.2" height="7.398" fill="#f6ad92" stroke="#9a9a9a" stroke-width="0.5"/>
<rect x="100.20" y="337.72" width="3.2" height="7.398" fill="#dde9f3" stroke="#9a9a9a" stroke-width="0.5"/>
<rect x="103.40" y="337.72" width="3.2" height="7.398" fill="#dde9f3" stroke="#9a9a9a" stroke-width="0.5"/>
<rect x="106.60" y="337.72" width="3.2" height="7.398" fill="#dde9f3" stroke="#9a9a9a" stroke-width="0.5"/>
<rect x="109.80" y="337.72" width="3.2" height="7.398" fill="#accde3" stroke="#9a9a9a" stroke-width="0.5"/>
<rect x="113.00" y="337.72" width="3.2" height="7.398" fill="#dde9f3" stroke="#9a9a9a" stroke-width="0.5"/>
<rect x="120.00" y="337.72" width="3.2" height="7.398" fill="#f8f8f8" stroke="#9a9a9a" stroke-width="0.5"/>
<rect x="123.20" y="337.72" width="3.2" height="7.398" fill="#fcdecd" stroke="#9a9a9a" stroke-width="0.5"/>
<rect x="126.40" y="337.72" width="3.2" height="7.398" fill="#f8f8f8" stroke="#9a9a9a" stroke-width="0.5"/>
<rect x="129.60" y="337.72" width="3.2" height="7.398" fill="#dd7364" stroke="#9a9a9a" stroke-width="0.5"/>
<rect x="132.80" y="337.72" width="3.2" height="7.398" fill="#f6ad92" stroke="#9a9a9a" stroke-width="0.5"/>
<rect x="136.00" y="337.72" width="3.2" height="7.398" fill="#f6ad92" stroke="#9a9a9a" stroke-width="0.5"/>
<rect x="139.20" y="337.72" width="3.2" height="7.398" fill="#b43339" stroke="#9a9a9a" stroke-width="0.5"/>
<rect x="142.40" y="337.72" width="3.2" height="7.398" fill="#f6ad92" stroke="#9a9a9a" stroke-width="0.5"/>
<rect x="145.60" y="337.72" width="3.2" height="7.398" fill="#fcdecd" stroke="#9a9a9a" stroke-width="0.5"/>
<rect x="148.80" y="337.72" width="3.2" height="7.398" fill="#f6ad92" stroke="#9a9a9a" stroke-width="0.5"/>
<rect x="152.00" y="337.72" width="3.2" height="7.398" fill="#fcdecd" stroke="#9a9a9a" stroke-width="0.5"/>
<rect x="155.20" y="337.72" width="3.2" height="7.398" fill="#f8f8f8" stroke="#9a9a9a" stroke-width="0.5"/>
<rect x="60.0" y="337.72" width="8.2" height="7.398" fill="#f5e51d" stroke="#9a9a9a" stroke-width="0.4"/>
<rect x="70.90" y="345.12" width="3.2" height="7.398" fill="#accde3" stroke="#9a9a9a" stroke-width="0.5"/>
<rect x="74.10" y="345.12" width="3.2" height="7.398" fill="#6e9cca" stroke="#9a9a9a" stroke-width="0.5"/>
<rect x="77.30" y="345.12" width="3.2" height="7.398" fill="#accde3" stroke="#9a9a9a" stroke-width="0.5"/>
<rect x="80.50" y="345.12" width="3.2" height="7.398" fill="#6e9cca" stroke="#9a9a9a" stroke-width="0.5"/>
<rect x="83.70" y="345.12" width="3.2" height="7.398" fill="#accde3" stroke="#9a9a9a" stroke-width="0.5"/>
<rect x="90.60" y="345.12" width="3.2" height="7.398" fill="#6e9cca" stroke="#9a9a9a" stroke-width="0.5"/>
<rect x="93.80" y="345.12" width="3.2" height="7.398" fill="#f8f8f8" stroke="#9a9a9a" stroke-width="0.5"/>
<rect x="97.00" y="345.12" width="3.2" height="7.398" fill="#f6ad92" stroke="#9a9a9a" stroke-width="0.5"/>
<rect x="100.20" y="345.12" width="3.2" height="7.398" fill="#dd7364" stroke="#9a9a9a" stroke-width="0.5"/>
<rect x="103.40" y="345.12" width="3.2" height="7.398" fill="#dde9f3" stroke="#9a9a9a" stroke-width="0.5"/>
<rect x="106.60" y="345.12" width="3.2" height="7.398" fill="#dde9f3" stroke="#9a9a9a" stroke-width="0.5"/>
<rect x="109.80" y="345.12" width="3.2" height="7.398" fill="#dde9f3" stroke="#9a9a9a" stroke-width="0.5"/>
<rect x="113.00" y="345.12" width="3.2" height="7.398" fill="#fcdecd" stroke="#9a9a9a" stroke-width="0.5"/>
<rect x="120.00" y="345.12" width="3.2" height="7.398" fill="#f8f8f8" stroke="#9a9a9a" stroke-width="0.5"/>
<rect x="123.20" y="345.12" width="3.2" height="7.398" fill="#fcdecd" stroke="#9a9a9a" stroke-width="0.5"/>
<rect x="126.40" y="345.12" width="3.2" height="7.398" fill="#f8f8f8" stroke="#9a9a9a" stroke-width="0.5"/>
<rect x="129.60" y="345.12" width="3.2" height="7.398" fill="#dd7364" stroke="#9a9a9a" stroke-width="0.5"/>
<rect x="132.80" y="345.12" width="3.2" height="7.398" fill="#f6ad92" stroke="#9a9a9a" stroke-width="0.5"/>
<rect x="136.00" y="345.12" width="3.2" height="7.398" fill="#f6ad92" stroke="#9a9a9a" stroke-width="0.5"/>
<rect x="139.20" y="345.12" width="3.2" height="7.398" fill="#f6ad92" stroke="#9a9a9a" stroke-width="0.5"/>
<rect x="142.40" y="345.12" width="3.2" height="7.398" fill="#f8f8f8" stroke="#9a9a9a" stroke-width="0.5"/>
<rect x="145.60" y="345.12" width="3.2" height="7.398" fill="#f6ad92" stroke="#9a9a9a" stroke-width="0.5"/>
<rect x="148.80" y="345.12" width="3.2" height="7.398" fill="#fcdecd" stroke="#9a9a9a" stroke-width="0.5"/>
<rect x="152.00" y="345.12" width="3.2" height="7.398" fill="#f8f8f8" stroke="#9a9a9a" stroke-width="0.5"/>
<rect x="155.20" y="345.12" width="3.2" height="7.398" fill="#f8f8f8" stroke="#9a9a9a" stroke-width="0.5"/>
<rect x="60.0" y="345.12" width="8.2" height="7.398" fill="#f7b6cf" stroke="#9a9a9a" stroke-width="0.4"/>
<rect x="70.90" y="352.52" width="3.2" height="7.398" fill="#dde9f3" stroke="#9a9a9a" stroke-width="0.5"/>
<rect x="74.10" y="352.52" width="3.2" height="7.398" fill="#accde3" stroke="#9a9a9a" stroke-width="0.5"/>
<rect x="77.30" y="352.52" width="3.2" height="7.398" fill="#6e9cca" stroke="#9a9a9a" stroke-width="0.5"/>
<rect x="80.50" y="352.52" width="3.2" height="7.398" fill="#accde3" stroke="#9a9a9a" stroke-width="0.5"/>
<rect x="83.70" y="352.52" width="3.2" height="7.398" fill="#accde3" stroke="#9a9a9a" stroke-width="0.5"/>
<rect x="90.60" y="352.52" width="3.2" height="7.398" fill="#6e9cca" stroke="#9a9a9a" stroke-width="0.5"/>
<rect x="93.80" y="352.52" width="3.2" height="7.398" fill="#dd7364" stroke="#9a9a9a" stroke-width="0.5"/>
<rect x="97.00" y="352.52" width="3.2" height="7.398" fill="#dd7364" stroke="#9a9a9a" stroke-width="0.5"/>
<rect x="100.20" y="352.52" width="3.2" height="7.398" fill="#dde9f3" stroke="#9a9a9a" stroke-width="0.5"/>
<rect x="103.40" y="352.52" width="3.2" height="7.398" fill="#dde9f3" stroke="#9a9a9a" stroke-width="0.5"/>
<rect x="106.60" y="352.52" width="3.2" height="7.398" fill="#accde3" stroke="#9a9a9a" stroke-width="0.5"/>
<rect x="109.80" y="352.52" width="3.2" height="7.398" fill="#accde3" stroke="#9a9a9a" stroke-width="0.5"/>
<rect x="113.00" y="352.52" width="3.2" height="7.398" fill="#dde9f3" stroke="#9a9a9a" stroke-width="0.5"/>
<rect x="120.00" y="352.52" width="3.2" height="7.398" fill="#dde9f3" stroke="#9a9a9a" stroke-width="0.5"/>
<rect x="123.20" y="352.52" width="3.2" height="7.398" fill="#fcdecd" stroke="#9a9a9a" stroke-width="0.5"/>
<rect x="126.40" y="352.52" width="3.2" height="7.398" fill="#f6ad92" stroke="#9a9a9a" stroke-width="0.5"/>
<rect x="129.60" y="352.52" width="3.2" height="7.398" fill="#f6ad92" stroke="#9a9a9a" stroke-width="0.5"/>
<rect x="132.80" y="352.52" width="3.2" height="7.398" fill="#f6ad92" stroke="#9a9a9a" stroke-width="0.5"/>
<rect x="136.00" y="352.52" width="3.2" height="7.398" fill="#fcdecd" stroke="#9a9a9a" stroke-width="0.5"/>
<rect x="139.20" y="352.52" width="3.2" height="7.398" fill="#dd7364" stroke="#9a9a9a" stroke-width="0.5"/>
<rect x="142.40" y="352.52" width="3.2" height="7.398" fill="#dd7364" stroke="#9a9a9a" stroke-width="0.5"/>
<rect x="145.60" y="352.52" width="3.2" height="7.398" fill="#f6ad92" stroke="#9a9a9a" stroke-width="0.5"/>
<rect x="148.80" y="352.52" width="3.2" height="7.398" fill="#dd7364" stroke="#9a9a9a" stroke-width="0.5"/>
<rect x="152.00" y="352.52" width="3.2" height="7.398" fill="#fcdecd" stroke="#9a9a9a" stroke-width="0.5"/>
<rect x="155.20" y="352.52" width="3.2" height="7.398" fill="#dde9f3" stroke="#9a9a9a" stroke-width="0.5"/>
<rect x="60.0" y="352.52" width="8.2" height="7.398" fill="#f5e51d" stroke="#9a9a9a" stroke-width="0.4"/>
<rect x="70.90" y="359.91" width="3.2" height="7.398" fill="#6e9cca" stroke="#9a9a9a" stroke-width="0.5"/>
<rect x="74.10" y="359.91" width="3.2" height="7.398" fill="#4464ab" stroke="#9a9a9a" stroke-width="0.5"/>
<rect x="77.30" y="359.91" width="3.2" height="7.398" fill="#4464ab" stroke="#9a9a9a" stroke-width="0.5"/>
<rect x="80.50" y="359.91" width="3.2" height="7.398" fill="#f8f8f8" stroke="#9a9a9a" stroke-width="0.5"/>
<rect x="83.70" y="359.91" width="3.2" height="7.398" fill="#accde3" stroke="#9a9a9a" stroke-width="0.5"/>
<rect x="90.60" y="359.91" width="3.2" height="7.398" fill="#dde9f3" stroke="#9a9a9a" stroke-width="0.5"/>
<rect x="93.80" y="359.91" width="3.2" height="7.398" fill="#fcdecd" stroke="#9a9a9a" stroke-width="0.5"/>
<rect x="97.00" y="359.91" width="3.2" height="7.398" fill="#dd7364" stroke="#9a9a9a" stroke-width="0.5"/>
<rect x="100.20" y="359.91" width="3.2" height="7.398" fill="#dde9f3" stroke="#9a9a9a" stroke-width="0.5"/>
<rect x="103.40" y="359.91" width="3.2" height="7.398" fill="#f8f8f8" stroke="#9a9a9a" stroke-width="0.5"/>
<rect x="106.60" y="359.91" width="3.2" height="7.398" fill="#f6ad92" stroke="#9a9a9a" stroke-width="0.5"/>
<rect x="109.80" y="359.91" width="3.2" height="7.398" fill="#fcdecd" stroke="#9a9a9a" stroke-width="0.5"/>
<rect x="113.00" y="359.91" width="3.2" height="7.398" fill="#dde9f3" stroke="#9a9a9a" stroke-width="0.5"/>
<rect x="120.00" y="359.91" width="3.2" height="7.398" fill="#dde9f3" stroke="#9a9a9a" stroke-width="0.5"/>
<rect x="123.20" y="359.91" width="3.2" height="7.398" fill="#fcdecd" stroke="#9a9a9a" stroke-width="0.5"/>
<rect x="126.40" y="359.91" width="3.2" height="7.398" fill="#f8f8f8" stroke="#9a9a9a" stroke-width="0.5"/>
<rect x="129.60" y="359.91" width="3.2" height="7.398" fill="#f6ad92" stroke="#9a9a9a" stroke-width="0.5"/>
<rect x="132.80" y="359.91" width="3.2" height="7.398" fill="#f6ad92" stroke="#9a9a9a" stroke-width="0.5"/>
<rect x="136.00" y="359.91" width="3.2" height="7.398" fill="#f6ad92" stroke="#9a9a9a" stroke-width="0.5"/>
<rect x="139.20" y="359.91" width="3.2" height="7.398" fill="#f6ad92" stroke="#9a9a9a" stroke-width="0.5"/>
<rect x="142.40" y="359.91" width="3.2" height="7.398" fill="#dde9f3" stroke="#9a9a9a" stroke-width="0.5"/>
<rect x="145.60" y="359.91" width="3.2" height="7.398" fill="#f6ad92" stroke="#9a9a9a" stroke-width="0.5"/>
<rect x="148.80" y="359.91" width="3.2" height="7.398" fill="#fcdecd" stroke="#9a9a9a" stroke-width="0.5"/>
<rect x="152.00" y="359.91" width="3.2" height="7.398" fill="#accde3" stroke="#9a9a9a" stroke-width="0.5"/>
<rect x="155.20" y="359.91" width="3.2" height="7.398" fill="#dd7364" stroke="#9a9a9a" stroke-width="0.5"/>
<rect x="60.0" y="359.91" width="8.2" height="7.398" fill="#8c1c1c" stroke="#9a9a9a" stroke-width="0.4"/>
<rect x="70.90" y="367.31" width="3.2" height="7.398" fill="#6e9cca" stroke="#9a9a9a" stroke-width="0.5"/>
<rect x="74.10" y="367.31" width="3.2" height="7.398" fill="#6e9cca" stroke="#9a9a9a" stroke-width="0.5"/>
<rect x="77.30" y="367.31" width="3.2" height="7.398" fill="#4464ab" stroke="#9a9a9a" stroke-width="0.5"/>
<rect x="80.50" y="367.31" width="3.2" height="7.398" fill="#dde9f3" stroke="#9a9a9a" stroke-width="0.5"/>
<rect x="83.70" y="367.31" width="3.2" height="7.398" fill="#accde3" stroke="#9a9a9a" stroke-width="0.5"/>
<rect x="90.60" y="367.31" width="3.2" height="7.398" fill="#accde3" stroke="#9a9a9a" stroke-width="0.5"/>
<rect x="93.80" y="367.31" width="3.2" height="7.398" fill="#fcdecd" stroke="#9a9a9a" stroke-width="0.5"/>
<rect x="97.00" y="367.31" width="3.2" height="7.398" fill="#dd7364" stroke="#9a9a9a" stroke-width="0.5"/>
<rect x="100.20" y="367.31" width="3.2" height="7.398" fill="#dde9f3" stroke="#9a9a9a" stroke-width="0.5"/>
<rect x="103.40" y="367.31" width="3.2" height="7.398" fill="#f8f8f8" stroke="#9a9a9a" stroke-width="0.5"/>
<rect x="106.60" y="367.31" width="3.2" height="7.398" fill="#fcdecd" stroke="#9a9a9a" stroke-width="0.5"/>
<rect x="109.80" y="367.31" width="3.2" height="7.398" fill="#fcdecd" stroke="#9a9a9a" stroke-width="0.5"/>
<rect x="113.00" y="367.31" width="3.2" height="7.398" fill="#dde9f3" stroke="#9a9a9a" stroke-width="0.5"/>
<rect x="120.00" y="367.31" width="3.2" height="7.398" fill="#accde3" stroke="#9a9a9a" stroke-width="0.5"/>
<rect x="123.20" y="367.31" width="3.2" height="7.398" fill="#fcdecd" stroke="#9a9a9a" stroke-width="0.5"/>
<rect x="126.40" y="367.31" width="3.2" height="7.398" fill="#f8f8f8" stroke="#9a9a9a" stroke-width="0.5"/>
<rect x="129.60" y="367.31" width="3.2" height="7.398" fill="#f6ad92" stroke="#9a9a9a" stroke-width="0.5"/>
<rect x="132.80" y="367.31" width="3.2" height="7.398" fill="#f6ad92" stroke="#9a9a9a" stroke-width="0.5"/>
<rect x="136.00" y="367.31" width="3.2" height="7.398" fill="#f6ad92" stroke="#9a9a9a" stroke-width="0.5"/>
<rect x="139.20" y="367.31" width="3.2" height="7.398" fill="#f6ad92" stroke="#9a9a9a" stroke-width="0.5"/>
<rect x="142.40" y="367.31" width="3.2" height="7.398" fill="#dde9f3" stroke="#9a9a9a" stroke-width="0.5"/>
<rect x="145.60" y="367.31" width="3.2" height="7.398" fill="#f6ad92" stroke="#9a9a9a" stroke-width="0.5"/>
<rect x="148.80" y="367.31" width="3.2" height="7.398" fill="#f6ad92" stroke="#9a9a9a" stroke-width="0.5"/>
<rect x="152.00" y="367.31" width="3.2" height="7.398" fill="#accde3" stroke="#9a9a9a" stroke-width="0.5"/>
<rect x="155.20" y="367.31" width="3.2" height="7.398" fill="#dd7364" stroke="#9a9a9a" stroke-width="0.5"/>
<rect x="60.0" y="367.31" width="8.2" height="7.398" fill="#8c1c1c" stroke="#9a9a9a" stroke-width="0.4"/>
<rect x="70.90" y="374.71" width="3.2" height="7.398" fill="#6e9cca" stroke="#9a9a9a" stroke-width="0.5"/>
<rect x="74.10" y="374.71" width="3.2" height="7.398" fill="#4464ab" stroke="#9a9a9a" stroke-width="0.5"/>
<rect x="77.30" y="374.71" width="3.2" height="7.398" fill="#4464ab" stroke="#9a9a9a" stroke-width="0.5"/>
<rect x="80.50" y="374.71" width="3.2" height="7.398" fill="#dde9f3" stroke="#9a9a9a" stroke-width="0.5"/>
<rect x="83.70" y="374.71" width="3.2" height="7.398" fill="#accde3" stroke="#9a9a9a" stroke-width="0.5"/>
<rect x="90.60" y="374.71" width="3.2" height="7.398" fill="#accde3" stroke="#9a9a9a" stroke-width="0.5"/>
<rect x="93.80" y="374.71" width="3.2" height="7.398" fill="#f6ad92" stroke="#9a9a9a" stroke-width="0.5"/>
<rect x="97.00" y="374.71" width="3.2" height="7.398" fill="#dd7364" stroke="#9a9a9a" stroke-width="0.5"/>
<rect x="100.20" y="374.71" width="3.2" height="7.398" fill="#dde9f3" stroke="#9a9a9a" stroke-width="0.5"/>
<rect x="103.40" y="374.71" width="3.2" height="7.398" fill="#f8f8f8" stroke="#9a9a9a" stroke-width="0.5"/>
<rect x="106.60" y="374.71" width="3.2" height="7.398" fill="#f6ad92" stroke="#9a9a9a" stroke-width="0.5"/>
<rect x="109.80" y="374.71" width="3.2" height="7.398" fill="#fcdecd" stroke="#9a9a9a" stroke-width="0.5"/>
<rect x="113.00" y="374.71" width="3.2" height="7.398" fill="#dde9f3" stroke="#9a9a9a" stroke-width="0.5"/>
<rect x="120.00" y="374.71" width="3.2" height="7.398" fill="#accde3" stroke="#9a9a9a" stroke-width="0.5"/>
<rect x="123.20" y="374.71" width="3.2" height="7.398" fill="#fcdecd" stroke="#9a9a9a" stroke-width="0.5"/>
<rect x="126.40" y="374.71" width="3.2" height="7.398" fill="#f8f8f8" stroke="#9a9a9a" stroke-width="0.5"/>
<rect x="129.60" y="374.71" width="3.2" height="7.398" fill="#f6ad92" stroke="#9a9a9a" stroke-width="0.5"/>
<rect x="132.80" y="374.71" width="3.2" height="7.398" fill="#f6ad92" stroke="#9a9a9a" stroke-width="0.5"/>
<rect x="136.00" y="374.71" width="3.2" height="7.398" fill="#fcdecd" stroke="#9a9a9a" stroke-width="0.5"/>
<rect x="139.20" y="374.71" width="3.2" height="7.398" fill="#f6ad92" stroke="#9a9a9a" stroke-width="0.5"/>
<rect x="142.40" y="374.71" width="3.2" height="7.398" fill="#f8f8f8" stroke="#9a9a9a" stroke-width="0.5"/>
<rect x="145.60" y="374.71" width="3.2" height="7.398" fill="#f6ad92" stroke="#9a9a9a" stroke-width="0.5"/>
<rect x="148.80" y="374.71" width="3.2" height="7.398" fill="#f8f8f8" stroke="#9a9a9a" stroke-width="0.5"/>
<rect x="152.00" y="374.71" width="3.2" height="7.398" fill="#fcdecd" stroke="#9a9a9a" stroke-width="0.5"/>
<rect x="155.20" y="374.71" width="3.2" height="7.398" fill="#dd7364" stroke="#9a9a9a" stroke-width="0.5"/>
<rect x="60.0" y="374.71" width="8.2" height="7.398" fill="#8c1c1c" stroke="#9a9a9a" stroke-width="0.4"/>
<rect x="70.90" y="382.11" width="3.2" height="7.398" fill="#6e9cca" stroke="#9a9a9a" stroke-width="0.5"/>
<rect x="74.10" y="382.11" width="3.2" height="7.398" fill="#4464ab" stroke="#9a9a9a" stroke-width="0.5"/>
<rect x="77.30" y="382.11" width="3.2" height="7.398" fill="#accde3" stroke="#9a9a9a" stroke-width="0.5"/>
<rect x="80.50" y="382.11" width="3.2" height="7.398" fill="#6e9cca" stroke="#9a9a9a" stroke-width="0.5"/>
<rect x="83.70" y="382.11" width="3.2" height="7.398" fill="#6e9cca" stroke="#9a9a9a" stroke-width="0.5"/>
<rect x="90.60" y="382.11" width="3.2" height="7.398" fill="#accde3" stroke="#9a9a9a" stroke-width="0.5"/>
<rect x="93.80" y="382.11" width="3.2" height="7.398" fill="#f8f8f8" stroke="#9a9a9a" stroke-width="0.5"/>
<rect x="97.00" y="382.11" width="3.2" height="7.398" fill="#dde9f3" stroke="#9a9a9a" stroke-width="0.5"/>
<rect x="100.20" y="382.11" width="3.2" height="7.398" fill="#fcdecd" stroke="#9a9a9a" stroke-width="0.5"/>
<rect x="103.40" y="382.11" width="3.2" height="7.398" fill="#fcdecd" stroke="#9a9a9a" stroke-width="0.5"/>
<rect x="106.60" y="382.11" width="3.2" height="7.398" fill="#fcdecd" stroke="#9a9a9a" stroke-width="0.5"/>
<rect x="109.80" y="382.11" width="3.2" height="7.398" fill="#dde9f3" stroke="#9a9a9a" stroke-width="0.5"/>
<rect x="113.00" y="382.11" width="3.2" height="7.398" fill="#dde9f3" stroke="#9a9a9a" stroke-width="0.5"/>
<rect x="120.00" y="382.11" width="3.2" height="7.398" fill="#f6ad92" stroke="#9a9a9a" stroke-width="0.5"/>
<rect x="123.20" y="382.11" width="3.2" height="7.398" fill="#f6ad92" stroke="#9a9a9a" stroke-width="0.5"/>
<rect x="126.40" y="382.11" width="3.2" height="7.398" fill="#fcdecd" stroke="#9a9a9a" stroke-width="0.5"/>
<rect x="129.60" y="382.11" width="3.2" height="7.398" fill="#f6ad92" stroke="#9a9a9a" stroke-width="0.5"/>
<rect x="132.80" y="382.11" width="3.2" height="7.398" fill="#f6ad92" stroke="#9a9a9a" stroke-width="0.5"/>
<rect x="136.00" y="382.11" width="3.2" height="7.398" fill="#fcdecd" stroke="#9a9a9a" stroke-width="0.5"/>
<rect x="139.20" y="382.11" width="3.2" height="7.398" fill="#f6ad92" stroke="#9a9a9a" stroke-width="0.5"/>
<rect x="142.40" y="382.11" width="3.2" height="7.398" fill="#fcdecd" stroke="#9a9a9a" stroke-width="0.5"/>
<rect x="145.60" y="382.11" width="3.2" height="7.398" fill="#f6ad92" stroke="#9a9a9a" stroke-width="0.5"/>
<rect x="148.80" y="382.11" width="3.2" height="7.398" fill="#f6ad92" stroke="#9a9a9a" stroke-width="0.5"/>
<rect x="152.00" y="382.11" width="3.2" height="7.398" fill="#fcdecd" stroke="#9a9a9a" stroke-width="0.5"/>
<rect x="155.20" y="382.11" width="3.2" height="7.398" fill="#f8f8f8" stroke="#9a9a9a" stroke-width="0.5"/>
<rect x="60.0" y="382.11" width="8.2" height="7.398" fill="#c9b9b4" stroke="#9a9a9a" stroke-width="0.4"/>
<rect x="70.90" y="389.51" width="3.2" height="7.398" fill="#4464ab" stroke="#9a9a9a" stroke-width="0.5"/>
<rect x="74.10" y="389.51" width="3.2" height="7.398" fill="#4464ab" stroke="#9a9a9a" stroke-width="0.5"/>
<rect x="77.30" y="389.51" width="3.2" height="7.398" fill="#4464ab" stroke="#9a9a9a" stroke-width="0.5"/>
<rect x="80.50" y="389.51" width="3.2" height="7.398" fill="#f8f8f8" stroke="#9a9a9a" stroke-width="0.5"/>
<rect x="83.70" y="389.51" width="3.2" height="7.398" fill="#4464ab" stroke="#9a9a9a" stroke-width="0.5"/>
<rect x="90.60" y="389.51" width="3.2" height="7.398" fill="#dde9f3" stroke="#9a9a9a" stroke-width="0.5"/>
<rect x="93.80" y="389.51" width="3.2" height="7.398" fill="#f8f8f8" stroke="#9a9a9a" stroke-width="0.5"/>
<rect x="97.00" y="389.51" width="3.2" height="7.398" fill="#fcdecd" stroke="#9a9a9a" stroke-width="0.5"/>
<rect x="100.20" y="389.51" width="3.2" height="7.398" fill="#fcdecd" stroke="#9a9a9a" stroke-width="0.5"/>
<rect x="103.40" y="389.51" width="3.2" height="7.398" fill="#fcdecd" stroke="#9a9a9a" stroke-width="0.5"/>
<rect x="106.60" y="389.51" width="3.2" height="7.398" fill="#dde9f3" stroke="#9a9a9a" stroke-width="0.5"/>
<rect x="109.80" y="389.51" width="3.2" height="7.398" fill="#dde9f3" stroke="#9a9a9a" stroke-width="0.5"/>
<rect x="113.00" y="389.51" width="3.2" height="7.398" fill="#dde9f3" stroke="#9a9a9a" stroke-width="0.5"/>
<rect x="120.00" y="389.51" width="3.2" height="7.398" fill="#f8f8f8" stroke="#9a9a9a" stroke-width="0.5"/>
<rect x="123.20" y="389.51" width="3.2" height="7.398" fill="#f6ad92" stroke="#9a9a9a" stroke-width="0.5"/>
<rect x="126.40" y="389.51" width="3.2" height="7.398" fill="#f8f8f8" stroke="#9a9a9a" stroke-width="0.5"/>
<rect x="129.60" y="389.51" width="3.2" height="7.398" fill="#f6ad92" stroke="#9a9a9a" stroke-width="0.5"/>
<rect x="132.80" y="389.51" width="3.2" height="7.398" fill="#f6ad92" stroke="#9a9a9a" stroke-width="0.5"/>
<rect x="136.00" y="389.51" width="3.2" height="7.398" fill="#fcdecd" stroke="#9a9a9a" stroke-width="0.5"/>
<rect x="139.20" y="389.51" width="3.2" height="7.398" fill="#f6ad92" stroke="#9a9a9a" stroke-width="0.5"/>
<rect x="142.40" y="389.51" width="3.2" height="7.398" fill="#fcdecd" stroke="#9a9a9a" stroke-width="0.5"/>
<rect x="145.60" y="389.51" width="3.2" height="7.398" fill="#f6ad92" stroke="#9a9a9a" stroke-width="0.5"/>
<rect x="148.80" y="389.51" width="3.2" height="7.398" fill="#f6ad92" stroke="#9a9a9a" stroke-width="0.5"/>
<rect x="152.00" y="389.51" width="3.2" height="7.398" fill="#fcdecd" stroke="#9a9a9a" stroke-width="0.5"/>
<rect x="155.20" y="389.51" width="3.2" height="7.398" fill="#f6ad92" stroke="#9a9a9a" stroke-width="0.5"/>
<rect x="60.0" y="389.51" width="8.2" height="7.398" fill="#141414" stroke="#9a9a9a" stroke-width="0.4"/>
<rect x="70.90" y="396.90" width="3.2" height="7.398" fill="#6e9cca" stroke="#9a9a9a" stroke-width="0.5"/>
<rect x="74.10" y="396.90" width="3.2" height="7.398" fill="#6e9cca" stroke="#9a9a9a" stroke-width="0.5"/>
<rect x="77.30" y="396.90" width="3.2" height="7.398" fill="#accde3" stroke="#9a9a9a" stroke-width="0.5"/>
<rect x="80.50" y="396.90" width="3.2" height="7.398" fill="#4464ab" stroke="#9a9a9a" stroke-width="0.5"/>
<rect x="83.70" y="396.90" width="3.2" height="7.398" fill="#6e9cca" stroke="#9a9a9a" stroke-width="0.5"/>
<rect x="90.60" y="396.90" width="3.2" height="7.398" fill="#dde9f3" stroke="#9a9a9a" stroke-width="0.5"/>
<rect x="93.80" y="396.90" width="3.2" height="7.398" fill="#f8f8f8" stroke="#9a9a9a" stroke-width="0.5"/>
<rect x="97.00" y="396.90" width="3.2" height="7.398" fill="#fcdecd" stroke="#9a9a9a" stroke-width="0.5"/>
<rect x="100.20" y="396.90" width="3.2" height="7.398" fill="#fcdecd" stroke="#9a9a9a" stroke-width="0.5"/>
<rect x="103.40" y="396.90" width="3.2" height="7.398" fill="#f6ad92" stroke="#9a9a9a" stroke-width="0.5"/>
<rect x="106.60" y="396.90" width="3.2" height="7.398" fill="#f8f8f8" stroke="#9a9a9a" stroke-width="0.5"/>
<rect x="109.80" y="396.90" width="3.2" height="7.398" fill="#fcdecd" stroke="#9a9a9a" stroke-width="0.5"/>
<rect x="113.00" y="396.90" width="3.2" height="7.398" fill="#fcdecd" stroke="#9a9a9a" stroke-width="0.5"/>
<rect x="120.00" y="396.90" width="3.2" height="7.398" fill="#fcdecd" stroke="#9a9a9a" stroke-width="0.5"/>
<rect x="123.20" y="396.90" width="3.2" height="7.398" fill="#f6ad92" stroke="#9a9a9a" stroke-width="0.5"/>
<rect x="126.40" y="396.90" width="3.2" height="7.398" fill="#fcdecd" stroke="#9a9a9a" stroke-width="0.5"/>
<rect x="129.60" y="396.90" width="3.2" height="7.398" fill="#f6ad92" stroke="#9a9a9a" stroke-width="0.5"/>
<rect x="132.80" y="396.90" width="3.2" height="7.398" fill="#f6ad92" stroke="#9a9a9a" stroke-width="0.5"/>
<rect x="136.00" y="396.90" width="3.2" height="7.398" fill="#f6ad92" stroke="#9a9a9a" stroke-width="0.5"/>
<rect x="139.20" y="396.90" width="3.2" height="7.398" fill="#f6ad92" stroke="#9a9a9a" stroke-width="0.5"/>
<rect x="142.40" y="396.90" width="3.2" height="7.398" fill="#fcdecd" stroke="#9a9a9a" stroke-width="0.5"/>
<rect x="145.60" y="396.90" width="3.2" height="7.398" fill="#f6ad92" stroke="#9a9a9a" stroke-width="0.5"/>
<rect x="148.80" y="396.90" width="3.2" height="7.398" fill="#f6ad92" stroke="#9a9a9a" stroke-width="0.5"/>
<rect x="152.00" y="396.90" width="3.2" height="7.398" fill="#6e9cca" stroke="#9a9a9a" stroke-width="0.5"/>
<rect x="155.20" y="396.90" width="3.2" height="7.398" fill="#dde9f3" stroke="#9a9a9a" stroke-width="0.5"/>
<rect x="60.0" y="396.90" width="8.2" height="7.398" fill="#8c1c1c" stroke="#9a9a9a" stroke-width="0.4"/>
<rect x="70.90" y="404.30" width="3.2" height="7.398" fill="#6e9cca" stroke="#9a9a9a" stroke-width="0.5"/>
<rect x="74.10" y="404.30" width="3.2" height="7.398" fill="#f8f8f8" stroke="#9a9a9a" stroke-width="0.5"/>
<rect x="77.30" y="404.30" width="3.2" height="7.398" fill="#6e9cca" stroke="#9a9a9a" stroke-width="0.5"/>
<rect x="80.50" y="404.30" width="3.2" height="7.398" fill="#6e9cca" stroke="#9a9a9a" stroke-width="0.5"/>
<rect x="83.70" y="404.30" width="3.2" height="7.398" fill="#6e9cca" stroke="#9a9a9a" stroke-width="0.5"/>
<rect x="90.60" y="404.30" width="3.2" height="7.398" fill="#dde9f3" stroke="#9a9a9a" stroke-width="0.5"/>
<rect x="93.80" y="404.30" width="3.2" height="7.398" fill="#fcdecd" stroke="#9a9a9a" stroke-width="0.5"/>
<rect x="97.00" y="404.30" width="3.2" height="7.398" fill="#fcdecd" stroke="#9a9a9a" stroke-width="0.5"/>
<rect x="100.20" y="404.30" width="3.2" height="7.398" fill="#f6ad92" stroke="#9a9a9a" stroke-width="0.5"/>
<rect x="103.40" y="404.30" width="3.2" height="7.398" fill="#fcdecd" stroke="#9a9a9a" stroke-width="0.5"/>
<rect x="106.60" y="404.30" width="3.2" height="7.398" fill="#dde9f3" stroke="#9a9a9a" stroke-width="0.5"/>
<rect x="109.80" y="404.30" width="3.2" height="7.398" fill="#fcdecd" stroke="#9a9a9a" stroke-width="0.5"/>
<rect x="113.00" y="404.30" width="3.2" height="7.398" fill="#fcdecd" stroke="#9a9a9a" stroke-width="0.5"/>
<rect x="120.00" y="404.30" width="3.2" height="7.398" fill="#f6ad92" stroke="#9a9a9a" stroke-width="0.5"/>
<rect x="123.20" y="404.30" width="3.2" height="7.398" fill="#f6ad92" stroke="#9a9a9a" stroke-width="0.5"/>
<rect x="126.40" y="404.30" width="3.2" height="7.398" fill="#fcdecd" stroke="#9a9a9a" stroke-width="0.5"/>
<rect x="129.60" y="404.30" width="3.2" height="7.398" fill="#f6ad92" stroke="#9a9a9a" stroke-width="0.5"/>
<rect x="132.80" y="404.30" width="3.2" height="7.398" fill="#f6ad92" stroke="#9a9a9a" stroke-width="0.5"/>
<rect x="136.00" y="404.30" width="3.2" height="7.398" fill="#f6ad92" stroke="#9a9a9a" stroke-width="0.5"/>
<rect x="139.20" y="404.30" width="3.2" height="7.398" fill="#f6ad92" stroke="#9a9a9a" stroke-width="0.5"/>
<rect x="142.40" y="404.30" width="3.2" height="7.398" fill="#fcdecd" stroke="#9a9a9a" stroke-width="0.5"/>
<rect x="145.60" y="404.30" width="3.2" height="7.398" fill="#f6ad92" stroke="#9a9a9a" stroke-width="0.5"/>
<rect x="148.80" y="404.30" width="3.2" height="7.398" fill="#f6ad92" stroke="#9a9a9a" stroke-width="0.5"/>
<rect x="152.00" y="404.30" width="3.2" height="7.398" fill="#6e9cca" stroke="#9a9a9a" stroke-width="0.5"/>
<rect x="155.20" y="404.30" width="3.2" height="7.398" fill="#f6ad92" stroke="#9a9a9a" stroke-width="0.5"/>
<rect x="60.0" y="404.30" width="8.2" height="7.398" fill="#f5e51d" stroke="#9a9a9a" stroke-width="0.4"/>
<path d="M59.50,45.50H39.60V52.90H59.50M59.50,60.29H41.90V67.69H59.50M59.50,75.09H42.60V82.49H59.50M59.50,89.89H42.60V97.28H59.50M59.50,104.68H39.60V112.08H59.50M42.60,93.59H35.70V108.38H39.60M42.60,78.79H33.80V100.98H35.70M41.90,63.99H32.70V89.89H33.80M39.60,49.20H28.40V76.94H32.70M59.50,141.67H46.60V149.07H59.50M59.50,134.27H42.60V145.37H46.60M59.50,126.88H40.50V139.82H42.60M59.50,119.48H36.10V133.35H40.50M59.50,156.47H40.50V163.87H59.50M59.50,178.66H45.10V186.06H59.50M59.50,171.26H36.10V182.36H45.10M40.50,160.17H32.30V176.81H36.10M59.50,215.65H53.30V223.05H59.50M59.50,208.25H52.60V219.35H53.30M59.50,200.86H43.00V213.80H52.60M59.50,193.46H37.70V207.33H43.00M59.50,230.45H35.70V237.85H59.50M59.50,245.25H52.80V252.64H59.50M59.50,267.44H51.50V274.84H59.50M59.50,260.04H46.00V271.14H51.50M52.80,248.94H44.50V265.59H46.00M59.50,289.63H51.50V297.03H59.50M59.50,319.23H56.00V326.62H59.50M59.50,311.83H52.50V322.92H56.00M59.50,304.43H49.00V317.38H52.50M51.50,293.33H47.50V310.90H49.00M59.50,334.02H46.90V341.42H59.50M47.50,302.12H42.30V337.72H46.90M59.50,282.24H40.50V319.92H42.30M44.50,257.27H37.30V301.08H40.50M59.50,348.82H42.30V356.21H59.50M59.50,371.01H54.20V378.41H59.50M59.50,363.61H51.40V374.71H54.20M59.50,385.81H47.80V393.20H59.50M59.50,400.60H46.00V408.00H59.50M47.80,389.51H42.30V404.30H46.00M51.40,369.16H39.60V396.90H42.30M42.30,352.52H36.90V383.03H39.60M37.30,279.17H34.40V367.77H36.90M35.70,234.15H31.50V323.47H34.40M37.70,200.39H30.00V278.81H31.50M32.30,168.49H22.80V239.60H30.00M36.10,126.41H16.00V204.05H22.80M28.40,63.07H14.10V165.23H16.00" fill="none" stroke="#383838" stroke-width="0.8"/>
<text x="161.1" y="48.90" font-size="8.4" fill="#111" stroke="#111" stroke-width="0.15">ACOT8</text>
<text x="161.1" y="56.30" font-size="8.4" fill="#111" stroke="#111" stroke-width="0.15">SLC22A8</text>
<text x="161.1" y="63.69" font-size="8.4" fill="#111" stroke="#111" stroke-width="0.15">MLYCD</text>
<text x="161.1" y="71.09" font-size="8.4" fill="#111" stroke="#111" stroke-width="0.15">COX7C</text>
<text x="161.1" y="78.49" font-size="8.4" fill="#111" stroke="#111" stroke-width="0.15">CROT</text>
<text x="161.1" y="85.89" font-size="8.4" fill="#111" stroke="#111" stroke-width="0.15">EHHADH</text>
<text x="161.1" y="93.29" font-size="8.4" fill="#111" stroke="#111" stroke-width="0.15">NEDD4L</text>
<text x="161.1" y="100.69" font-size="8.4" fill="#111" stroke="#111" stroke-width="0.15">ATAD1</text>
<text x="161.1" y="108.08" font-size="8.4" fill="#111" stroke="#111" stroke-width="0.15">CYP4A12A</text>
<text x="161.1" y="115.48" font-size="8.4" fill="#111" stroke="#111" stroke-width="0.15">ECSIT</text>
<text x="161.1" y="122.88" font-size="8.4" fill="#111" stroke="#111" stroke-width="0.15">SPTA1</text>
<text x="161.1" y="130.28" font-size="8.4" fill="#111" stroke="#111" stroke-width="0.15">CES1C</text>
<text x="161.1" y="137.67" font-size="8.4" fill="#111" stroke="#111" stroke-width="0.15">PZP</text>
<text x="161.1" y="145.07" font-size="8.4" fill="#111" stroke="#111" stroke-width="0.15">TTR</text>
<text x="161.1" y="152.47" font-size="8.4" fill="#111" stroke="#111" stroke-width="0.15">ALB</text>
<text x="161.1" y="159.87" font-size="8.4" fill="#111" stroke="#111" stroke-width="0.15">AMBP</text>
<text x="161.1" y="167.27" font-size="8.4" fill="#111" stroke="#111" stroke-width="0.15">APOA4</text>
<text x="161.1" y="174.66" font-size="8.4" fill="#111" stroke="#111" stroke-width="0.15">ICAM1</text>
<text x="161.1" y="182.06" font-size="8.4" fill="#111" stroke="#111" stroke-width="0.15">TOR1AIP1</text>
<text x="161.1" y="189.46" font-size="8.4" fill="#111" stroke="#111" stroke-width="0.15">MATN2</text>
<text x="161.1" y="196.86" font-size="8.4" fill="#111" stroke="#111" stroke-width="0.15">PKLR</text>
<text x="161.1" y="204.26" font-size="8.4" fill="#111" stroke="#111" stroke-width="0.15">H1.3</text>
<text x="161.1" y="211.66" font-size="8.4" fill="#111" stroke="#111" stroke-width="0.15">H1.2</text>
<text x="161.1" y="219.05" font-size="8.4" fill="#111" stroke="#111" stroke-width="0.15">H1.4</text>
<text x="161.1" y="226.45" font-size="8.4" fill="#111" stroke="#111" stroke-width="0.15">H1.5</text>
<text x="161.1" y="233.85" font-size="8.4" fill="#111" stroke="#111" stroke-width="0.15">TUBA1A</text>
<text x="161.1" y="241.25" font-size="8.4" fill="#111" stroke="#111" stroke-width="0.15">B2M</text>
<text x="161.1" y="248.65" font-size="8.4" fill="#111" stroke="#111" stroke-width="0.15">KRT19</text>
<text x="161.1" y="256.04" font-size="8.4" fill="#111" stroke="#111" stroke-width="0.15">KRT8</text>
<text x="161.1" y="263.44" font-size="8.4" fill="#111" stroke="#111" stroke-width="0.15">TNC</text>
<text x="161.1" y="270.84" font-size="8.4" fill="#111" stroke="#111" stroke-width="0.15">COL5A1</text>
<text x="161.1" y="278.24" font-size="8.4" fill="#111" stroke="#111" stroke-width="0.15">FN1</text>
<text x="161.1" y="285.63" font-size="8.4" fill="#111" stroke="#111" stroke-width="0.15">CSRP1</text>
<text x="161.1" y="293.03" font-size="8.4" fill="#111" stroke="#111" stroke-width="0.15">FBN1</text>
<text x="161.1" y="300.43" font-size="8.4" fill="#111" stroke="#111" stroke-width="0.15">COL12A1</text>
<text x="161.1" y="307.83" font-size="8.4" fill="#111" stroke="#111" stroke-width="0.15">COL5A2</text>
<text x="161.1" y="315.23" font-size="8.4" fill="#111" stroke="#111" stroke-width="0.15">COL3A1</text>
<text x="161.1" y="322.62" font-size="8.4" fill="#111" stroke="#111" stroke-width="0.15">COL1A1</text>
<text x="161.1" y="330.02" font-size="8.4" fill="#111" stroke="#111" stroke-width="0.15">COL1A2</text>
<text x="161.1" y="337.42" font-size="8.4" fill="#111" stroke="#111" stroke-width="0.15">NUMA1</text>
<text x="161.1" y="344.82" font-size="8.4" fill="#111" stroke="#111" stroke-width="0.15">TGM2</text>
<text x="161.1" y="352.22" font-size="8.4" fill="#111" stroke="#111" stroke-width="0.15">DLAT</text>
<text x="161.1" y="359.61" font-size="8.4" fill="#111" stroke="#111" stroke-width="0.15">PDCD6IP</text>
<text x="161.1" y="367.01" font-size="8.4" fill="#111" stroke="#111" stroke-width="0.15">FGA</text>
<text x="161.1" y="374.41" font-size="8.4" fill="#111" stroke="#111" stroke-width="0.15">FGB</text>
<text x="161.1" y="381.81" font-size="8.4" fill="#111" stroke="#111" stroke-width="0.15">FGG</text>
<text x="161.1" y="389.21" font-size="8.4" fill="#111" stroke="#111" stroke-width="0.15">UMOD</text>
<text x="161.1" y="396.60" font-size="8.4" fill="#111" stroke="#111" stroke-width="0.15">CP</text>
<text x="161.1" y="404.00" font-size="8.4" fill="#111" stroke="#111" stroke-width="0.15">PLG</text>
<text x="161.1" y="411.40" font-size="8.4" fill="#111" stroke="#111" stroke-width="0.15">ITIH4</text>
<text x="161.30" y="27.90" font-size="8.4" font-weight="bold" fill="#1a1a1a" >Recovery</text>
<text x="161.30" y="38.40" font-size="8.4" font-weight="bold" fill="#1a1a1a" >Group</text>
<rect x="210.3" y="19.90" width="8.5" height="11.7" fill="#691d26"/>
<rect x="210.3" y="31.54" width="8.5" height="11.7" fill="#b0282f"/>
<rect x="210.3" y="43.18" width="8.5" height="11.7" fill="#d8604f"/>
<rect x="210.3" y="54.82" width="8.5" height="11.7" fill="#f5a283"/>
<rect x="210.3" y="66.46" width="8.5" height="11.7" fill="#fcd9c6"/>
<rect x="210.3" y="78.10" width="8.5" height="11.7" fill="#f7f7f7"/>
<rect x="210.3" y="89.74" width="8.5" height="11.7" fill="#d5e6f1"/>
<rect x="210.3" y="101.38" width="8.5" height="11.7" fill="#a1c6df"/>
<rect x="210.3" y="113.02" width="8.5" height="11.7" fill="#5a8fc3"/>
<rect x="210.3" y="124.66" width="8.5" height="11.7" fill="#3a5ca7"/>
<rect x="210.3" y="136.30" width="8.5" height="11.7" fill="#252a57"/>
<text x="222.20" y="43.50" font-size="8.4" fill="#1a1a1a" >2</text>
<text x="222.20" y="65.30" font-size="8.4" fill="#1a1a1a" >1</text>
<text x="222.20" y="87.70" font-size="8.4" fill="#1a1a1a" >0</text>
<text x="222.20" y="109.20" font-size="8.4" fill="#1a1a1a" >-1</text>
<text x="222.20" y="131.50" font-size="8.4" fill="#1a1a1a" >-2</text>
<text x="234.90" y="26.20" font-size="8.6" font-weight="bold" fill="#1a1a1a" >Recovery</text>
<rect x="234.7" y="29.00" width="12.2" height="12.3" fill="#5478b4" stroke="#aaa" stroke-width="0.3"/>
<text x="249.70" y="38.70" font-size="8.55" fill="#1a1a1a" >Sham</text>
<rect x="234.7" y="41.30" width="12.2" height="12.3" fill="#b3a93a" stroke="#aaa" stroke-width="0.3"/>
<text x="249.70" y="51.00" font-size="8.55" fill="#1a1a1a" >Recovered</text>
<rect x="234.7" y="53.60" width="12.2" height="12.3" fill="#b5484c" stroke="#aaa" stroke-width="0.3"/>
<text x="249.70" y="63.30" font-size="8.55" fill="#1a1a1a" >Not Recovered</text>
<text x="234.90" y="81.80" font-size="8.6" font-weight="bold" fill="#1a1a1a" >Group</text>
<rect x="234.7" y="84.20" width="12.2" height="12.3" fill="#e2342c" stroke="#aaa" stroke-width="0.3"/>
<text x="249.70" y="93.90" font-size="8.55" fill="#1a1a1a" >AKI</text>
<rect x="234.7" y="96.50" width="12.2" height="12.3" fill="#4f78b6" stroke="#aaa" stroke-width="0.3"/>
<text x="249.70" y="106.20" font-size="8.55" fill="#1a1a1a" >MSC/HA</text>
<rect x="234.7" y="108.80" width="12.2" height="12.3" fill="#9c48a6" stroke="#aaa" stroke-width="0.3"/>
<text x="249.70" y="118.50" font-size="8.55" fill="#1a1a1a" >MSC/IV</text>
<rect x="234.7" y="121.10" width="12.2" height="12.3" fill="#f07f2a" stroke="#aaa" stroke-width="0.3"/>
<text x="249.70" y="130.80" font-size="8.55" fill="#1a1a1a" >MSC/Media</text>
<rect x="234.7" y="133.40" width="12.2" height="12.3" fill="#4aa844" stroke="#aaa" stroke-width="0.3"/>
<text x="249.70" y="143.10" font-size="8.55" fill="#1a1a1a" >Sham</text>
<text x="234.90" y="160.50" font-size="8.6" font-weight="bold" fill="#1a1a1a" >Category</text>
<rect x="234.7" y="163.80" width="12.2" height="12.3" fill="#9fd68a" stroke="#aaa" stroke-width="0.3"/>
<text x="249.70" y="173.50" font-size="8.55" fill="#1a1a1a" >Fatty acid ox.</text>
<rect x="234.7" y="176.10" width="12.2" height="12.3" fill="#4b4599" stroke="#aaa" stroke-width="0.3"/>
<text x="249.70" y="185.80" font-size="8.55" fill="#1a1a1a" >Cytoskeleton</text>
<rect x="234.7" y="188.40" width="12.2" height="12.3" fill="#141414" stroke="#aaa" stroke-width="0.3"/>
<text x="249.70" y="198.10" font-size="8.55" fill="#1a1a1a" >Detoxification</text>
<rect x="234.7" y="200.70" width="12.2" height="12.3" fill="#f7b6cf" stroke="#aaa" stroke-width="0.3"/>
<text x="249.70" y="210.40" font-size="8.55" fill="#1a1a1a" >Enzyme</text>
<rect x="234.7" y="213.00" width="12.2" height="12.3" fill="#ffffff" stroke="#aaa" stroke-width="0.3"/>
<text x="249.70" y="222.70" font-size="8.55" fill="#1a1a1a" >Plasma protein</text>
<rect x="234.7" y="225.30" width="12.2" height="12.3" fill="#e8362b" stroke="#aaa" stroke-width="0.3"/>
<text x="249.70" y="235.00" font-size="8.55" fill="#1a1a1a" >Histone</text>
<rect x="234.7" y="237.60" width="12.2" height="12.3" fill="#f5e51d" stroke="#aaa" stroke-width="0.3"/>
<text x="249.70" y="247.30" font-size="8.55" fill="#1a1a1a" >ECM</text>
<rect x="234.7" y="249.90" width="12.2" height="12.3" fill="#f39a2c" stroke="#aaa" stroke-width="0.3"/>
<text x="249.70" y="259.60" font-size="8.55" fill="#1a1a1a" >Fibrillar collagen</text>
<rect x="234.7" y="262.20" width="12.2" height="12.3" fill="#c9b9b4" stroke="#aaa" stroke-width="0.3"/>
<text x="249.70" y="271.90" font-size="8.55" fill="#1a1a1a" >Uromodulin</text>
<rect x="234.7" y="274.50" width="12.2" height="12.3" fill="#5ab847" stroke="#aaa" stroke-width="0.3"/>
<text x="249.70" y="284.20" font-size="8.55" fill="#1a1a1a" >Cell adhesion</text>
<rect x="234.7" y="286.80" width="12.2" height="12.3" fill="#3e5b8a" stroke="#aaa" stroke-width="0.3"/>
<text x="249.70" y="296.50" font-size="8.55" fill="#1a1a1a" >Cell signaling</text>
<rect x="234.7" y="299.10" width="12.2" height="12.3" fill="#8c1c1c" stroke="#aaa" stroke-width="0.3"/>
<text x="249.70" y="308.80" font-size="8.55" fill="#1a1a1a" >Clotting</text>
<rect x="234.7" y="311.40" width="12.2" height="12.3" fill="#4cb8ad" stroke="#aaa" stroke-width="0.3"/>
<text x="249.70" y="321.10" font-size="8.55" fill="#1a1a1a" >Proteolysis</text>
<rect x="234.7" y="323.70" width="12.2" height="12.3" fill="#b9e0ea" stroke="#aaa" stroke-width="0.3"/>
<text x="249.70" y="333.40" font-size="8.55" fill="#1a1a1a" >RBC protein</text>
<rect x="234.7" y="336.00" width="12.2" height="12.3" fill="#7d4ea3" stroke="#aaa" stroke-width="0.3"/>
<text x="249.70" y="345.70" font-size="8.55" fill="#1a1a1a" >Translational prot.</text>
<rect x="379.30" y="20.10" width="8.09" height="6.584" fill="#a1c6df" stroke="#9a9a9a" stroke-width="0.5"/>
<rect x="387.39" y="20.10" width="8.09" height="6.584" fill="#fcd9c6" stroke="#9a9a9a" stroke-width="0.5"/>
<rect x="395.48" y="20.10" width="8.09" height="6.584" fill="#fcd9c6" stroke="#9a9a9a" stroke-width="0.5"/>
<rect x="403.57" y="20.10" width="8.09" height="6.584" fill="#691d26" stroke="#9a9a9a" stroke-width="0.5"/>
<rect x="411.66" y="20.10" width="8.09" height="6.584" fill="#b0282f" stroke="#9a9a9a" stroke-width="0.5"/>
<rect x="419.75" y="20.10" width="8.09" height="6.584" fill="#d8604f" stroke="#9a9a9a" stroke-width="0.5"/>
<rect x="427.84" y="20.10" width="8.09" height="6.584" fill="#fcd9c6" stroke="#9a9a9a" stroke-width="0.5"/>
<rect x="368.0" y="20.10" width="8.1" height="6.584" fill="#3e5b8a" stroke="#9a9a9a" stroke-width="0.45"/>
<rect x="379.30" y="26.68" width="8.09" height="6.584" fill="#a1c6df" stroke="#9a9a9a" stroke-width="0.5"/>
<rect x="387.39" y="26.68" width="8.09" height="6.584" fill="#f5a283" stroke="#9a9a9a" stroke-width="0.5"/>
<rect x="395.48" y="26.68" width="8.09" height="6.584" fill="#f7f7f7" stroke="#9a9a9a" stroke-width="0.5"/>
<rect x="403.57" y="26.68" width="8.09" height="6.584" fill="#691d26" stroke="#9a9a9a" stroke-width="0.5"/>
<rect x="411.66" y="26.68" width="8.09" height="6.584" fill="#d8604f" stroke="#9a9a9a" stroke-width="0.5"/>
<rect x="419.75" y="26.68" width="8.09" height="6.584" fill="#b0282f" stroke="#9a9a9a" stroke-width="0.5"/>
<rect x="427.84" y="26.68" width="8.09" height="6.584" fill="#f7f7f7" stroke="#9a9a9a" stroke-width="0.5"/>
<rect x="368.0" y="26.68" width="8.1" height="6.584" fill="#f7b6cf" stroke="#9a9a9a" stroke-width="0.45"/>
<rect x="379.30" y="33.27" width="8.09" height="6.584" fill="#d5e6f1" stroke="#9a9a9a" stroke-width="0.5"/>
<rect x="387.39" y="33.27" width="8.09" height="6.584" fill="#d8604f" stroke="#9a9a9a" stroke-width="0.5"/>
<rect x="395.48" y="33.27" width="8.09" height="6.584" fill="#f5a283" stroke="#9a9a9a" stroke-width="0.5"/>
<rect x="403.57" y="33.27" width="8.09" height="6.584" fill="#b0282f" stroke="#9a9a9a" stroke-width="0.5"/>
<rect x="411.66" y="33.27" width="8.09" height="6.584" fill="#b0282f" stroke="#9a9a9a" stroke-width="0.5"/>
<rect x="419.75" y="33.27" width="8.09" height="6.584" fill="#fcd9c6" stroke="#9a9a9a" stroke-width="0.5"/>
<rect x="427.84" y="33.27" width="8.09" height="6.584" fill="#fcd9c6" stroke="#9a9a9a" stroke-width="0.5"/>
<rect x="368.0" y="33.27" width="8.1" height="6.584" fill="#4cb8ad" stroke="#9a9a9a" stroke-width="0.45"/>
<rect x="379.30" y="39.85" width="8.09" height="6.584" fill="#3a5ca7" stroke="#9a9a9a" stroke-width="0.5"/>
<rect x="387.39" y="39.85" width="8.09" height="6.584" fill="#f5a283" stroke="#9a9a9a" stroke-width="0.5"/>
<rect x="395.48" y="39.85" width="8.09" height="6.584" fill="#f7f7f7" stroke="#9a9a9a" stroke-width="0.5"/>
<rect x="403.57" y="39.85" width="8.09" height="6.584" fill="#b0282f" stroke="#9a9a9a" stroke-width="0.5"/>
<rect x="411.66" y="39.85" width="8.09" height="6.584" fill="#d8604f" stroke="#9a9a9a" stroke-width="0.5"/>
<rect x="419.75" y="39.85" width="8.09" height="6.584" fill="#f5a283" stroke="#9a9a9a" stroke-width="0.5"/>
<rect x="427.84" y="39.85" width="8.09" height="6.584" fill="#d5e6f1" stroke="#9a9a9a" stroke-width="0.5"/>
<rect x="368.0" y="39.85" width="8.1" height="6.584" fill="#5ab847" stroke="#9a9a9a" stroke-width="0.45"/>
<rect x="379.30" y="46.44" width="8.09" height="6.584" fill="#3a5ca7" stroke="#9a9a9a" stroke-width="0.5"/>
<rect x="387.39" y="46.44" width="8.09" height="6.584" fill="#fcd9c6" stroke="#9a9a9a" stroke-width="0.5"/>
<rect x="395.48" y="46.44" width="8.09" height="6.584" fill="#f5a283" stroke="#9a9a9a" stroke-width="0.5"/>
<rect x="403.57" y="46.44" width="8.09" height="6.584" fill="#b0282f" stroke="#9a9a9a" stroke-width="0.5"/>
<rect x="411.66" y="46.44" width="8.09" height="6.584" fill="#b0282f" stroke="#9a9a9a" stroke-width="0.5"/>
<rect x="419.75" y="46.44" width="8.09" height="6.584" fill="#fcd9c6" stroke="#9a9a9a" stroke-width="0.5"/>
<rect x="427.84" y="46.44" width="8.09" height="6.584" fill="#fcd9c6" stroke="#9a9a9a" stroke-width="0.5"/>
<rect x="368.0" y="46.44" width="8.1" height="6.584" fill="#e8362b" stroke="#9a9a9a" stroke-width="0.45"/>
<rect x="379.30" y="53.02" width="8.09" height="6.584" fill="#3a5ca7" stroke="#9a9a9a" stroke-width="0.5"/>
<rect x="387.39" y="53.02" width="8.09" height="6.584" fill="#f7f7f7" stroke="#9a9a9a" stroke-width="0.5"/>
<rect x="395.48" y="53.02" width="8.09" height="6.584" fill="#b0282f" stroke="#9a9a9a" stroke-width="0.5"/>
<rect x="403.57" y="53.02" width="8.09" height="6.584" fill="#d8604f" stroke="#9a9a9a" stroke-width="0.5"/>
<rect x="411.66" y="53.02" width="8.09" height="6.584" fill="#d8604f" stroke="#9a9a9a" stroke-width="0.5"/>
<rect x="419.75" y="53.02" width="8.09" height="6.584" fill="#f5a283" stroke="#9a9a9a" stroke-width="0.5"/>
<rect x="427.84" y="53.02" width="8.09" height="6.584" fill="#d8604f" stroke="#9a9a9a" stroke-width="0.5"/>
<rect x="368.0" y="53.02" width="8.1" height="6.584" fill="#e8362b" stroke="#9a9a9a" stroke-width="0.45"/>
<rect x="379.30" y="59.60" width="8.09" height="6.584" fill="#a1c6df" stroke="#9a9a9a" stroke-width="0.5"/>
<rect x="387.39" y="59.60" width="8.09" height="6.584" fill="#d5e6f1" stroke="#9a9a9a" stroke-width="0.5"/>
<rect x="395.48" y="59.60" width="8.09" height="6.584" fill="#691d26" stroke="#9a9a9a" stroke-width="0.5"/>
<rect x="403.57" y="59.60" width="8.09" height="6.584" fill="#f5a283" stroke="#9a9a9a" stroke-width="0.5"/>
<rect x="411.66" y="59.60" width="8.09" height="6.584" fill="#b0282f" stroke="#9a9a9a" stroke-width="0.5"/>
<rect x="419.75" y="59.60" width="8.09" height="6.584" fill="#d8604f" stroke="#9a9a9a" stroke-width="0.5"/>
<rect x="427.84" y="59.60" width="8.09" height="6.584" fill="#d8604f" stroke="#9a9a9a" stroke-width="0.5"/>
<rect x="368.0" y="59.60" width="8.1" height="6.584" fill="#f7b6cf" stroke="#9a9a9a" stroke-width="0.45"/>
<rect x="379.30" y="66.19" width="8.09" height="6.584" fill="#3a5ca7" stroke="#9a9a9a" stroke-width="0.5"/>
<rect x="387.39" y="66.19" width="8.09" height="6.584" fill="#fcd9c6" stroke="#9a9a9a" stroke-width="0.5"/>
<rect x="395.48" y="66.19" width="8.09" height="6.584" fill="#d8604f" stroke="#9a9a9a" stroke-width="0.5"/>
<rect x="403.57" y="66.19" width="8.09" height="6.584" fill="#d8604f" stroke="#9a9a9a" stroke-width="0.5"/>
<rect x="411.66" y="66.19" width="8.09" height="6.584" fill="#691d26" stroke="#9a9a9a" stroke-width="0.5"/>
<rect x="419.75" y="66.19" width="8.09" height="6.584" fill="#d8604f" stroke="#9a9a9a" stroke-width="0.5"/>
<rect x="427.84" y="66.19" width="8.09" height="6.584" fill="#d8604f" stroke="#9a9a9a" stroke-width="0.5"/>
<rect x="368.0" y="66.19" width="8.1" height="6.584" fill="#3e5b8a" stroke="#9a9a9a" stroke-width="0.45"/>
<rect x="379.30" y="72.77" width="8.09" height="6.584" fill="#3a5ca7" stroke="#9a9a9a" stroke-width="0.5"/>
<rect x="387.39" y="72.77" width="8.09" height="6.584" fill="#f7f7f7" stroke="#9a9a9a" stroke-width="0.5"/>
<rect x="395.48" y="72.77" width="8.09" height="6.584" fill="#d8604f" stroke="#9a9a9a" stroke-width="0.5"/>
<rect x="403.57" y="72.77" width="8.09" height="6.584" fill="#d8604f" stroke="#9a9a9a" stroke-width="0.5"/>
<rect x="411.66" y="72.77" width="8.09" height="6.584" fill="#691d26" stroke="#9a9a9a" stroke-width="0.5"/>
<rect x="419.75" y="72.77" width="8.09" height="6.584" fill="#f5a283" stroke="#9a9a9a" stroke-width="0.5"/>
<rect x="427.84" y="72.77" width="8.09" height="6.584" fill="#d8604f" stroke="#9a9a9a" stroke-width="0.5"/>
<rect x="368.0" y="72.77" width="8.1" height="6.584" fill="#f5e51d" stroke="#9a9a9a" stroke-width="0.45"/>
<rect x="379.30" y="79.36" width="8.09" height="6.584" fill="#3a5ca7" stroke="#9a9a9a" stroke-width="0.5"/>
<rect x="387.39" y="79.36" width="8.09" height="6.584" fill="#fcd9c6" stroke="#9a9a9a" stroke-width="0.5"/>
<rect x="395.48" y="79.36" width="8.09" height="6.584" fill="#d8604f" stroke="#9a9a9a" stroke-width="0.5"/>
<rect x="403.57" y="79.36" width="8.09" height="6.584" fill="#d8604f" stroke="#9a9a9a" stroke-width="0.5"/>
<rect x="411.66" y="79.36" width="8.09" height="6.584" fill="#691d26" stroke="#9a9a9a" stroke-width="0.5"/>
<rect x="419.75" y="79.36" width="8.09" height="6.584" fill="#f5a283" stroke="#9a9a9a" stroke-width="0.5"/>
<rect x="427.84" y="79.36" width="8.09" height="6.584" fill="#d8604f" stroke="#9a9a9a" stroke-width="0.5"/>
<rect x="368.0" y="79.36" width="8.1" height="6.584" fill="#f39a2c" stroke="#9a9a9a" stroke-width="0.45"/>
<rect x="379.30" y="85.94" width="8.09" height="6.584" fill="#3a5ca7" stroke="#9a9a9a" stroke-width="0.5"/>
<rect x="387.39" y="85.94" width="8.09" height="6.584" fill="#fcd9c6" stroke="#9a9a9a" stroke-width="0.5"/>
<rect x="395.48" y="85.94" width="8.09" height="6.584" fill="#f5a283" stroke="#9a9a9a" stroke-width="0.5"/>
<rect x="403.57" y="85.94" width="8.09" height="6.584" fill="#b0282f" stroke="#9a9a9a" stroke-width="0.5"/>
<rect x="411.66" y="85.94" width="8.09" height="6.584" fill="#691d26" stroke="#9a9a9a" stroke-width="0.5"/>
<rect x="419.75" y="85.94" width="8.09" height="6.584" fill="#f5a283" stroke="#9a9a9a" stroke-width="0.5"/>
<rect x="427.84" y="85.94" width="8.09" height="6.584" fill="#f5a283" stroke="#9a9a9a" stroke-width="0.5"/>
<rect x="368.0" y="85.94" width="8.1" height="6.584" fill="#f5e51d" stroke="#9a9a9a" stroke-width="0.45"/>
<rect x="379.30" y="92.52" width="8.09" height="6.584" fill="#3a5ca7" stroke="#9a9a9a" stroke-width="0.5"/>
<rect x="387.39" y="92.52" width="8.09" height="6.584" fill="#fcd9c6" stroke="#9a9a9a" stroke-width="0.5"/>
<rect x="395.48" y="92.52" width="8.09" height="6.584" fill="#d8604f" stroke="#9a9a9a" stroke-width="0.5"/>
<rect x="403.57" y="92.52" width="8.09" height="6.584" fill="#b0282f" stroke="#9a9a9a" stroke-width="0.5"/>
<rect x="411.66" y="92.52" width="8.09" height="6.584" fill="#691d26" stroke="#9a9a9a" stroke-width="0.5"/>
<rect x="419.75" y="92.52" width="8.09" height="6.584" fill="#f5a283" stroke="#9a9a9a" stroke-width="0.5"/>
<rect x="427.84" y="92.52" width="8.09" height="6.584" fill="#d8604f" stroke="#9a9a9a" stroke-width="0.5"/>
<rect x="368.0" y="92.52" width="8.1" height="6.584" fill="#f5e51d" stroke="#9a9a9a" stroke-width="0.45"/>
<rect x="379.30" y="99.11" width="8.09" height="6.584" fill="#a1c6df" stroke="#9a9a9a" stroke-width="0.5"/>
<rect x="387.39" y="99.11" width="8.09" height="6.584" fill="#fcd9c6" stroke="#9a9a9a" stroke-width="0.5"/>
<rect x="395.48" y="99.11" width="8.09" height="6.584" fill="#d8604f" stroke="#9a9a9a" stroke-width="0.5"/>
<rect x="403.57" y="99.11" width="8.09" height="6.584" fill="#d8604f" stroke="#9a9a9a" stroke-width="0.5"/>
<rect x="411.66" y="99.11" width="8.09" height="6.584" fill="#691d26" stroke="#9a9a9a" stroke-width="0.5"/>
<rect x="419.75" y="99.11" width="8.09" height="6.584" fill="#b0282f" stroke="#9a9a9a" stroke-width="0.5"/>
<rect x="427.84" y="99.11" width="8.09" height="6.584" fill="#d8604f" stroke="#9a9a9a" stroke-width="0.5"/>
<rect x="368.0" y="99.11" width="8.1" height="6.584" fill="#4b4599" stroke="#9a9a9a" stroke-width="0.45"/>
<rect x="379.30" y="105.69" width="8.09" height="6.584" fill="#5a8fc3" stroke="#9a9a9a" stroke-width="0.5"/>
<rect x="387.39" y="105.69" width="8.09" height="6.584" fill="#f5a283" stroke="#9a9a9a" stroke-width="0.5"/>
<rect x="395.48" y="105.69" width="8.09" height="6.584" fill="#f5a283" stroke="#9a9a9a" stroke-width="0.5"/>
<rect x="403.57" y="105.69" width="8.09" height="6.584" fill="#b0282f" stroke="#9a9a9a" stroke-width="0.5"/>
<rect x="411.66" y="105.69" width="8.09" height="6.584" fill="#691d26" stroke="#9a9a9a" stroke-width="0.5"/>
<rect x="419.75" y="105.69" width="8.09" height="6.584" fill="#d8604f" stroke="#9a9a9a" stroke-width="0.5"/>
<rect x="427.84" y="105.69" width="8.09" height="6.584" fill="#d8604f" stroke="#9a9a9a" stroke-width="0.5"/>
<rect x="368.0" y="105.69" width="8.1" height="6.584" fill="#4b4599" stroke="#9a9a9a" stroke-width="0.45"/>
<rect x="379.30" y="112.28" width="8.09" height="6.584" fill="#5a8fc3" stroke="#9a9a9a" stroke-width="0.5"/>
<rect x="387.39" y="112.28" width="8.09" height="6.584" fill="#fcd9c6" stroke="#9a9a9a" stroke-width="0.5"/>
<rect x="395.48" y="112.28" width="8.09" height="6.584" fill="#f5a283" stroke="#9a9a9a" stroke-width="0.5"/>
<rect x="403.57" y="112.28" width="8.09" height="6.584" fill="#b0282f" stroke="#9a9a9a" stroke-width="0.5"/>
<rect x="411.66" y="112.28" width="8.09" height="6.584" fill="#691d26" stroke="#9a9a9a" stroke-width="0.5"/>
<rect x="419.75" y="112.28" width="8.09" height="6.584" fill="#d8604f" stroke="#9a9a9a" stroke-width="0.5"/>
<rect x="427.84" y="112.28" width="8.09" height="6.584" fill="#d8604f" stroke="#9a9a9a" stroke-width="0.5"/>
<rect x="368.0" y="112.28" width="8.1" height="6.584" fill="#4b4599" stroke="#9a9a9a" stroke-width="0.45"/>
<rect x="379.30" y="118.86" width="8.09" height="6.584" fill="#5a8fc3" stroke="#9a9a9a" stroke-width="0.5"/>
<rect x="387.39" y="118.86" width="8.09" height="6.584" fill="#f7f7f7" stroke="#9a9a9a" stroke-width="0.5"/>
<rect x="395.48" y="118.86" width="8.09" height="6.584" fill="#f5a283" stroke="#9a9a9a" stroke-width="0.5"/>
<rect x="403.57" y="118.86" width="8.09" height="6.584" fill="#d8604f" stroke="#9a9a9a" stroke-width="0.5"/>
<rect x="411.66" y="118.86" width="8.09" height="6.584" fill="#b0282f" stroke="#9a9a9a" stroke-width="0.5"/>
<rect x="419.75" y="118.86" width="8.09" height="6.584" fill="#d8604f" stroke="#9a9a9a" stroke-width="0.5"/>
<rect x="427.84" y="118.86" width="8.09" height="6.584" fill="#f5a283" stroke="#9a9a9a" stroke-width="0.5"/>
<rect x="368.0" y="118.86" width="8.1" height="6.584" fill="#f5e51d" stroke="#9a9a9a" stroke-width="0.45"/>
<rect x="379.30" y="125.44" width="8.09" height="6.584" fill="#5a8fc3" stroke="#9a9a9a" stroke-width="0.5"/>
<rect x="387.39" y="125.44" width="8.09" height="6.584" fill="#f7f7f7" stroke="#9a9a9a" stroke-width="0.5"/>
<rect x="395.48" y="125.44" width="8.09" height="6.584" fill="#d8604f" stroke="#9a9a9a" stroke-width="0.5"/>
<rect x="403.57" y="125.44" width="8.09" height="6.584" fill="#d8604f" stroke="#9a9a9a" stroke-width="0.5"/>
<rect x="411.66" y="125.44" width="8.09" height="6.584" fill="#691d26" stroke="#9a9a9a" stroke-width="0.5"/>
<rect x="419.75" y="125.44" width="8.09" height="6.584" fill="#f5a283" stroke="#9a9a9a" stroke-width="0.5"/>
<rect x="427.84" y="125.44" width="8.09" height="6.584" fill="#d8604f" stroke="#9a9a9a" stroke-width="0.5"/>
<rect x="368.0" y="125.44" width="8.1" height="6.584" fill="#c9b9b4" stroke="#9a9a9a" stroke-width="0.45"/>
<rect x="379.30" y="132.03" width="8.09" height="6.584" fill="#a1c6df" stroke="#9a9a9a" stroke-width="0.5"/>
<rect x="387.39" y="132.03" width="8.09" height="6.584" fill="#f7f7f7" stroke="#9a9a9a" stroke-width="0.5"/>
<rect x="395.48" y="132.03" width="8.09" height="6.584" fill="#d8604f" stroke="#9a9a9a" stroke-width="0.5"/>
<rect x="403.57" y="132.03" width="8.09" height="6.584" fill="#d8604f" stroke="#9a9a9a" stroke-width="0.5"/>
<rect x="411.66" y="132.03" width="8.09" height="6.584" fill="#691d26" stroke="#9a9a9a" stroke-width="0.5"/>
<rect x="419.75" y="132.03" width="8.09" height="6.584" fill="#f5a283" stroke="#9a9a9a" stroke-width="0.5"/>
<rect x="427.84" y="132.03" width="8.09" height="6.584" fill="#d8604f" stroke="#9a9a9a" stroke-width="0.5"/>
<rect x="368.0" y="132.03" width="8.1" height="6.584" fill="#f39a2c" stroke="#9a9a9a" stroke-width="0.45"/>
<rect x="379.30" y="138.61" width="8.09" height="6.584" fill="#a1c6df" stroke="#9a9a9a" stroke-width="0.5"/>
<rect x="387.39" y="138.61" width="8.09" height="6.584" fill="#a1c6df" stroke="#9a9a9a" stroke-width="0.5"/>
<rect x="395.48" y="138.61" width="8.09" height="6.584" fill="#b0282f" stroke="#9a9a9a" stroke-width="0.5"/>
<rect x="403.57" y="138.61" width="8.09" height="6.584" fill="#a1c6df" stroke="#9a9a9a" stroke-width="0.5"/>
<rect x="411.66" y="138.61" width="8.09" height="6.584" fill="#f5a283" stroke="#9a9a9a" stroke-width="0.5"/>
<rect x="419.75" y="138.61" width="8.09" height="6.584" fill="#a1c6df" stroke="#9a9a9a" stroke-width="0.5"/>
<rect x="427.84" y="138.61" width="8.09" height="6.584" fill="#f5a283" stroke="#9a9a9a" stroke-width="0.5"/>
<rect x="368.0" y="138.61" width="8.1" height="6.584" fill="#4cb8ad" stroke="#9a9a9a" stroke-width="0.45"/>
<rect x="379.30" y="145.20" width="8.09" height="6.584" fill="#d5e6f1" stroke="#9a9a9a" stroke-width="0.5"/>
<rect x="387.39" y="145.20" width="8.09" height="6.584" fill="#f7f7f7" stroke="#9a9a9a" stroke-width="0.5"/>
<rect x="395.48" y="145.20" width="8.09" height="6.584" fill="#fcd9c6" stroke="#9a9a9a" stroke-width="0.5"/>
<rect x="403.57" y="145.20" width="8.09" height="6.584" fill="#f7f7f7" stroke="#9a9a9a" stroke-width="0.5"/>
<rect x="411.66" y="145.20" width="8.09" height="6.584" fill="#f5a283" stroke="#9a9a9a" stroke-width="0.5"/>
<rect x="419.75" y="145.20" width="8.09" height="6.584" fill="#691d26" stroke="#9a9a9a" stroke-width="0.5"/>
<rect x="427.84" y="145.20" width="8.09" height="6.584" fill="#f5a283" stroke="#9a9a9a" stroke-width="0.5"/>
<rect x="368.0" y="145.20" width="8.1" height="6.584" fill="#7d4ea3" stroke="#9a9a9a" stroke-width="0.45"/>
<rect x="379.30" y="151.78" width="8.09" height="6.584" fill="#fcd9c6" stroke="#9a9a9a" stroke-width="0.5"/>
<rect x="387.39" y="151.78" width="8.09" height="6.584" fill="#fcd9c6" stroke="#9a9a9a" stroke-width="0.5"/>
<rect x="395.48" y="151.78" width="8.09" height="6.584" fill="#f7f7f7" stroke="#9a9a9a" stroke-width="0.5"/>
<rect x="403.57" y="151.78" width="8.09" height="6.584" fill="#fcd9c6" stroke="#9a9a9a" stroke-width="0.5"/>
<rect x="411.66" y="151.78" width="8.09" height="6.584" fill="#fcd9c6" stroke="#9a9a9a" stroke-width="0.5"/>
<rect x="419.75" y="151.78" width="8.09" height="6.584" fill="#691d26" stroke="#9a9a9a" stroke-width="0.5"/>
<rect x="427.84" y="151.78" width="8.09" height="6.584" fill="#f5a283" stroke="#9a9a9a" stroke-width="0.5"/>
<rect x="368.0" y="151.78" width="8.1" height="6.584" fill="#3e5b8a" stroke="#9a9a9a" stroke-width="0.45"/>
<rect x="379.30" y="158.36" width="8.09" height="6.584" fill="#f7f7f7" stroke="#9a9a9a" stroke-width="0.5"/>
<rect x="387.39" y="158.36" width="8.09" height="6.584" fill="#fcd9c6" stroke="#9a9a9a" stroke-width="0.5"/>
<rect x="395.48" y="158.36" width="8.09" height="6.584" fill="#fcd9c6" stroke="#9a9a9a" stroke-width="0.5"/>
<rect x="403.57" y="158.36" width="8.09" height="6.584" fill="#fcd9c6" stroke="#9a9a9a" stroke-width="0.5"/>
<rect x="411.66" y="158.36" width="8.09" height="6.584" fill="#d8604f" stroke="#9a9a9a" stroke-width="0.5"/>
<rect x="419.75" y="158.36" width="8.09" height="6.584" fill="#691d26" stroke="#9a9a9a" stroke-width="0.5"/>
<rect x="427.84" y="158.36" width="8.09" height="6.584" fill="#f5a283" stroke="#9a9a9a" stroke-width="0.5"/>
<rect x="368.0" y="158.36" width="8.1" height="6.584" fill="#7d4ea3" stroke="#9a9a9a" stroke-width="0.45"/>
<rect x="379.30" y="164.95" width="8.09" height="6.584" fill="#a1c6df" stroke="#9a9a9a" stroke-width="0.5"/>
<rect x="387.39" y="164.95" width="8.09" height="6.584" fill="#f7f7f7" stroke="#9a9a9a" stroke-width="0.5"/>
<rect x="395.48" y="164.95" width="8.09" height="6.584" fill="#fcd9c6" stroke="#9a9a9a" stroke-width="0.5"/>
<rect x="403.57" y="164.95" width="8.09" height="6.584" fill="#b0282f" stroke="#9a9a9a" stroke-width="0.5"/>
<rect x="411.66" y="164.95" width="8.09" height="6.584" fill="#d8604f" stroke="#9a9a9a" stroke-width="0.5"/>
<rect x="419.75" y="164.95" width="8.09" height="6.584" fill="#691d26" stroke="#9a9a9a" stroke-width="0.5"/>
<rect x="427.84" y="164.95" width="8.09" height="6.584" fill="#fcd9c6" stroke="#9a9a9a" stroke-width="0.5"/>
<rect x="368.0" y="164.95" width="8.1" height="6.584" fill="#4b4599" stroke="#9a9a9a" stroke-width="0.45"/>
<rect x="379.30" y="171.53" width="8.09" height="6.584" fill="#d5e6f1" stroke="#9a9a9a" stroke-width="0.5"/>
<rect x="387.39" y="171.53" width="8.09" height="6.584" fill="#fcd9c6" stroke="#9a9a9a" stroke-width="0.5"/>
<rect x="395.48" y="171.53" width="8.09" height="6.584" fill="#f5a283" stroke="#9a9a9a" stroke-width="0.5"/>
<rect x="403.57" y="171.53" width="8.09" height="6.584" fill="#f5a283" stroke="#9a9a9a" stroke-width="0.5"/>
<rect x="411.66" y="171.53" width="8.09" height="6.584" fill="#b0282f" stroke="#9a9a9a" stroke-width="0.5"/>
<rect x="419.75" y="171.53" width="8.09" height="6.584" fill="#691d26" stroke="#9a9a9a" stroke-width="0.5"/>
<rect x="427.84" y="171.53" width="8.09" height="6.584" fill="#d8604f" stroke="#9a9a9a" stroke-width="0.5"/>
<rect x="368.0" y="171.53" width="8.1" height="6.584" fill="#4cb8ad" stroke="#9a9a9a" stroke-width="0.45"/>
<rect x="379.30" y="178.12" width="8.09" height="6.584" fill="#f7f7f7" stroke="#9a9a9a" stroke-width="0.5"/>
<rect x="387.39" y="178.12" width="8.09" height="6.584" fill="#d5e6f1" stroke="#9a9a9a" stroke-width="0.5"/>
<rect x="395.48" y="178.12" width="8.09" height="6.584" fill="#d8604f" stroke="#9a9a9a" stroke-width="0.5"/>
<rect x="403.57" y="178.12" width="8.09" height="6.584" fill="#d8604f" stroke="#9a9a9a" stroke-width="0.5"/>
<rect x="411.66" y="178.12" width="8.09" height="6.584" fill="#d8604f" stroke="#9a9a9a" stroke-width="0.5"/>
<rect x="419.75" y="178.12" width="8.09" height="6.584" fill="#f5a283" stroke="#9a9a9a" stroke-width="0.5"/>
<rect x="427.84" y="178.12" width="8.09" height="6.584" fill="#d8604f" stroke="#9a9a9a" stroke-width="0.5"/>
<rect x="368.0" y="178.12" width="8.1" height="6.584" fill="#141414" stroke="#9a9a9a" stroke-width="0.45"/>
<rect x="379.30" y="184.70" width="8.09" height="6.584" fill="#d5e6f1" stroke="#9a9a9a" stroke-width="0.5"/>
<rect x="387.39" y="184.70" width="8.09" height="6.584" fill="#f7f7f7" stroke="#9a9a9a" stroke-width="0.5"/>
<rect x="395.48" y="184.70" width="8.09" height="6.584" fill="#b0282f" stroke="#9a9a9a" stroke-width="0.5"/>
<rect x="403.57" y="184.70" width="8.09" height="6.584" fill="#fcd9c6" stroke="#9a9a9a" stroke-width="0.5"/>
<rect x="411.66" y="184.70" width="8.09" height="6.584" fill="#d8604f" stroke="#9a9a9a" stroke-width="0.5"/>
<rect x="419.75" y="184.70" width="8.09" height="6.584" fill="#d8604f" stroke="#9a9a9a" stroke-width="0.5"/>
<rect x="427.84" y="184.70" width="8.09" height="6.584" fill="#691d26" stroke="#9a9a9a" stroke-width="0.5"/>
<rect x="368.0" y="184.70" width="8.1" height="6.584" fill="#8c1c1c" stroke="#9a9a9a" stroke-width="0.45"/>
<rect x="379.30" y="191.28" width="8.09" height="6.584" fill="#d5e6f1" stroke="#9a9a9a" stroke-width="0.5"/>
<rect x="387.39" y="191.28" width="8.09" height="6.584" fill="#d5e6f1" stroke="#9a9a9a" stroke-width="0.5"/>
<rect x="395.48" y="191.28" width="8.09" height="6.584" fill="#b0282f" stroke="#9a9a9a" stroke-width="0.5"/>
<rect x="403.57" y="191.28" width="8.09" height="6.584" fill="#f5a283" stroke="#9a9a9a" stroke-width="0.5"/>
<rect x="411.66" y="191.28" width="8.09" height="6.584" fill="#b0282f" stroke="#9a9a9a" stroke-width="0.5"/>
<rect x="419.75" y="191.28" width="8.09" height="6.584" fill="#691d26" stroke="#9a9a9a" stroke-width="0.5"/>
<rect x="427.84" y="191.28" width="8.09" height="6.584" fill="#691d26" stroke="#9a9a9a" stroke-width="0.5"/>
<rect x="368.0" y="191.28" width="8.1" height="6.584" fill="#8c1c1c" stroke="#9a9a9a" stroke-width="0.45"/>
<rect x="379.30" y="197.87" width="8.09" height="6.584" fill="#fcd9c6" stroke="#9a9a9a" stroke-width="0.5"/>
<rect x="387.39" y="197.87" width="8.09" height="6.584" fill="#d5e6f1" stroke="#9a9a9a" stroke-width="0.5"/>
<rect x="395.48" y="197.87" width="8.09" height="6.584" fill="#d8604f" stroke="#9a9a9a" stroke-width="0.5"/>
<rect x="403.57" y="197.87" width="8.09" height="6.584" fill="#f5a283" stroke="#9a9a9a" stroke-width="0.5"/>
<rect x="411.66" y="197.87" width="8.09" height="6.584" fill="#f5a283" stroke="#9a9a9a" stroke-width="0.5"/>
<rect x="419.75" y="197.87" width="8.09" height="6.584" fill="#b0282f" stroke="#9a9a9a" stroke-width="0.5"/>
<rect x="427.84" y="197.87" width="8.09" height="6.584" fill="#d8604f" stroke="#9a9a9a" stroke-width="0.5"/>
<rect x="368.0" y="197.87" width="8.1" height="6.584" fill="#4cb8ad" stroke="#9a9a9a" stroke-width="0.45"/>
<rect x="379.30" y="204.45" width="8.09" height="6.584" fill="#d8604f" stroke="#9a9a9a" stroke-width="0.5"/>
<rect x="387.39" y="204.45" width="8.09" height="6.584" fill="#a1c6df" stroke="#9a9a9a" stroke-width="0.5"/>
<rect x="395.48" y="204.45" width="8.09" height="6.584" fill="#b0282f" stroke="#9a9a9a" stroke-width="0.5"/>
<rect x="403.57" y="204.45" width="8.09" height="6.584" fill="#d5e6f1" stroke="#9a9a9a" stroke-width="0.5"/>
<rect x="411.66" y="204.45" width="8.09" height="6.584" fill="#f5a283" stroke="#9a9a9a" stroke-width="0.5"/>
<rect x="419.75" y="204.45" width="8.09" height="6.584" fill="#d8604f" stroke="#9a9a9a" stroke-width="0.5"/>
<rect x="427.84" y="204.45" width="8.09" height="6.584" fill="#b0282f" stroke="#9a9a9a" stroke-width="0.5"/>
<rect x="368.0" y="204.45" width="8.1" height="6.584" fill="#ffffff" stroke="#9a9a9a" stroke-width="0.45"/>
<rect x="379.30" y="211.04" width="8.09" height="6.584" fill="#fcd9c6" stroke="#9a9a9a" stroke-width="0.5"/>
<rect x="387.39" y="211.04" width="8.09" height="6.584" fill="#a1c6df" stroke="#9a9a9a" stroke-width="0.5"/>
<rect x="395.48" y="211.04" width="8.09" height="6.584" fill="#b0282f" stroke="#9a9a9a" stroke-width="0.5"/>
<rect x="403.57" y="211.04" width="8.09" height="6.584" fill="#f7f7f7" stroke="#9a9a9a" stroke-width="0.5"/>
<rect x="411.66" y="211.04" width="8.09" height="6.584" fill="#f5a283" stroke="#9a9a9a" stroke-width="0.5"/>
<rect x="419.75" y="211.04" width="8.09" height="6.584" fill="#d8604f" stroke="#9a9a9a" stroke-width="0.5"/>
<rect x="427.84" y="211.04" width="8.09" height="6.584" fill="#691d26" stroke="#9a9a9a" stroke-width="0.5"/>
<rect x="368.0" y="211.04" width="8.1" height="6.584" fill="#ffffff" stroke="#9a9a9a" stroke-width="0.45"/>
<rect x="379.30" y="217.62" width="8.09" height="6.584" fill="#fcd9c6" stroke="#9a9a9a" stroke-width="0.5"/>
<rect x="387.39" y="217.62" width="8.09" height="6.584" fill="#d5e6f1" stroke="#9a9a9a" stroke-width="0.5"/>
<rect x="395.48" y="217.62" width="8.09" height="6.584" fill="#b0282f" stroke="#9a9a9a" stroke-width="0.5"/>
<rect x="403.57" y="217.62" width="8.09" height="6.584" fill="#f7f7f7" stroke="#9a9a9a" stroke-width="0.5"/>
<rect x="411.66" y="217.62" width="8.09" height="6.584" fill="#f5a283" stroke="#9a9a9a" stroke-width="0.5"/>
<rect x="419.75" y="217.62" width="8.09" height="6.584" fill="#f5a283" stroke="#9a9a9a" stroke-width="0.5"/>
<rect x="427.84" y="217.62" width="8.09" height="6.584" fill="#f5a283" stroke="#9a9a9a" stroke-width="0.5"/>
<rect x="368.0" y="217.62" width="8.1" height="6.584" fill="#f7b6cf" stroke="#9a9a9a" stroke-width="0.45"/>
<rect x="379.30" y="224.20" width="8.09" height="6.584" fill="#d5e6f1" stroke="#9a9a9a" stroke-width="0.5"/>
<rect x="387.39" y="224.20" width="8.09" height="6.584" fill="#d5e6f1" stroke="#9a9a9a" stroke-width="0.5"/>
<rect x="395.48" y="224.20" width="8.09" height="6.584" fill="#b0282f" stroke="#9a9a9a" stroke-width="0.5"/>
<rect x="403.57" y="224.20" width="8.09" height="6.584" fill="#f7f7f7" stroke="#9a9a9a" stroke-width="0.5"/>
<rect x="411.66" y="224.20" width="8.09" height="6.584" fill="#f5a283" stroke="#9a9a9a" stroke-width="0.5"/>
<rect x="419.75" y="224.20" width="8.09" height="6.584" fill="#f7f7f7" stroke="#9a9a9a" stroke-width="0.5"/>
<rect x="427.84" y="224.20" width="8.09" height="6.584" fill="#d8604f" stroke="#9a9a9a" stroke-width="0.5"/>
<rect x="368.0" y="224.20" width="8.1" height="6.584" fill="#f5e51d" stroke="#9a9a9a" stroke-width="0.45"/>
<rect x="379.30" y="230.79" width="8.09" height="6.584" fill="#b0282f" stroke="#9a9a9a" stroke-width="0.5"/>
<rect x="387.39" y="230.79" width="8.09" height="6.584" fill="#252a57" stroke="#9a9a9a" stroke-width="0.5"/>
<rect x="395.48" y="230.79" width="8.09" height="6.584" fill="#f5a283" stroke="#9a9a9a" stroke-width="0.5"/>
<rect x="403.57" y="230.79" width="8.09" height="6.584" fill="#3a5ca7" stroke="#9a9a9a" stroke-width="0.5"/>
<rect x="411.66" y="230.79" width="8.09" height="6.584" fill="#d5e6f1" stroke="#9a9a9a" stroke-width="0.5"/>
<rect x="419.75" y="230.79" width="8.09" height="6.584" fill="#f7f7f7" stroke="#9a9a9a" stroke-width="0.5"/>
<rect x="427.84" y="230.79" width="8.09" height="6.584" fill="#d8604f" stroke="#9a9a9a" stroke-width="0.5"/>
<rect x="368.0" y="230.79" width="8.1" height="6.584" fill="#4b4599" stroke="#9a9a9a" stroke-width="0.45"/>
<rect x="379.30" y="237.37" width="8.09" height="6.584" fill="#b0282f" stroke="#9a9a9a" stroke-width="0.5"/>
<rect x="387.39" y="237.37" width="8.09" height="6.584" fill="#3a5ca7" stroke="#9a9a9a" stroke-width="0.5"/>
<rect x="395.48" y="237.37" width="8.09" height="6.584" fill="#fcd9c6" stroke="#9a9a9a" stroke-width="0.5"/>
<rect x="403.57" y="237.37" width="8.09" height="6.584" fill="#5a8fc3" stroke="#9a9a9a" stroke-width="0.5"/>
<rect x="411.66" y="237.37" width="8.09" height="6.584" fill="#a1c6df" stroke="#9a9a9a" stroke-width="0.5"/>
<rect x="419.75" y="237.37" width="8.09" height="6.584" fill="#d5e6f1" stroke="#9a9a9a" stroke-width="0.5"/>
<rect x="427.84" y="237.37" width="8.09" height="6.584" fill="#d8604f" stroke="#9a9a9a" stroke-width="0.5"/>
<rect x="368.0" y="237.37" width="8.1" height="6.584" fill="#b9e0ea" stroke="#9a9a9a" stroke-width="0.45"/>
<rect x="379.30" y="243.96" width="8.09" height="6.584" fill="#691d26" stroke="#9a9a9a" stroke-width="0.5"/>
<rect x="387.39" y="243.96" width="8.09" height="6.584" fill="#5a8fc3" stroke="#9a9a9a" stroke-width="0.5"/>
<rect x="395.48" y="243.96" width="8.09" height="6.584" fill="#d5e6f1" stroke="#9a9a9a" stroke-width="0.5"/>
<rect x="403.57" y="243.96" width="8.09" height="6.584" fill="#3a5ca7" stroke="#9a9a9a" stroke-width="0.5"/>
<rect x="411.66" y="243.96" width="8.09" height="6.584" fill="#5a8fc3" stroke="#9a9a9a" stroke-width="0.5"/>
<rect x="419.75" y="243.96" width="8.09" height="6.584" fill="#d5e6f1" stroke="#9a9a9a" stroke-width="0.5"/>
<rect x="427.84" y="243.96" width="8.09" height="6.584" fill="#d5e6f1" stroke="#9a9a9a" stroke-width="0.5"/>
<rect x="368.0" y="243.96" width="8.1" height="6.584" fill="#b9e0ea" stroke="#9a9a9a" stroke-width="0.45"/>
<rect x="379.30" y="250.54" width="8.09" height="6.584" fill="#b0282f" stroke="#9a9a9a" stroke-width="0.5"/>
<rect x="387.39" y="250.54" width="8.09" height="6.584" fill="#a1c6df" stroke="#9a9a9a" stroke-width="0.5"/>
<rect x="395.48" y="250.54" width="8.09" height="6.584" fill="#d5e6f1" stroke="#9a9a9a" stroke-width="0.5"/>
<rect x="403.57" y="250.54" width="8.09" height="6.584" fill="#252a57" stroke="#9a9a9a" stroke-width="0.5"/>
<rect x="411.66" y="250.54" width="8.09" height="6.584" fill="#252a57" stroke="#9a9a9a" stroke-width="0.5"/>
<rect x="419.75" y="250.54" width="8.09" height="6.584" fill="#5a8fc3" stroke="#9a9a9a" stroke-width="0.5"/>
<rect x="427.84" y="250.54" width="8.09" height="6.584" fill="#a1c6df" stroke="#9a9a9a" stroke-width="0.5"/>
<rect x="368.0" y="250.54" width="8.1" height="6.584" fill="#f7b6cf" stroke="#9a9a9a" stroke-width="0.45"/>
<rect x="379.30" y="257.12" width="8.09" height="6.584" fill="#fcd9c6" stroke="#9a9a9a" stroke-width="0.5"/>
<rect x="387.39" y="257.12" width="8.09" height="6.584" fill="#b0282f" stroke="#9a9a9a" stroke-width="0.5"/>
<rect x="395.48" y="257.12" width="8.09" height="6.584" fill="#a1c6df" stroke="#9a9a9a" stroke-width="0.5"/>
<rect x="403.57" y="257.12" width="8.09" height="6.584" fill="#d8604f" stroke="#9a9a9a" stroke-width="0.5"/>
<rect x="411.66" y="257.12" width="8.09" height="6.584" fill="#fcd9c6" stroke="#9a9a9a" stroke-width="0.5"/>
<rect x="419.75" y="257.12" width="8.09" height="6.584" fill="#f5a283" stroke="#9a9a9a" stroke-width="0.5"/>
<rect x="427.84" y="257.12" width="8.09" height="6.584" fill="#a1c6df" stroke="#9a9a9a" stroke-width="0.5"/>
<rect x="368.0" y="257.12" width="8.1" height="6.584" fill="#4b4599" stroke="#9a9a9a" stroke-width="0.45"/>
<rect x="379.30" y="263.71" width="8.09" height="6.584" fill="#fcd9c6" stroke="#9a9a9a" stroke-width="0.5"/>
<rect x="387.39" y="263.71" width="8.09" height="6.584" fill="#b0282f" stroke="#9a9a9a" stroke-width="0.5"/>
<rect x="395.48" y="263.71" width="8.09" height="6.584" fill="#5a8fc3" stroke="#9a9a9a" stroke-width="0.5"/>
<rect x="403.57" y="263.71" width="8.09" height="6.584" fill="#fcd9c6" stroke="#9a9a9a" stroke-width="0.5"/>
<rect x="411.66" y="263.71" width="8.09" height="6.584" fill="#a1c6df" stroke="#9a9a9a" stroke-width="0.5"/>
<rect x="419.75" y="263.71" width="8.09" height="6.584" fill="#f7f7f7" stroke="#9a9a9a" stroke-width="0.5"/>
<rect x="427.84" y="263.71" width="8.09" height="6.584" fill="#5a8fc3" stroke="#9a9a9a" stroke-width="0.5"/>
<rect x="368.0" y="263.71" width="8.1" height="6.584" fill="#3e5b8a" stroke="#9a9a9a" stroke-width="0.45"/>
<rect x="379.30" y="270.29" width="8.09" height="6.584" fill="#d5e6f1" stroke="#9a9a9a" stroke-width="0.5"/>
<rect x="387.39" y="270.29" width="8.09" height="6.584" fill="#b0282f" stroke="#9a9a9a" stroke-width="0.5"/>
<rect x="395.48" y="270.29" width="8.09" height="6.584" fill="#5a8fc3" stroke="#9a9a9a" stroke-width="0.5"/>
<rect x="403.57" y="270.29" width="8.09" height="6.584" fill="#f5a283" stroke="#9a9a9a" stroke-width="0.5"/>
<rect x="411.66" y="270.29" width="8.09" height="6.584" fill="#a1c6df" stroke="#9a9a9a" stroke-width="0.5"/>
<rect x="419.75" y="270.29" width="8.09" height="6.584" fill="#fcd9c6" stroke="#9a9a9a" stroke-width="0.5"/>
<rect x="427.84" y="270.29" width="8.09" height="6.584" fill="#3a5ca7" stroke="#9a9a9a" stroke-width="0.5"/>
<rect x="368.0" y="270.29" width="8.1" height="6.584" fill="#9fd68a" stroke="#9a9a9a" stroke-width="0.45"/>
<rect x="379.30" y="276.88" width="8.09" height="6.584" fill="#d5e6f1" stroke="#9a9a9a" stroke-width="0.5"/>
<rect x="387.39" y="276.88" width="8.09" height="6.584" fill="#b0282f" stroke="#9a9a9a" stroke-width="0.5"/>
<rect x="395.48" y="276.88" width="8.09" height="6.584" fill="#f7f7f7" stroke="#9a9a9a" stroke-width="0.5"/>
<rect x="403.57" y="276.88" width="8.09" height="6.584" fill="#f7f7f7" stroke="#9a9a9a" stroke-width="0.5"/>
<rect x="411.66" y="276.88" width="8.09" height="6.584" fill="#f7f7f7" stroke="#9a9a9a" stroke-width="0.5"/>
<rect x="419.75" y="276.88" width="8.09" height="6.584" fill="#f7f7f7" stroke="#9a9a9a" stroke-width="0.5"/>
<rect x="427.84" y="276.88" width="8.09" height="6.584" fill="#f7f7f7" stroke="#9a9a9a" stroke-width="0.5"/>
<rect x="368.0" y="276.88" width="8.1" height="6.584" fill="#7d4ea3" stroke="#9a9a9a" stroke-width="0.45"/>
<rect x="379.30" y="283.46" width="8.09" height="6.584" fill="#f7f7f7" stroke="#9a9a9a" stroke-width="0.5"/>
<rect x="387.39" y="283.46" width="8.09" height="6.584" fill="#b0282f" stroke="#9a9a9a" stroke-width="0.5"/>
<rect x="395.48" y="283.46" width="8.09" height="6.584" fill="#d5e6f1" stroke="#9a9a9a" stroke-width="0.5"/>
<rect x="403.57" y="283.46" width="8.09" height="6.584" fill="#fcd9c6" stroke="#9a9a9a" stroke-width="0.5"/>
<rect x="411.66" y="283.46" width="8.09" height="6.584" fill="#d5e6f1" stroke="#9a9a9a" stroke-width="0.5"/>
<rect x="419.75" y="283.46" width="8.09" height="6.584" fill="#fcd9c6" stroke="#9a9a9a" stroke-width="0.5"/>
<rect x="427.84" y="283.46" width="8.09" height="6.584" fill="#d5e6f1" stroke="#9a9a9a" stroke-width="0.5"/>
<rect x="368.0" y="283.46" width="8.1" height="6.584" fill="#f7b6cf" stroke="#9a9a9a" stroke-width="0.45"/>
<rect x="379.30" y="290.04" width="8.09" height="6.584" fill="#5a8fc3" stroke="#9a9a9a" stroke-width="0.5"/>
<rect x="387.39" y="290.04" width="8.09" height="6.584" fill="#d8604f" stroke="#9a9a9a" stroke-width="0.5"/>
<rect x="395.48" y="290.04" width="8.09" height="6.584" fill="#d5e6f1" stroke="#9a9a9a" stroke-width="0.5"/>
<rect x="403.57" y="290.04" width="8.09" height="6.584" fill="#f5a283" stroke="#9a9a9a" stroke-width="0.5"/>
<rect x="411.66" y="290.04" width="8.09" height="6.584" fill="#f7f7f7" stroke="#9a9a9a" stroke-width="0.5"/>
<rect x="419.75" y="290.04" width="8.09" height="6.584" fill="#d8604f" stroke="#9a9a9a" stroke-width="0.5"/>
<rect x="427.84" y="290.04" width="8.09" height="6.584" fill="#a1c6df" stroke="#9a9a9a" stroke-width="0.5"/>
<rect x="368.0" y="290.04" width="8.1" height="6.584" fill="#ffffff" stroke="#9a9a9a" stroke-width="0.45"/>
<rect x="379.30" y="296.63" width="8.09" height="6.584" fill="#5a8fc3" stroke="#9a9a9a" stroke-width="0.5"/>
<rect x="387.39" y="296.63" width="8.09" height="6.584" fill="#b0282f" stroke="#9a9a9a" stroke-width="0.5"/>
<rect x="395.48" y="296.63" width="8.09" height="6.584" fill="#a1c6df" stroke="#9a9a9a" stroke-width="0.5"/>
<rect x="403.57" y="296.63" width="8.09" height="6.584" fill="#d8604f" stroke="#9a9a9a" stroke-width="0.5"/>
<rect x="411.66" y="296.63" width="8.09" height="6.584" fill="#fcd9c6" stroke="#9a9a9a" stroke-width="0.5"/>
<rect x="419.75" y="296.63" width="8.09" height="6.584" fill="#f5a283" stroke="#9a9a9a" stroke-width="0.5"/>
<rect x="427.84" y="296.63" width="8.09" height="6.584" fill="#5a8fc3" stroke="#9a9a9a" stroke-width="0.5"/>
<rect x="368.0" y="296.63" width="8.1" height="6.584" fill="#ffffff" stroke="#9a9a9a" stroke-width="0.45"/>
<rect x="379.30" y="303.21" width="8.09" height="6.584" fill="#5a8fc3" stroke="#9a9a9a" stroke-width="0.5"/>
<rect x="387.39" y="303.21" width="8.09" height="6.584" fill="#b0282f" stroke="#9a9a9a" stroke-width="0.5"/>
<rect x="395.48" y="303.21" width="8.09" height="6.584" fill="#d5e6f1" stroke="#9a9a9a" stroke-width="0.5"/>
<rect x="403.57" y="303.21" width="8.09" height="6.584" fill="#f5a283" stroke="#9a9a9a" stroke-width="0.5"/>
<rect x="411.66" y="303.21" width="8.09" height="6.584" fill="#f7f7f7" stroke="#9a9a9a" stroke-width="0.5"/>
<rect x="419.75" y="303.21" width="8.09" height="6.584" fill="#f5a283" stroke="#9a9a9a" stroke-width="0.5"/>
<rect x="427.84" y="303.21" width="8.09" height="6.584" fill="#a1c6df" stroke="#9a9a9a" stroke-width="0.5"/>
<rect x="368.0" y="303.21" width="8.1" height="6.584" fill="#f7b6cf" stroke="#9a9a9a" stroke-width="0.45"/>
<rect x="379.30" y="309.80" width="8.09" height="6.584" fill="#b0282f" stroke="#9a9a9a" stroke-width="0.5"/>
<rect x="387.39" y="309.80" width="8.09" height="6.584" fill="#fcd9c6" stroke="#9a9a9a" stroke-width="0.5"/>
<rect x="395.48" y="309.80" width="8.09" height="6.584" fill="#d5e6f1" stroke="#9a9a9a" stroke-width="0.5"/>
<rect x="403.57" y="309.80" width="8.09" height="6.584" fill="#a1c6df" stroke="#9a9a9a" stroke-width="0.5"/>
<rect x="411.66" y="309.80" width="8.09" height="6.584" fill="#d5e6f1" stroke="#9a9a9a" stroke-width="0.5"/>
<rect x="419.75" y="309.80" width="8.09" height="6.584" fill="#d5e6f1" stroke="#9a9a9a" stroke-width="0.5"/>
<rect x="427.84" y="309.80" width="8.09" height="6.584" fill="#d5e6f1" stroke="#9a9a9a" stroke-width="0.5"/>
<rect x="368.0" y="309.80" width="8.1" height="6.584" fill="#7d4ea3" stroke="#9a9a9a" stroke-width="0.45"/>
<rect x="379.30" y="316.38" width="8.09" height="6.584" fill="#b0282f" stroke="#9a9a9a" stroke-width="0.5"/>
<rect x="387.39" y="316.38" width="8.09" height="6.584" fill="#d8604f" stroke="#9a9a9a" stroke-width="0.5"/>
<rect x="395.48" y="316.38" width="8.09" height="6.584" fill="#5a8fc3" stroke="#9a9a9a" stroke-width="0.5"/>
<rect x="403.57" y="316.38" width="8.09" height="6.584" fill="#d5e6f1" stroke="#9a9a9a" stroke-width="0.5"/>
<rect x="411.66" y="316.38" width="8.09" height="6.584" fill="#a1c6df" stroke="#9a9a9a" stroke-width="0.5"/>
<rect x="419.75" y="316.38" width="8.09" height="6.584" fill="#fcd9c6" stroke="#9a9a9a" stroke-width="0.5"/>
<rect x="427.84" y="316.38" width="8.09" height="6.584" fill="#5a8fc3" stroke="#9a9a9a" stroke-width="0.5"/>
<rect x="368.0" y="316.38" width="8.1" height="6.584" fill="#7d4ea3" stroke="#9a9a9a" stroke-width="0.45"/>
<rect x="379.30" y="322.96" width="8.09" height="6.584" fill="#b0282f" stroke="#9a9a9a" stroke-width="0.5"/>
<rect x="387.39" y="322.96" width="8.09" height="6.584" fill="#f7f7f7" stroke="#9a9a9a" stroke-width="0.5"/>
<rect x="395.48" y="322.96" width="8.09" height="6.584" fill="#a1c6df" stroke="#9a9a9a" stroke-width="0.5"/>
<rect x="403.57" y="322.96" width="8.09" height="6.584" fill="#a1c6df" stroke="#9a9a9a" stroke-width="0.5"/>
<rect x="411.66" y="322.96" width="8.09" height="6.584" fill="#5a8fc3" stroke="#9a9a9a" stroke-width="0.5"/>
<rect x="419.75" y="322.96" width="8.09" height="6.584" fill="#fcd9c6" stroke="#9a9a9a" stroke-width="0.5"/>
<rect x="427.84" y="322.96" width="8.09" height="6.584" fill="#a1c6df" stroke="#9a9a9a" stroke-width="0.5"/>
<rect x="368.0" y="322.96" width="8.1" height="6.584" fill="#3e5b8a" stroke="#9a9a9a" stroke-width="0.45"/>
<rect x="379.30" y="329.55" width="8.09" height="6.584" fill="#d8604f" stroke="#9a9a9a" stroke-width="0.5"/>
<rect x="387.39" y="329.55" width="8.09" height="6.584" fill="#d8604f" stroke="#9a9a9a" stroke-width="0.5"/>
<rect x="395.48" y="329.55" width="8.09" height="6.584" fill="#252a57" stroke="#9a9a9a" stroke-width="0.5"/>
<rect x="403.57" y="329.55" width="8.09" height="6.584" fill="#f7f7f7" stroke="#9a9a9a" stroke-width="0.5"/>
<rect x="411.66" y="329.55" width="8.09" height="6.584" fill="#252a57" stroke="#9a9a9a" stroke-width="0.5"/>
<rect x="419.75" y="329.55" width="8.09" height="6.584" fill="#a1c6df" stroke="#9a9a9a" stroke-width="0.5"/>
<rect x="427.84" y="329.55" width="8.09" height="6.584" fill="#252a57" stroke="#9a9a9a" stroke-width="0.5"/>
<rect x="368.0" y="329.55" width="8.1" height="6.584" fill="#141414" stroke="#9a9a9a" stroke-width="0.45"/>
<rect x="379.30" y="336.13" width="8.09" height="6.584" fill="#d5e6f1" stroke="#9a9a9a" stroke-width="0.5"/>
<rect x="387.39" y="336.13" width="8.09" height="6.584" fill="#f5a283" stroke="#9a9a9a" stroke-width="0.5"/>
<rect x="395.48" y="336.13" width="8.09" height="6.584" fill="#3a5ca7" stroke="#9a9a9a" stroke-width="0.5"/>
<rect x="403.57" y="336.13" width="8.09" height="6.584" fill="#a1c6df" stroke="#9a9a9a" stroke-width="0.5"/>
<rect x="411.66" y="336.13" width="8.09" height="6.584" fill="#3a5ca7" stroke="#9a9a9a" stroke-width="0.5"/>
<rect x="419.75" y="336.13" width="8.09" height="6.584" fill="#5a8fc3" stroke="#9a9a9a" stroke-width="0.5"/>
<rect x="427.84" y="336.13" width="8.09" height="6.584" fill="#3a5ca7" stroke="#9a9a9a" stroke-width="0.5"/>
<rect x="368.0" y="336.13" width="8.1" height="6.584" fill="#141414" stroke="#9a9a9a" stroke-width="0.45"/>
<rect x="379.30" y="342.72" width="8.09" height="6.584" fill="#fcd9c6" stroke="#9a9a9a" stroke-width="0.5"/>
<rect x="387.39" y="342.72" width="8.09" height="6.584" fill="#f7f7f7" stroke="#9a9a9a" stroke-width="0.5"/>
<rect x="395.48" y="342.72" width="8.09" height="6.584" fill="#252a57" stroke="#9a9a9a" stroke-width="0.5"/>
<rect x="403.57" y="342.72" width="8.09" height="6.584" fill="#a1c6df" stroke="#9a9a9a" stroke-width="0.5"/>
<rect x="411.66" y="342.72" width="8.09" height="6.584" fill="#252a57" stroke="#9a9a9a" stroke-width="0.5"/>
<rect x="419.75" y="342.72" width="8.09" height="6.584" fill="#a1c6df" stroke="#9a9a9a" stroke-width="0.5"/>
<rect x="427.84" y="342.72" width="8.09" height="6.584" fill="#3a5ca7" stroke="#9a9a9a" stroke-width="0.5"/>
<rect x="368.0" y="342.72" width="8.1" height="6.584" fill="#9fd68a" stroke="#9a9a9a" stroke-width="0.45"/>
<rect x="379.30" y="349.30" width="8.09" height="6.584" fill="#f5a283" stroke="#9a9a9a" stroke-width="0.5"/>
<rect x="387.39" y="349.30" width="8.09" height="6.584" fill="#fcd9c6" stroke="#9a9a9a" stroke-width="0.5"/>
<rect x="395.48" y="349.30" width="8.09" height="6.584" fill="#3a5ca7" stroke="#9a9a9a" stroke-width="0.5"/>
<rect x="403.57" y="349.30" width="8.09" height="6.584" fill="#a1c6df" stroke="#9a9a9a" stroke-width="0.5"/>
<rect x="411.66" y="349.30" width="8.09" height="6.584" fill="#3a5ca7" stroke="#9a9a9a" stroke-width="0.5"/>
<rect x="419.75" y="349.30" width="8.09" height="6.584" fill="#3a5ca7" stroke="#9a9a9a" stroke-width="0.5"/>
<rect x="427.84" y="349.30" width="8.09" height="6.584" fill="#3a5ca7" stroke="#9a9a9a" stroke-width="0.5"/>
<rect x="368.0" y="349.30" width="8.1" height="6.584" fill="#9fd68a" stroke="#9a9a9a" stroke-width="0.45"/>
<path d="M367.60,23.39H361.40V29.98H367.60M367.60,43.14H361.40V49.73H367.60M367.60,36.56H357.70V46.44H361.40M361.40,26.68H356.50V41.50H357.70M367.60,56.31H361.70V62.90H367.60M367.60,69.48H364.00V76.06H367.60M367.60,89.23H364.50V95.82H367.60M367.60,82.65H363.50V92.52H364.50M364.00,72.77H362.50V87.59H363.50M367.60,108.98H364.00V115.57H367.60M367.60,102.40H362.50V112.28H364.00M367.60,128.74H363.50V135.32H367.60M367.60,122.15H362.00V132.03H363.50M362.50,107.34H361.00V127.09H362.00M362.50,80.18H360.20V117.21H361.00M361.70,59.60H355.50V98.70H360.20M356.50,34.09H348.60V79.15H355.50M367.60,155.07H363.00V161.66H367.60M367.60,148.49H359.00V158.36H363.00M367.60,168.24H358.60V174.82H367.60M359.00,153.43H356.80V171.53H358.60M367.60,181.41H360.50V187.99H367.60M367.60,194.58H358.60V201.16H367.60M360.50,184.70H355.00V197.87H358.60M367.60,207.74H361.40V214.33H367.60M367.60,220.91H361.40V227.50H367.60M361.40,211.04H355.90V224.20H361.40M355.00,191.28H353.20V217.62H355.90M356.80,162.48H347.70V204.45H353.20M367.60,141.90H344.00V183.47H347.70M348.60,56.62H340.50V162.68H344.00M367.60,234.08H361.40V240.66H367.60M367.60,247.25H357.70V253.83H367.60M361.40,237.37H345.00V250.54H357.70M367.60,267.00H362.00V273.58H367.60M367.60,260.42H359.00V270.29H362.00M367.60,280.17H362.50V286.75H367.60M367.60,299.92H362.50V306.50H367.60M367.60,293.34H360.00V303.21H362.50M362.50,283.46H353.50V298.27H360.00M359.00,265.35H352.60V290.87H353.50M367.60,319.67H359.20V326.26H367.60M367.60,313.09H356.70V322.96H359.20M367.60,346.01H360.80V352.59H367.60M367.60,339.42H358.40V349.30H360.80M367.60,332.84H354.30V344.36H358.40M356.70,318.03H346.90V338.60H354.30M352.60,278.11H340.40V328.31H346.90M345.00,243.96H328.90V303.21H340.40M340.50,109.65H322.30V273.58H328.90" fill="none" stroke="#383838" stroke-width="0.8"/>
<text x="438.4" y="26.79" font-size="8.4" fill="#111" stroke="#111" stroke-width="0.08">LTBP4</text>
<text x="438.4" y="33.38" font-size="8.4" fill="#111" stroke="#111" stroke-width="0.08">NQO1</text>
<text x="438.4" y="39.96" font-size="8.4" fill="#111" stroke="#111" stroke-width="0.08">CAPNS1</text>
<text x="438.4" y="46.54" font-size="8.4" fill="#111" stroke="#111" stroke-width="0.08">FBLN7</text>
<text x="438.4" y="53.13" font-size="8.4" fill="#111" stroke="#111" stroke-width="0.08">H1.1</text>
<text x="438.4" y="59.71" font-size="8.4" fill="#111" stroke="#111" stroke-width="0.08">H1.4</text>
<text x="438.4" y="66.30" font-size="8.4" fill="#111" stroke="#111" stroke-width="0.08">PKLR</text>
<text x="438.4" y="72.88" font-size="8.4" fill="#111" stroke="#111" stroke-width="0.08">IGFBP7</text>
<text x="438.4" y="79.46" font-size="8.4" fill="#111" stroke="#111" stroke-width="0.08">FBN1</text>
<text x="438.4" y="86.05" font-size="8.4" fill="#111" stroke="#111" stroke-width="0.08">COL12A1</text>
<text x="438.4" y="92.63" font-size="8.4" fill="#111" stroke="#111" stroke-width="0.08">TNC</text>
<text x="438.4" y="99.22" font-size="8.4" fill="#111" stroke="#111" stroke-width="0.08">KRT20</text>
<text x="438.4" y="105.80" font-size="8.4" fill="#111" stroke="#111" stroke-width="0.08">CAPG</text>
<text x="438.4" y="112.38" font-size="8.4" fill="#111" stroke="#111" stroke-width="0.08">DPYSL3</text>
<text x="438.4" y="118.97" font-size="8.4" fill="#111" stroke="#111" stroke-width="0.08">CORO1A</text>
<text x="438.4" y="125.55" font-size="8.4" fill="#111" stroke="#111" stroke-width="0.08">KRT19</text>
<text x="438.4" y="132.14" font-size="8.4" fill="#111" stroke="#111" stroke-width="0.08">UMOD</text>
<text x="438.4" y="138.72" font-size="8.4" fill="#111" stroke="#111" stroke-width="0.08">COL5A1</text>
<text x="438.4" y="145.30" font-size="8.4" fill="#111" stroke="#111" stroke-width="0.08">NPEPL1</text>
<text x="438.4" y="151.89" font-size="8.4" fill="#111" stroke="#111" stroke-width="0.08">MRPS22</text>
<text x="438.4" y="158.47" font-size="8.4" fill="#111" stroke="#111" stroke-width="0.08">GIGYF2</text>
<text x="438.4" y="165.06" font-size="8.4" fill="#111" stroke="#111" stroke-width="0.08">RNH1</text>
<text x="438.4" y="171.64" font-size="8.4" fill="#111" stroke="#111" stroke-width="0.08">TPM2</text>
<text x="438.4" y="178.22" font-size="8.4" fill="#111" stroke="#111" stroke-width="0.08">CTSZ</text>
<text x="438.4" y="184.81" font-size="8.4" fill="#111" stroke="#111" stroke-width="0.08">CP</text>
<text x="438.4" y="191.39" font-size="8.4" fill="#111" stroke="#111" stroke-width="0.08">PLG</text>
<text x="438.4" y="197.98" font-size="8.4" fill="#111" stroke="#111" stroke-width="0.08">F2</text>
<text x="438.4" y="204.56" font-size="8.4" fill="#111" stroke="#111" stroke-width="0.08">DCPS</text>
<text x="438.4" y="211.14" font-size="8.4" fill="#111" stroke="#111" stroke-width="0.08">TTR</text>
<text x="438.4" y="217.73" font-size="8.4" fill="#111" stroke="#111" stroke-width="0.08">ALB</text>
<text x="438.4" y="224.31" font-size="8.4" fill="#111" stroke="#111" stroke-width="0.08">DLAT</text>
<text x="438.4" y="230.90" font-size="8.4" fill="#111" stroke="#111" stroke-width="0.08">COL4A2</text>
<text x="438.4" y="237.48" font-size="8.4" fill="#111" stroke="#111" stroke-width="0.08">SPTA1</text>
<text x="438.4" y="244.06" font-size="8.4" fill="#111" stroke="#111" stroke-width="0.08">ANK1</text>
<text x="438.4" y="250.65" font-size="8.4" fill="#111" stroke="#111" stroke-width="0.08">EPB41</text>
<text x="438.4" y="257.23" font-size="8.4" fill="#111" stroke="#111" stroke-width="0.08">GK</text>
<text x="438.4" y="263.82" font-size="8.4" fill="#111" stroke="#111" stroke-width="0.08">NUP43</text>
<text x="438.4" y="270.40" font-size="8.4" fill="#111" stroke="#111" stroke-width="0.08">BAIAP2</text>
<text x="438.4" y="276.98" font-size="8.4" fill="#111" stroke="#111" stroke-width="0.08">ACOT8</text>
<text x="438.4" y="283.57" font-size="8.4" fill="#111" stroke="#111" stroke-width="0.08">RPL10</text>
<text x="438.4" y="290.15" font-size="8.4" fill="#111" stroke="#111" stroke-width="0.08">UQCRH</text>
<text x="438.4" y="296.74" font-size="8.4" fill="#111" stroke="#111" stroke-width="0.08">APOA4</text>
<text x="438.4" y="303.32" font-size="8.4" fill="#111" stroke="#111" stroke-width="0.08">AMBP</text>
<text x="438.4" y="309.90" font-size="8.4" fill="#111" stroke="#111" stroke-width="0.08">NDUFA5</text>
<text x="438.4" y="316.49" font-size="8.4" fill="#111" stroke="#111" stroke-width="0.08">DAZAP1</text>
<text x="438.4" y="323.07" font-size="8.4" fill="#111" stroke="#111" stroke-width="0.08">PLEKHA6</text>
<text x="438.4" y="329.66" font-size="8.4" fill="#111" stroke="#111" stroke-width="0.08">DAB2</text>
<text x="438.4" y="336.24" font-size="8.4" fill="#111" stroke="#111" stroke-width="0.08">SLC22A8</text>
<text x="438.4" y="342.82" font-size="8.4" fill="#111" stroke="#111" stroke-width="0.08">NEDD4L</text>
<text x="438.4" y="349.41" font-size="8.4" fill="#111" stroke="#111" stroke-width="0.08">MLYCD</text>
<text x="438.4" y="355.99" font-size="8.4" fill="#111" stroke="#111" stroke-width="0.08">CYP4A12A</text>
<text x="0" y="0" font-size="8.4" fill="#111" transform="translate(380.35 359.2) rotate(90)">tGFR_28day</text>
<text x="0" y="0" font-size="8.4" fill="#111" transform="translate(388.44 359.2) rotate(90)">NGAL_28day</text>
<text x="0" y="0" font-size="8.4" fill="#111" transform="translate(396.53 359.2) rotate(90)">BUN_24hr</text>
<text x="0" y="0" font-size="8.4" fill="#111" transform="translate(404.62 359.2) rotate(90)">BUN_28day</text>
<text x="0" y="0" font-size="8.4" fill="#111" transform="translate(412.71 359.2) rotate(90)">Cr_24hr</text>
<text x="0" y="0" font-size="8.4" fill="#111" transform="translate(420.80 359.2) rotate(90)">Cr_28day</text>
<text x="0" y="0" font-size="8.4" fill="#111" transform="translate(428.88 359.2) rotate(90)">CystatinC</text>
<text x="0" y="0" font-size="8.4" font-weight="bold" fill="#111" transform="translate(369.00 359.2) rotate(90)">Category</text>
<rect x="487.3" y="19.70" width="8.6" height="11.65" fill="#691d26"/>
<rect x="487.3" y="31.29" width="8.6" height="11.65" fill="#b0282f"/>
<rect x="487.3" y="42.88" width="8.6" height="11.65" fill="#d8604f"/>
<rect x="487.3" y="54.47" width="8.6" height="11.65" fill="#f5a283"/>
<rect x="487.3" y="66.06" width="8.6" height="11.65" fill="#fcd9c6"/>
<rect x="487.3" y="77.65" width="8.6" height="11.65" fill="#f7f7f7"/>
<rect x="487.3" y="89.24" width="8.6" height="11.65" fill="#d5e6f1"/>
<rect x="487.3" y="100.83" width="8.6" height="11.65" fill="#a1c6df"/>
<rect x="487.3" y="112.42" width="8.6" height="11.65" fill="#5a8fc3"/>
<rect x="487.3" y="124.01" width="8.6" height="11.65" fill="#3a5ca7"/>
<rect x="487.3" y="135.60" width="8.6" height="11.65" fill="#252a57"/>
<text x="498.60" y="24.40" font-size="8.4" fill="#1a1a1a" >0.8</text>
<text x="498.60" y="41.00" font-size="8.4" fill="#1a1a1a" >0.6</text>
<text x="498.60" y="57.50" font-size="8.4" fill="#1a1a1a" >0.4</text>
<text x="498.60" y="74.00" font-size="8.4" fill="#1a1a1a" >0.2</text>
<text x="498.60" y="89.20" font-size="8.4" fill="#1a1a1a" >0</text>
<text x="498.60" y="107.00" font-size="8.4" fill="#1a1a1a" >-0.2</text>
<text x="498.60" y="123.50" font-size="8.4" fill="#1a1a1a" >-0.4</text>
<text x="498.60" y="139.50" font-size="8.4" fill="#1a1a1a" >-0.6</text>
<text x="12.30" y="13.00" font-size="10.6" fill="#222" >(A)</text>
<text x="317.60" y="13.00" font-size="10.6" fill="#222" >(C)</text>
<text x="12.30" y="424.40" font-size="10.6" fill="#222" >(B)</text>
<path d="M26.60,435.5V532.0M35.05,435.5V532.0M43.50,435.5V532.0M51.95,435.5V532.0M60.40,435.5V532.0M68.85,435.5V532.0M77.30,435.5V532.0M85.75,435.5V532.0M24.60,523.40H89.13M24.60,511.60H89.13M24.60,499.80H89.13M24.60,488.00H89.13M24.60,476.20H89.13M24.60,464.40H89.13M24.60,452.60H89.13M24.60,440.80H89.13" stroke="#f0f0f0" stroke-width="0.5" fill="none"/>
<text x="23.50" y="442.60" font-size="5.2" text-anchor="end" fill="#444" >60</text>
<path d="M24.30,440.80h1.6" stroke="#555" stroke-width="0.5"/>
<text x="23.50" y="466.20" font-size="5.2" text-anchor="end" fill="#444" >30</text>
<path d="M24.30,464.40h1.6" stroke="#555" stroke-width="0.5"/>
<text x="23.50" y="489.80" font-size="5.2" text-anchor="end" fill="#444" >0</text>
<path d="M24.30,488.00h1.6" stroke="#555" stroke-width="0.5"/>
<text x="23.50" y="513.40" font-size="5.2" text-anchor="end" fill="#444" >-30</text>
<path d="M24.30,511.60h1.6" stroke="#555" stroke-width="0.5"/>
<text x="26.60" y="537.80" font-size="5.2" text-anchor="middle" fill="#444" >-80</text>
<path d="M26.60,532.3v1.4" stroke="#555" stroke-width="0.5"/>
<text x="43.50" y="537.80" font-size="5.2" text-anchor="middle" fill="#444" >-40</text>
<path d="M43.50,532.3v1.4" stroke="#555" stroke-width="0.5"/>
<text x="60.40" y="537.80" font-size="5.2" text-anchor="middle" fill="#444" >0</text>
<path d="M60.40,532.3v1.4" stroke="#555" stroke-width="0.5"/>
<text x="77.30" y="537.80" font-size="5.2" text-anchor="middle" fill="#444" >40</text>
<path d="M77.30,532.3v1.4" stroke="#555" stroke-width="0.5"/>
<path d="M60.40,435.5V532.0M24.60,488.0H91.13" stroke="#555" stroke-width="0.8" stroke-dasharray="3,2.3" fill="none"/>
<path d="M44.20,469.00L49.40,478.05L39.00,478.05Z" fill="#3d8b6e" stroke="#1f3d31" stroke-width="0.7"/>
<path d="M55.80,467.20L61.00,476.25L50.60,476.25Z" fill="#3d8b6e" stroke="#1f3d31" stroke-width="0.7"/>
<path d="M53.60,472.10L58.80,481.15L48.40,481.15Z" fill="#3d8b6e" stroke="#1f3d31" stroke-width="0.7"/>
<path d="M59.10,478.40L64.30,487.45L53.90,487.45Z" fill="#3d8b6e" stroke="#1f3d31" stroke-width="0.7"/>
<path d="M50.50,515.30L55.70,524.35L45.30,524.35Z" fill="#3d8b6e" stroke="#1f3d31" stroke-width="0.7"/>
<circle cx="75.5" cy="484.5" r="4.0" fill="#e63b3f" stroke="#221818" stroke-width="0.85"/>
<circle cx="60.9" cy="489.1" r="4.0" fill="#e63b3f" stroke="#221818" stroke-width="0.85"/>
<circle cx="62.0" cy="491.5" r="4.0" fill="#e63b3f" stroke="#221818" stroke-width="0.85"/>
<circle cx="67.6" cy="499.6" r="4.0" fill="#e63b3f" stroke="#221818" stroke-width="0.85"/>
<circle cx="60.5" cy="487.0" r="4.0" fill="#e63b3f" stroke="#221818" stroke-width="0.85"/>
<ellipse cx="67.4" cy="491.0" rx="17.7" ry="17.7" transform="rotate(0 67.4 491.0)" fill="rgba(232,65,74,0.28)" stroke="#e4505a" stroke-width="0.9"/>
<ellipse cx="51.0" cy="492.2" rx="16.5" ry="37.3" transform="rotate(0 51.0 492.2)" fill="rgba(61,139,110,0.25)" stroke="#3f9072" stroke-width="0.9"/>
<circle cx="104.39999999999999" cy="483.8" r="4.1" fill="#e63b3f"/>
<path d="M104.40,488.6L109.50,496.6L99.30,496.6Z" fill="#3d8b6e"/>
<text x="112.40" y="485.70" font-size="5.15" fill="#222" >AKI</text>
<text x="112.40" y="495.80" font-size="5.15" fill="#222" >Sham</text>
<text x="57.40" y="545.90" font-size="6.5" text-anchor="middle" fill="#111" >PC1 (28.5%)</text>
<text x="0" y="0" font-size="6.5" text-anchor="middle" fill="#111" transform="translate(12.50 484.8) rotate(-90)">PC2 (16.4%)</text>
<path d="M155.30,435.5V532.0M162.80,435.5V532.0M170.30,435.5V532.0M177.80,435.5V532.0M185.30,435.5V532.0M192.80,435.5V532.0M200.30,435.5V532.0M207.80,435.5V532.0M153.30,523.40H210.80M153.30,511.60H210.80M153.30,499.80H210.80M153.30,488.00H210.80M153.30,476.20H210.80M153.30,464.40H210.80M153.30,452.60H210.80M153.30,440.80H210.80" stroke="#f0f0f0" stroke-width="0.5" fill="none"/>
<text x="150.10" y="442.60" font-size="5.2" text-anchor="end" fill="#444" >60</text>
<path d="M150.90,440.80h1.6" stroke="#555" stroke-width="0.5"/>
<text x="150.10" y="466.20" font-size="5.2" text-anchor="end" fill="#444" >30</text>
<path d="M150.90,464.40h1.6" stroke="#555" stroke-width="0.5"/>
<text x="150.10" y="489.80" font-size="5.2" text-anchor="end" fill="#444" >0</text>
<path d="M150.90,488.00h1.6" stroke="#555" stroke-width="0.5"/>
<text x="150.10" y="513.40" font-size="5.2" text-anchor="end" fill="#444" >-30</text>
<path d="M150.90,511.60h1.6" stroke="#555" stroke-width="0.5"/>
<text x="155.30" y="537.80" font-size="5.2" text-anchor="middle" fill="#444" >-80</text>
<path d="M155.30,532.3v1.4" stroke="#555" stroke-width="0.5"/>
<text x="170.30" y="537.80" font-size="5.2" text-anchor="middle" fill="#444" >-40</text>
<path d="M170.30,532.3v1.4" stroke="#555" stroke-width="0.5"/>
<text x="185.30" y="537.80" font-size="5.2" text-anchor="middle" fill="#444" >0</text>
<path d="M185.30,532.3v1.4" stroke="#555" stroke-width="0.5"/>
<text x="200.30" y="537.80" font-size="5.2" text-anchor="middle" fill="#444" >40</text>
<path d="M200.30,532.3v1.4" stroke="#555" stroke-width="0.5"/>
<path d="M185.30,435.5V532.0M153.30,488.0H212.80" stroke="#555" stroke-width="0.8" stroke-dasharray="3,2.3" fill="none"/>
<path d="M192.40,472.60L197.60,481.65L187.20,481.65Z" fill="#3d8b6e" stroke="#1f3d31" stroke-width="0.7"/>
<path d="M177.80,477.60L183.00,486.65L172.60,486.65Z" fill="#3d8b6e" stroke="#1f3d31" stroke-width="0.7"/>
<path d="M190.40,480.10L195.60,489.15L185.20,489.15Z" fill="#3d8b6e" stroke="#1f3d31" stroke-width="0.7"/>
<path d="M195.40,478.90L200.60,487.95L190.20,487.95Z" fill="#3d8b6e" stroke="#1f3d31" stroke-width="0.7"/>
<path d="M187.90,512.80L193.10,521.85L182.70,521.85Z" fill="#3d8b6e" stroke="#1f3d31" stroke-width="0.7"/>
<circle cx="194.1" cy="465.7" r="4.0" fill="#6a88c2" stroke="#221818" stroke-width="0.85"/>
<circle cx="178.3" cy="476.0" r="4.0" fill="#6a88c2" stroke="#221818" stroke-width="0.85"/>
<circle cx="180.3" cy="482.8" r="4.0" fill="#6a88c2" stroke="#221818" stroke-width="0.85"/>
<circle cx="169.8" cy="486.6" r="4.0" fill="#6a88c2" stroke="#221818" stroke-width="0.85"/>
<circle cx="188.4" cy="511.0" r="4.0" fill="#6a88c2" stroke="#221818" stroke-width="0.85"/>
<ellipse cx="184.4" cy="487.6" rx="23.0" ry="35.0" transform="rotate(3 184.4 487.6)" fill="rgba(95,120,190,0.25)" stroke="#5577bb" stroke-width="0.9"/>
<ellipse cx="185.9" cy="494.5" rx="19.2" ry="32.3" transform="rotate(2 185.9 494.5)" fill="rgba(61,139,110,0.25)" stroke="#3f9072" stroke-width="0.9"/>
<circle cx="226.2" cy="483.8" r="4.1" fill="#6a88c2"/>
<path d="M226.20,488.6L231.30,496.6L221.10,496.6Z" fill="#3d8b6e"/>
<text x="234.20" y="485.70" font-size="5.15" fill="#222" >MSC/HA</text>
<text x="234.20" y="495.80" font-size="5.15" fill="#222" >Sham</text>
<text x="183.10" y="545.90" font-size="6.5" text-anchor="middle" fill="#111" >PC1 (26.2%)</text>
<text x="0" y="0" font-size="6.5" text-anchor="middle" fill="#111" transform="translate(140.70 484.8) rotate(-90)">PC2 (21.6%)</text>
<path d="M282.30,435.5V532.0M290.30,435.5V532.0M298.30,435.5V532.0M306.30,435.5V532.0M314.30,435.5V532.0M322.30,435.5V532.0M330.30,435.5V532.0M338.30,435.5V532.0M280.30,523.40H341.50M280.30,511.60H341.50M280.30,499.80H341.50M280.30,488.00H341.50M280.30,476.20H341.50M280.30,464.40H341.50M280.30,452.60H341.50M280.30,440.80H341.50" stroke="#f0f0f0" stroke-width="0.5" fill="none"/>
<text x="279.40" y="442.60" font-size="5.2" text-anchor="end" fill="#444" >60</text>
<path d="M280.20,440.80h1.6" stroke="#555" stroke-width="0.5"/>
<text x="279.40" y="466.20" font-size="5.2" text-anchor="end" fill="#444" >30</text>
<path d="M280.20,464.40h1.6" stroke="#555" stroke-width="0.5"/>
<text x="279.40" y="489.80" font-size="5.2" text-anchor="end" fill="#444" >0</text>
<path d="M280.20,488.00h1.6" stroke="#555" stroke-width="0.5"/>
<text x="279.40" y="513.40" font-size="5.2" text-anchor="end" fill="#444" >-30</text>
<path d="M280.20,511.60h1.6" stroke="#555" stroke-width="0.5"/>
<text x="282.30" y="537.80" font-size="5.2" text-anchor="middle" fill="#444" >-80</text>
<path d="M282.30,532.3v1.4" stroke="#555" stroke-width="0.5"/>
<text x="298.30" y="537.80" font-size="5.2" text-anchor="middle" fill="#444" >-40</text>
<path d="M298.30,532.3v1.4" stroke="#555" stroke-width="0.5"/>
<text x="314.30" y="537.80" font-size="5.2" text-anchor="middle" fill="#444" >0</text>
<path d="M314.30,532.3v1.4" stroke="#555" stroke-width="0.5"/>
<text x="330.30" y="537.80" font-size="5.2" text-anchor="middle" fill="#444" >40</text>
<path d="M330.30,532.3v1.4" stroke="#555" stroke-width="0.5"/>
<path d="M314.30,435.5V532.0M280.30,488.0H343.50" stroke="#555" stroke-width="0.8" stroke-dasharray="3,2.3" fill="none"/>
<path d="M304.50,453.70L309.70,462.75L299.30,462.75Z" fill="#3d8b6e" stroke="#1f3d31" stroke-width="0.7"/>
<path d="M316.60,470.10L321.80,479.15L311.40,479.15Z" fill="#3d8b6e" stroke="#1f3d31" stroke-width="0.7"/>
<path d="M314.10,473.80L319.30,482.85L308.90,482.85Z" fill="#3d8b6e" stroke="#1f3d31" stroke-width="0.7"/>
<path d="M316.60,482.80L321.80,491.85L311.40,491.85Z" fill="#3d8b6e" stroke="#1f3d31" stroke-width="0.7"/>
<path d="M297.70,492.20L302.90,501.25L292.50,501.25Z" fill="#3d8b6e" stroke="#1f3d31" stroke-width="0.7"/>
<circle cx="331.7" cy="477.0" r="4.0" fill="#a74fae" stroke="#221818" stroke-width="0.85"/>
<circle cx="315.3" cy="490.3" r="4.0" fill="#a74fae" stroke="#221818" stroke-width="0.85"/>
<circle cx="315.8" cy="487.5" r="4.0" fill="#a74fae" stroke="#221818" stroke-width="0.85"/>
<circle cx="319.9" cy="504.9" r="4.0" fill="#a74fae" stroke="#221818" stroke-width="0.85"/>
<circle cx="314.1" cy="511.0" r="4.0" fill="#a74fae" stroke="#221818" stroke-width="0.85"/>
<ellipse cx="320.6" cy="493.4" rx="14.3" ry="31.2" transform="rotate(27 320.6 493.4)" fill="rgba(170,80,170,0.25)" stroke="#a453aa" stroke-width="0.9"/>
<ellipse cx="306.6" cy="480.0" rx="19.2" ry="31.6" transform="rotate(6 306.6 480.0)" fill="rgba(61,139,110,0.25)" stroke="#3f9072" stroke-width="0.9"/>
<circle cx="356.20000000000005" cy="483.8" r="4.1" fill="#a74fae"/>
<path d="M356.20,488.6L361.30,496.6L351.10,496.6Z" fill="#3d8b6e"/>
<text x="364.20" y="485.70" font-size="5.15" fill="#222" >MSC/IV</text>
<text x="364.20" y="495.80" font-size="5.15" fill="#222" >Sham</text>
<text x="312.40" y="545.90" font-size="6.5" text-anchor="middle" fill="#111" >PC1 (25.9%)</text>
<text x="0" y="0" font-size="6.5" text-anchor="middle" fill="#111" transform="translate(268.20 484.8) rotate(-90)">PC2 (20.2%)</text>
<path d="M411.20,435.5V532.0M417.90,435.5V532.0M424.60,435.5V532.0M431.30,435.5V532.0M438.00,435.5V532.0M444.70,435.5V532.0M451.40,435.5V532.0M458.10,435.5V532.0M409.20,523.40H460.78M409.20,511.60H460.78M409.20,499.80H460.78M409.20,488.00H460.78M409.20,476.20H460.78M409.20,464.40H460.78M409.20,452.60H460.78M409.20,440.80H460.78" stroke="#f0f0f0" stroke-width="0.5" fill="none"/>
<text x="407.50" y="442.60" font-size="5.2" text-anchor="end" fill="#444" >60</text>
<path d="M408.30,440.80h1.6" stroke="#555" stroke-width="0.5"/>
<text x="407.50" y="466.20" font-size="5.2" text-anchor="end" fill="#444" >30</text>
<path d="M408.30,464.40h1.6" stroke="#555" stroke-width="0.5"/>
<text x="407.50" y="489.80" font-size="5.2" text-anchor="end" fill="#444" >0</text>
<path d="M408.30,488.00h1.6" stroke="#555" stroke-width="0.5"/>
<text x="407.50" y="513.40" font-size="5.2" text-anchor="end" fill="#444" >-30</text>
<path d="M408.30,511.60h1.6" stroke="#555" stroke-width="0.5"/>
<text x="411.20" y="537.80" font-size="5.2" text-anchor="middle" fill="#444" >-80</text>
<path d="M411.20,532.3v1.4" stroke="#555" stroke-width="0.5"/>
<text x="424.60" y="537.80" font-size="5.2" text-anchor="middle" fill="#444" >-40</text>
<path d="M424.60,532.3v1.4" stroke="#555" stroke-width="0.5"/>
<text x="438.00" y="537.80" font-size="5.2" text-anchor="middle" fill="#444" >0</text>
<path d="M438.00,532.3v1.4" stroke="#555" stroke-width="0.5"/>
<text x="451.40" y="537.80" font-size="5.2" text-anchor="middle" fill="#444" >40</text>
<path d="M451.40,532.3v1.4" stroke="#555" stroke-width="0.5"/>
<path d="M438.00,435.5V532.0M409.20,488.0H462.78" stroke="#555" stroke-width="0.8" stroke-dasharray="3,2.3" fill="none"/>
<path d="M444.20,472.00L449.40,481.05L439.00,481.05Z" fill="#3d8b6e" stroke="#1f3d31" stroke-width="0.7"/>
<path d="M446.30,484.80L451.50,493.85L441.10,493.85Z" fill="#3d8b6e" stroke="#1f3d31" stroke-width="0.7"/>
<path d="M443.50,482.30L448.70,491.35L438.30,491.35Z" fill="#3d8b6e" stroke="#1f3d31" stroke-width="0.7"/>
<path d="M433.50,501.40L438.70,510.45L428.30,510.45Z" fill="#3d8b6e" stroke="#1f3d31" stroke-width="0.7"/>
<path d="M442.40,500.10L447.60,509.15L437.20,509.15Z" fill="#3d8b6e" stroke="#1f3d31" stroke-width="0.7"/>
<circle cx="438.1" cy="450.4" r="4.0" fill="#f08a38" stroke="#221818" stroke-width="0.85"/>
<circle cx="422.8" cy="482.3" r="4.0" fill="#f08a38" stroke="#221818" stroke-width="0.85"/>
<circle cx="427.1" cy="494.3" r="4.0" fill="#f08a38" stroke="#221818" stroke-width="0.85"/>
<circle cx="440.7" cy="484.9" r="4.0" fill="#f08a38" stroke="#221818" stroke-width="0.85"/>
<circle cx="436.8" cy="491.3" r="4.0" fill="#f08a38" stroke="#221818" stroke-width="0.85"/>
<ellipse cx="434.2" cy="473.6" rx="19.0" ry="32.6" transform="rotate(13 434.2 473.6)" fill="rgba(240,135,60,0.3)" stroke="#ec8540" stroke-width="0.9"/>
<ellipse cx="440.8" cy="497.8" rx="15.4" ry="28.4" transform="rotate(17 440.8 497.8)" fill="rgba(61,139,110,0.25)" stroke="#3f9072" stroke-width="0.9"/>
<circle cx="475.0" cy="483.8" r="4.1" fill="#f08a38"/>
<path d="M475.00,488.6L480.10,496.6L469.90,496.6Z" fill="#3d8b6e"/>
<text x="483.00" y="485.70" font-size="5.15" fill="#222" >MSC/Media</text>
<text x="483.00" y="495.80" font-size="5.15" fill="#222" >Sham</text>
<text x="436.90" y="545.90" font-size="6.5" text-anchor="middle" fill="#111" >PC1 (28.1%)</text>
<text x="0" y="0" font-size="6.5" text-anchor="middle" fill="#111" transform="translate(396.60 484.8) rotate(-90)">PC2 (21.8%)</text>
</svg>
</body></html>
